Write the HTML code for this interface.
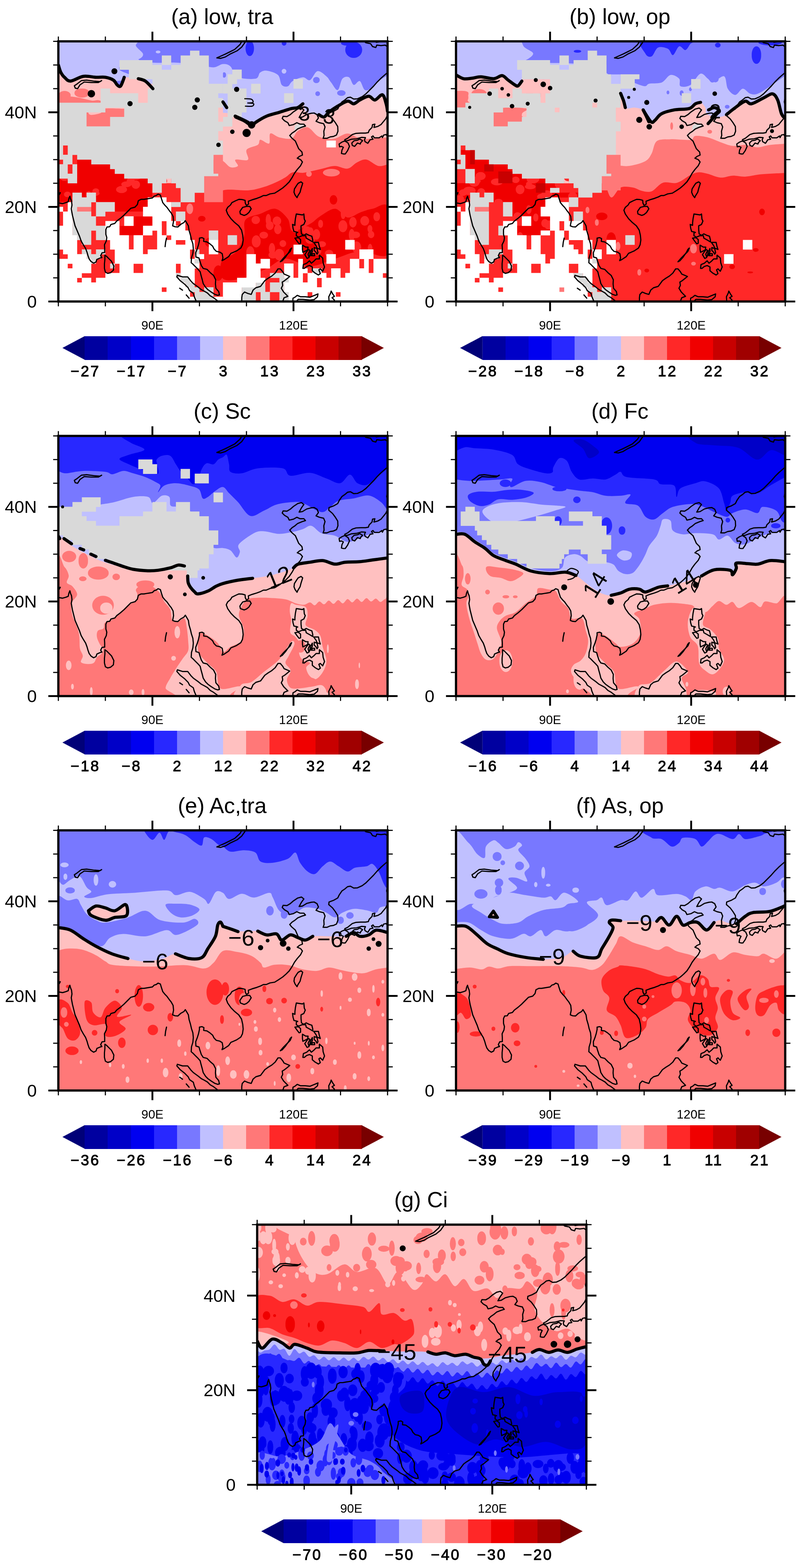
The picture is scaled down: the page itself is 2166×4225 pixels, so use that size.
<!DOCTYPE html>
<html lang="en">
<head>
<meta charset="utf-8">
<title>Cloud type maps (a)-(g)</title>
<style>
html,body{margin:0;padding:0;background:#fff;}
body{width:2166px;height:4225px;overflow:hidden;}
svg{display:block;}
text{font-family:"Liberation Sans",sans-serif;fill:#000;}
.tt{font-size:59px;text-anchor:middle;}
.yl{font-size:47px;text-anchor:end;}
.xl{font-size:33.5px;text-anchor:middle;}
.cl{font-size:40.5px;text-anchor:middle;letter-spacing:3.8px;stroke:#000;stroke-width:1.3px;}
.ct{font-size:52px;text-anchor:middle;}
</style>
</head>
<body>
<svg width="2166" height="4225" viewBox="0 0 2166 4225">
<rect width="2166" height="4225" fill="#fff"/>
<defs>
<g id="coast" fill="none" stroke="#000" stroke-width="3.2" stroke-linejoin="round" stroke-linecap="round">
<path d="M-12.7,-266.4L0,-265.7L11.4,-263.8L20.3,-266.4L26.6,-268.9L28.5,-277.8L31,-283.6L32.9,-276.6L35.5,-270.2L36.7,-260L34.8,-249.8L36.1,-242.2L38,-232L41.8,-216.7L45,-203.9L49.4,-193.7L53.2,-184.8L57,-175.9L61.4,-163.1L67.2,-152.9L73.5,-142.7L77.3,-132.5L79.8,-123.6L83,-114.7L88.1,-107.7L95,-103.2L101.4,-106.4L103.9,-113.4L112.8,-117.3L117.2,-118.5L114,-123.6L117.8,-131.3L124.8,-131.9L124.8,-142.7L124.2,-152.9L129.2,-163.1L130.5,-172.1L128,-181L128,-193.7L131.1,-200.7L138.1,-201.4L141.9,-207.7L152,-210.3L157.1,-216.7L167.2,-224.3L177.4,-233.2L187.5,-243.4L195.1,-251.1L206.5,-254.3L212.9,-261.3L215.4,-271.5L223,-275.3L230.6,-275.3L238.2,-276.6L245.8,-277.8L253.4,-279.1L258.5,-284.2L263.5,-285.5L268.6,-289.3L274.9,-286.8L277.5,-277.8L281.3,-266.4L287.6,-258.7L292.7,-253.6L299,-244.7L304.1,-238.3L309.1,-229.4L310.4,-216.7L307.9,-203.9L314.2,-201.4L321.8,-200.7L329.4,-207.7L338.3,-212.8L342.1,-217.9L345.9,-211.6L350.3,-203.9L352.2,-191.2L356,-178.4L358.6,-167L362.4,-155.5L363.6,-142.7L362.4,-130L358.6,-117.3L357.9,-104.5L362.4,-100.7L368.7,-94.3L376.3,-86.7L382,-80.3L384.5,-70.1L387.7,-58.6L390.2,-48.4L396.6,-38.2L402.9,-31.9L411.8,-25.5L421.9,-19.1L429.5,-16.6L433.9,-17.8L432,-26.8L424.4,-35.7L423.2,-47.2L423.8,-58.6L418.1,-70.1L409.2,-77.7L400.4,-86.7L390.2,-89.2L385.2,-96.9L381.4,-108.3L378.8,-117.3L370.6,-119.8L370,-131.3L374.4,-142.7L377.6,-152.9L380.1,-164.4L380.1,-170.8L387.1,-172.1L392.1,-169.5L391.5,-161.9L400.4,-160.6L408,-155.5L415.6,-149.1L419.4,-141.5L425.7,-135.1L434.6,-133.2L441.5,-128.7L443.4,-117.3L440.9,-110.2L447.3,-113.4L458.7,-121.1L465,-130L471.3,-132.5L480.2,-136.4L491.6,-144L496,-152.9L497.9,-165.7L496.7,-178.4L493.5,-192.4L485.9,-203.9L475.1,-212.8L465,-223L456.1,-235.8L452.3,-246L456.1,-253.6L463.7,-260L467.5,-266.4L477.7,-271.5L486.5,-275.3L495.4,-274.7L503,-272.7L503.6,-265.1L506.8,-258.7L512.5,-262.5L511.9,-270.2L522,-274L534.7,-277.8L544.8,-281.7L552.4,-285.5L560,-285.5L570.1,-289.9L582.8,-291.9L593,-298.2L604.4,-305.9L613.2,-313.5L622.1,-322.4L629.7,-333.9L636,-345.4L643.6,-355.6L652.5,-365.8L657.6,-376L652.5,-382.3L643.6,-386.2L650,-391.3L657.6,-394.5L656.3,-402.7L647.4,-411.7L643.6,-420.6L638.6,-432.1L628.4,-441L623.4,-447.3L629.7,-453.7L637.3,-458.8L644.9,-465.2L657.6,-470.3L665.8,-472.8L661.4,-477.9L651.2,-477.9L642.4,-481.8L633.5,-476.7L622.1,-474.1L618.3,-481.8L609.4,-486.9L603.1,-493.2L605.6,-499L615.8,-498.3L624.6,-503.4L633.5,-511.1L644.9,-518.7L655,-521.3L661.4,-516.2L655,-507.3L648.7,-495.8L657.6,-497.1L669,-504.1L681.6,-507.3L689.2,-507.9L696.9,-503.4L700.7,-494.5L694.3,-485.6L703.2,-481.8L714.6,-479.2L718.4,-470.3L715.2,-458.8L715.9,-447.3L713.3,-439.7L723.5,-439.7L732.3,-443.5L741.2,-444.8L749.4,-448.6L753.2,-458.8L752.6,-471.6L746.3,-481.8L738.7,-492L728.5,-500.9L729.2,-507.9L741.2,-512.3L752.6,-518.7L757,-527.6L764,-537.8L771.6,-542.9L779.2,-549.3L786.8,-550.6L795.7,-545.5L805.8,-546.1L818.5,-551.9L828.6,-559.5L838.8,-569.7L848.9,-579.9L859,-591.4L869.2,-601.6L879.3,-610.5L886.9,-616.9L894.5,-630.9M-6.3,-284.2L2.5,-288L5.1,-293.1L-2.5,-291.9M821,-703.5L828.6,-697.2L841.3,-694.6L846.4,-687L855.2,-684.4L857.8,-690.8L869.2,-689.5L880.6,-690.8L890.7,-683.1M851.4,-704.8L856.5,-698.4L864.1,-699.7L866.6,-704.8M756.4,-424.4L764,-429.5L771.6,-432.7L780.5,-427L784.3,-418L779.2,-406.6L772.9,-397.6L767.8,-397.6L762.7,-398.9L764,-407.8L767.8,-415.5L762.7,-418L757.7,-416.8ZM790.6,-427L796.9,-433.3L805.8,-434.6L812.1,-437.8L819.7,-433.3L814.7,-428.2L813.4,-424.4L805.8,-427L798.2,-418L791.9,-420.6ZM889.4,-504.7L885.6,-499.6L881.8,-492L875.5,-484.3L869.2,-476.7L860.3,-471.6L850.2,-469L852.7,-477.9L846.4,-476.7L845.1,-469L837.5,-461.4L835,-455L827.4,-453.7L814.7,-453.7L802,-453.1L791.9,-449.9L779.2,-439.7L771.6,-435.9L772.2,-432.7L779.2,-433.3L789.3,-437.2L803.3,-438.4L817.2,-442.3L827.4,-441.6L824.8,-435.9L826.1,-430.8L833.7,-426.3L840,-435.9L847.6,-437.2L843.8,-443.5L847.6,-446.1L851.4,-441L864.1,-441L871.7,-446.1L873,-441.6L876.8,-448.6L883.1,-449.9L885.6,-446.1L890.7,-448.6M890.7,-527.6L886.3,-530.2L884.4,-537.8L885.6,-544.2L892,-548M646.2,-318.6L653.8,-322.4L658.2,-318.6L656.3,-312.3L653.8,-304.6L651.2,-294.4L644.9,-284.2L643,-279.8L637.9,-286.8L634.8,-294.4L636,-303.3L642.4,-313.5ZM490.3,-244.7L496.7,-253.6L506.8,-256.2L515.7,-256.2L519.5,-249.8L513.1,-239.6L506.8,-234.5L500.5,-232L490.3,-235.8L489.1,-242.2ZM125.4,-124.9L130.5,-121.1L138.1,-113.4L143.2,-108.3L149.5,-95.6L148.2,-84.1L140.6,-77.7L133,-75.8L126.7,-79L124.2,-89.2L124.2,-102L125.4,-113.4ZM429.5,6.4L428.2,-2.5L418.1,-10.2L409.2,-15.3L401.6,-22.9L392.8,-28L385.2,-31.9L377.6,-38.2L363.6,-48.4L357.3,-54.8L348.4,-66.3L334.5,-66.3L320.6,-70.7L319.3,-66.3L328.2,-56.1L339.6,-47.2L349.7,-37L353.5,-29.3L363.6,-22.3L366.2,-12.7L370,-3.8L376.3,5.1M326.9,-35.7L334.5,-30.6M344.6,-17.8L352.2,-8.9M287.6,-147.8L288.9,-159.3L291.4,-170.8M494.1,6.4L494.1,-10.2L495.4,-19.1L501.7,-25.5L510.6,-21.7L519.5,-19.1L524.5,-30.6L532.1,-37L544.8,-40.8L556.2,-56.1L565.1,-62.5L575.2,-68.8L584.1,-76.5L591.7,-87.9L598,-87.9L604.4,-80.3L608.2,-73.9L623.4,-67.5L615.8,-61.2L609.4,-56.1L603.1,-52.3L604.4,-43.3L600.6,-35.7L606.9,-25.5L618.3,-14L608.2,-10.2L601.8,6.4M631,6.4L632.2,-8.9L637.3,-11.5L643.6,-16.6L652.5,-12.7L665.2,-12.7L677.8,-11.5L690.5,-16.6L699.4,-20.4L698.1,-12.7L689.2,-5.1L677.8,-3.8L658.8,-5.7L646.2,-5.7L634.8,6.4M729.8,6.4L728.5,-12.7L733.6,-22.9L734.9,-28L739.9,-19.1L743.7,-14L737.4,-10.2L743.7,-3.8L738.7,6.4M641.1,-235.8L657.6,-233.2L661.4,-235.8L662.6,-221.8L665.2,-216.7L661.4,-207.7L653.8,-203.9L653.8,-193.7L655,-182.3L661.4,-178.4L667.7,-182.3L675.3,-178.4L682.9,-175.9L685.4,-165.7L685.4,-160.6L676.6,-165.7L667.7,-170.8L666.4,-177.2L656.3,-177.2L647.4,-173.3L641.1,-177.2L641.1,-184.8L644.9,-186.1L641.1,-187.4L634.8,-188.6L632.2,-197.5L631,-207.7L637.3,-205.2L637.3,-211.6L638.6,-223ZM637.3,-170.8L646.2,-172.1L652.5,-167L652.5,-156.8L648.7,-155.5L643.6,-161.9ZM598,-107.1L606.9,-117.3L617,-127.4L624.6,-135.1L628.4,-144L624.6,-140.2L620.8,-132.5L612,-119.8L603.1,-109.6ZM657.6,-151.7L666.4,-146.6L672.8,-146.6L671.5,-138.9L658.8,-132.5L657.6,-140.2ZM663.9,-126.2L670.2,-116L675.3,-118.5L672.8,-127.4L677.8,-137.6L674,-140.2L669,-133.8ZM676.6,-121.1L684.2,-133.8L684.2,-142.7L679.1,-132.5ZM681.6,-123.6L690.5,-123.6L690.5,-128.7L684.2,-128.7ZM688,-159.3L700.7,-159.3L703.2,-147.8L705.7,-140.2L696.9,-144L694.3,-150.4ZM689.2,-145.3L696.9,-142.7L699.4,-131.3L696.9,-127.4L694.3,-132.5L689.2,-137.6ZM658.8,-89.2L660.1,-99.4L669,-103.2L676.6,-109.6L681.6,-103.2L688,-108.3L694.3,-114.7L703.2,-114.7L703.2,-124.9L712.1,-117.3L713.3,-104.5L717.1,-93L712.1,-81.6L705.7,-87.9L701.9,-85.4L705.7,-75.2L700.7,-71.4L691.8,-76.5L684.2,-82.8L684.2,-93L676.6,-96.9L669,-94.3L662.6,-89.2ZM43.1,-581.2L50.7,-586.3L62.1,-595.2L76,-596.5L95,-593.9L112.8,-592.6L116.6,-595.2L107.7,-590.1L88.7,-590.1L69.7,-591.4L58.3,-583.7L51.9,-573.5L45.6,-574.8ZM427,-656.4L437.1,-655.1L449.8,-658.9L462.5,-666.6L481.5,-675.5L494.1,-685.7L503,-698.4L505.5,-709.9L496.7,-704.8L489.1,-692.1L475.1,-679.3L462.5,-672.9L449.8,-666.6L438.4,-661.5Z"/>
</g>
<clipPath id="clip-a"><rect x="157.2" y="111.4" width="886.9" height="701"/></clipPath>
<clipPath id="clip-b"><rect x="1228.5" y="111.4" width="886.9" height="701"/></clipPath>
<clipPath id="clip-c"><rect x="157.2" y="1174.6" width="886.9" height="701"/></clipPath>
<clipPath id="clip-d"><rect x="1228.5" y="1174.6" width="886.9" height="701"/></clipPath>
<clipPath id="clip-e"><rect x="157.2" y="2237.4" width="886.9" height="701"/></clipPath>
<clipPath id="clip-f"><rect x="1228.5" y="2237.4" width="886.9" height="701"/></clipPath>
<clipPath id="clip-g"><rect x="692.8" y="3299.8" width="886.9" height="701"/></clipPath>
</defs>
<g id="panel-a">
<g clip-path="url(#clip-a)">
<rect x="155.2" y="109.4" width="890.9" height="705" fill="#7878ff"/>
<path d="M661.5,130.5a11.4,20.4 0 1,0 22.8,0a11.4,20.4 0 1,0 -22.8,0ZM759,116.5a6.3,6.4 0 1,0 12.7,0a6.3,6.4 0 1,0 -12.7,0ZM930.1,134.4a22.8,21.7 0 1,0 45.6,0a22.8,21.7 0 1,0 -45.6,0ZM918.7,116.5a15.2,6.4 0 1,0 30.4,0a15.2,6.4 0 1,0 -30.4,0Z" fill="#2828ff"/>
<path d="M358.7,98.7C359.9,102.9 361.8,116.3 366.3,124.2C370.7,132 384.2,139.9 385.3,145.8C386.3,151.8 368.4,156 372.6,159.9C376.8,163.7 393.7,167.3 410.6,168.8C427.5,170.3 452.8,167.7 473.9,168.8C495.1,169.8 520.4,173 537.3,175.1C554.2,177.3 564.8,181.9 575.3,181.5C585.9,181.1 593,173 600.6,172.6C608.3,172.2 614.6,173.2 620.9,179C627.3,184.7 627.5,201.5 638.7,207C649.9,212.5 677.7,214 688.1,212.1C698.4,210.2 695.7,199.2 700.7,195.5C705.8,191.9 710.5,189.4 718.5,190.4C726.5,191.5 742.1,195.5 748.9,201.9C755.6,208.3 754.6,223.6 759,228.7C763.5,233.8 770.6,234.2 775.5,232.5C780.4,230.8 781.4,222.5 788.2,218.5C794.9,214.4 808.2,208.7 816,208.3C823.9,207.9 828.5,218.7 835,215.9C841.6,213.2 847.9,193.4 855.3,191.7C862.7,190 873.3,200.6 879.4,205.7C885.5,210.8 887,216.1 892.1,222.3C897.1,228.5 904.7,244.4 909.8,242.7C914.9,241 917.4,217.8 922.5,212.1C927.5,206.4 935.1,205.5 940.2,208.3C945.3,211 948,227 952.9,228.7C957.7,230.4 964.3,216.1 969.3,218.5C974.4,220.8 977.6,239.8 983.3,242.7C989,245.6 997.4,239.7 1003.6,235.7C1009.7,231.7 1012,224.7 1020,218.5C1028.1,212.2 1046.4,201.5 1051.7,198.1L1051.7,817.4 L358.7,817.4 Z" fill="#c0c0ff"/>
<path d="M150.9,98.7C185.5,79.6 322.8,94.4 358.7,98.7C394.6,102.9 361.8,116.3 366.3,124.2C370.7,132 384.2,139.9 385.3,145.8C386.3,151.8 381,156 372.6,159.9C364.1,163.7 343,164.1 334.6,168.8C326.1,173.5 317.7,180.5 321.9,187.9C326.1,195.3 388.4,209.1 359.9,213.4C331.4,217.6 185.7,232.5 150.9,213.4C116,194.3 116.2,117.8 150.9,98.7Z" fill="#c0c0ff"/>
<path d="M843.5,215.6a8.9,7.6 0 1,0 17.7,0a8.9,7.6 0 1,0 -17.7,0ZM849.5,252.4a6.3,6.4 0 1,0 12.7,0a6.3,6.4 0 1,0 -12.7,0ZM908.2,250.7a11.4,7.6 0 1,0 22.8,0a11.4,7.6 0 1,0 -22.8,0ZM598.9,202a5.1,6.4 0 1,0 10.1,0a5.1,6.4 0 1,0 -10.1,0Z" fill="#7878ff"/>
<path d="M758.8,192a6.3,6.4 0 1,0 12.7,0a6.3,6.4 0 1,0 -12.7,0ZM419.5,140a6.3,3.8 0 1,0 12.7,0a6.3,3.8 0 1,0 -12.7,0Z" fill="#c0c0ff"/>
<path d="M150.9,177.7C153,180.5 159.7,189.2 163.5,194.3C167.3,199.4 169.2,204.3 173.7,208.3C178.1,212.3 181.7,218.9 190.1,218.5C198.6,218.1 212.9,207.4 224.4,205.7C235.8,204 248.6,207.9 258.6,208.3C268.5,208.7 276.1,207 283.9,208.3C291.7,209.6 300.2,212.5 305.4,215.9C310.7,219.3 312.4,225.9 315.6,228.7C318.7,231.4 321.7,234.6 324.4,232.5C327.2,230.4 330.4,220 332,215.9C333.7,211.9 329.9,209.3 334.6,208.3C339.2,207.2 353.6,208.9 359.9,209.6C366.3,210.2 367.3,210.6 372.6,212.1C377.9,213.6 385,214 391.6,218.5C398.1,222.9 398.1,231.2 411.9,238.9C425.6,246.5 453,255.9 473.9,264.4C494.9,272.9 518.3,283.5 537.3,289.9C556.3,296.2 575.3,300.1 588,302.6C600.6,305.1 605.7,303.4 613.3,305.1C620.9,306.8 624.5,308.8 633.6,312.8C642.7,316.8 660.6,324.7 667.8,329.4C675,334 673.1,340.8 676.7,340.8C680.3,340.8 682.4,334 689.3,329.4C696.3,324.7 707.9,317.3 718.5,312.8C729,308.3 741.5,306 752.7,302.6C763.9,299.2 777.4,294.5 785.6,292.4C793.9,290.3 797,292 802.1,289.9C807.2,287.7 812.7,278.2 816,279.7C819.4,281.1 819.2,294.3 822.4,298.8C825.5,303.2 828.9,304.7 835,306.4C841.2,308.1 852.8,307.5 859.1,309C865.5,310.5 868.6,316.4 873.1,315.3C877.5,314.3 879.6,307.5 885.7,302.6C891.8,297.7 901.4,291 909.8,286C918.2,281 929.2,273.7 936.4,272.6C943.6,271.6 947.4,280.2 952.9,279.7C958.4,279.1 962.6,272.9 969.3,269.5C976.1,266.1 986.7,259.3 993.4,259.3C1000.2,259.3 1003.8,270.1 1009.9,269.5C1016,268.8 1025.1,253.7 1030.2,255.4C1035.2,257.1 1038,272.2 1040.3,279.7C1042.6,287.1 1042.2,296.2 1044.1,300.1C1046,303.9 1050.4,302.2 1051.7,302.6L1051.7,817.4 L150.9,817.4 Z" fill="#ffc0c0"/>
<path d="M150.9,264.4C158.3,263.7 179.4,259.5 195.2,260.5C211,261.6 231.1,268 245.9,270.7C260.7,273.5 256.4,263.3 283.9,277.1C311.4,290.9 368.4,330.2 410.6,353.6C452.8,376.9 509.8,405.6 537.3,417.3C564.8,429 564.8,420.9 575.3,423.7C585.9,426.4 593.1,429.3 600.6,433.7C608.2,438.2 614.1,448.3 620.8,450.6C627.5,452.8 638.7,450.5 640.9,447.1C643.2,443.8 629.7,433.2 634.2,430.4C638.7,427.6 662.8,434.9 667.8,430.4C672.8,426 659.9,410.3 664.4,403.5C668.9,396.8 688.5,394.6 694.7,390.2C700.8,385.7 696.4,377.2 701.4,376.6C706.4,376.1 720.3,389.5 724.8,386.7C729.3,383.9 723.8,362.6 728.2,359.8C732.7,357 742.2,367.6 751.7,369.9C761.2,372.1 776.8,376.1 785.3,373.3C793.7,370.6 794.8,358.2 802.1,353.2C809.4,348.2 820,340.9 829,343.1C837.9,345.4 847.4,361.5 855.8,366.6C864.2,371.6 871.4,372.2 879.3,373.3C887.1,374.5 893.3,375.6 902.8,373.3C912.4,371.1 925.2,359.8 936.4,359.8C947.6,359.8 958.8,371.1 970,373.3C981.2,375.6 990.1,373.9 1003.6,373.3C1017,372.8 1042.7,370.5 1050.6,369.9L1050.6,817.4 L150.9,817.4 Z" fill="#ff7878"/>
<path d="M157.5,257.5a16.5,11.5 0 1,0 32.9,0a16.5,11.5 0 1,0 -32.9,0ZM200.7,250.7a20.3,11.5 0 1,0 40.5,0a20.3,11.5 0 1,0 -40.5,0Z" fill="#ff7878"/>
<path d="M150.9,379.1C173,383.3 240.6,396.1 283.9,404.6C327.2,413.1 370.5,415.2 410.6,430.1C450.7,444.9 501.4,478.9 524.6,493.8C547.9,508.6 541.5,511.2 550,519.3C558.4,527.3 566.9,543.3 575.3,542.2C583.8,541.1 585.2,517.8 600.6,512.9C616.1,508 650.9,514 667.8,512.9C684.7,511.8 690.8,509.5 702,506.5C713.2,503.5 724,499.7 735,495C745.9,490.4 759,483.6 767.9,478.5C776.8,473.4 780.1,466.6 788.2,464.5C796.2,462.3 807,466.4 816,465.7C825.1,465.1 833.8,462.5 842.6,460.6C851.5,458.7 859.3,456.5 869.3,454.3C879.2,452 891,447.3 902.2,447.3C913.4,447.3 926.5,455.9 936.4,454.3C946.3,452.7 953.3,441.7 961.7,437.7C970.2,433.7 977.4,428.5 987.1,430.1C996.8,431.6 1009.3,445.6 1020,447.3C1030.8,449 1046.4,441.4 1051.7,440.2L1051.7,817.4 L150.9,817.4 Z" fill="#ff2828"/>
<path d="M661.1,592.8C668.4,582.7 687.9,581.1 701.4,576.1C714.8,571.1 729.4,560.4 741.7,562.6C754,564.8 767.4,579.4 775.2,589.5C783.1,599.6 778.6,620.8 788.7,623C798.7,625.2 823.4,609.6 835.7,602.9C848,596.2 851.3,589.4 862.5,582.7C873.7,576 890.5,562 902.8,562.6C915.1,563.2 925.2,584.5 936.4,586.2C947.6,587.9 958.8,576.6 970,572.7C981.2,568.7 990.7,564.8 1003.6,562.6C1016.4,560.4 1039.9,539.1 1047.1,559.3C1054.4,579.4 1060,664 1047.1,683.5C1034.3,703.1 994,674.6 970,676.8C945.9,679 925.2,690.2 902.8,696.9C880.4,703.6 858.1,717.1 835.7,717.1C813.3,717.1 788.1,695.8 768.5,696.9C748.9,698.1 737.7,714.9 718.1,723.8C698.5,732.8 670.5,746.2 650.9,750.7C631.4,755.2 609.6,758.6 600.6,750.7C591.7,742.9 591.8,715.5 597.4,703.7C603,691.9 624.2,691.3 634.2,680.1C644.3,668.9 653.2,651.1 657.7,636.5C662.1,622 653.8,602.9 661.1,592.8Z" fill="#f00000"/>
<path d="M716.3,607.8a10.4,12 0 1,0 20.8,0a10.4,12 0 1,0 -20.8,0ZM734.7,595.4a11.4,12.2 0 1,0 22.8,0a11.4,12.2 0 1,0 -22.8,0ZM849.6,662.8a6.3,11 0 1,0 12.7,0a6.3,11 0 1,0 -12.7,0ZM875.1,682.9a11.4,9.7 0 1,0 22.8,0a11.4,9.7 0 1,0 -22.8,0ZM739.8,686.2a12.7,14.3 0 1,0 25.3,0a12.7,14.3 0 1,0 -25.3,0ZM990,616.8a6.6,10.6 0 1,0 13.2,0a6.6,10.6 0 1,0 -13.2,0ZM840.7,677.3a12.4,11 0 1,0 24.8,0a12.4,11 0 1,0 -24.8,0ZM715.7,592.3a7.1,15.9 0 1,0 14.2,0a7.1,15.9 0 1,0 -14.2,0ZM827.7,624.5a8.5,12 0 1,0 17,0a8.5,12 0 1,0 -17,0ZM723.3,686.9a11.8,9.7 0 1,0 23.6,0a11.8,9.7 0 1,0 -23.6,0ZM948.2,666.1a12.4,15.7 0 1,0 24.8,0a12.4,15.7 0 1,0 -24.8,0ZM940.8,598.9a10,14.1 0 1,0 20,0a10,14.1 0 1,0 -20,0ZM699,633.6a11.5,9.4 0 1,0 23.1,0a11.5,9.4 0 1,0 -23.1,0ZM1006.1,583.9a8.9,11 0 1,0 17.7,0a8.9,11 0 1,0 -17.7,0ZM822.9,644.7a12.7,11.1 0 1,0 25.3,0a12.7,11.1 0 1,0 -25.3,0ZM663.4,680a10.9,16.4 0 1,0 21.8,0a10.9,16.4 0 1,0 -21.8,0ZM842.6,631.8a9.9,14.3 0 1,0 19.8,0a9.9,14.3 0 1,0 -19.8,0ZM738.5,617.7a9.9,13.3 0 1,0 19.8,0a9.9,13.3 0 1,0 -19.8,0ZM724.2,670.7a8.5,15.9 0 1,0 17,0a8.5,15.9 0 1,0 -17,0ZM787.5,619.1a8.2,8.5 0 1,0 16.5,0a8.2,8.5 0 1,0 -16.5,0ZM677.7,592.8a11.3,11 0 1,0 22.6,0a11.3,11 0 1,0 -22.6,0ZM911.7,609.5a12,16.2 0 1,0 24.1,0a12,16.2 0 1,0 -24.1,0ZM806.3,571.5a12.4,12.9 0 1,0 24.8,0a12.4,12.9 0 1,0 -24.8,0ZM991,631.9a8.7,9.8 0 1,0 17.5,0a8.7,9.8 0 1,0 -17.5,0ZM990.3,671.7a6.7,14.8 0 1,0 13.4,0a6.7,14.8 0 1,0 -13.4,0ZM946.5,632.8a11.7,8.2 0 1,0 23.3,0a11.7,8.2 0 1,0 -23.3,0ZM753.1,656.3a9,9.2 0 1,0 18,0a9,9.2 0 1,0 -18,0ZM678.3,650.4a12,16.4 0 1,0 24.1,0a12,16.4 0 1,0 -24.1,0ZM939.6,633.3a8,16.2 0 1,0 16,0a8,16.2 0 1,0 -16,0ZM857.3,603.1a6.5,9.6 0 1,0 12.9,0a6.5,9.6 0 1,0 -12.9,0ZM970.7,595.1a11.9,13 0 1,0 23.8,0a11.9,13 0 1,0 -23.8,0ZM814.3,621a11.7,10.5 0 1,0 23.3,0a11.7,10.5 0 1,0 -23.3,0ZM856,657.9a11.1,7.8 0 1,0 22.3,0a11.1,7.8 0 1,0 -22.3,0ZM918,575.9a6.5,13 0 1,0 12.9,0a6.5,13 0 1,0 -12.9,0Z" fill="#ff2828"/>
<path d="M888.3,538.4a10.1,12.7 0 1,0 20.3,0a10.1,12.7 0 1,0 -20.3,0ZM619.7,729.6a6.3,11.5 0 1,0 12.7,0a6.3,11.5 0 1,0 -12.7,0ZM646.3,710.4a5.1,6.4 0 1,0 10.1,0a5.1,6.4 0 1,0 -10.1,0ZM533.5,589.4a10.1,7.6 0 1,0 20.3,0a10.1,7.6 0 1,0 -20.3,0ZM552.5,653.1a16.5,12.7 0 1,0 32.9,0a16.5,12.7 0 1,0 -32.9,0ZM575.3,735.9a12.7,19.1 0 1,0 25.3,0a12.7,19.1 0 1,0 -25.3,0Z" fill="#f00000"/>
<path d="M502.5,562.6a8.9,12.7 0 1,0 17.7,0a8.9,12.7 0 1,0 -17.7,0ZM824.7,468.7a7.6,7.6 0 1,0 15.2,0a7.6,7.6 0 1,0 -15.2,0ZM869.9,465.2a22.8,10.2 0 1,0 45.6,0a22.8,10.2 0 1,0 -45.6,0Z" fill="#ff7878"/>
<path d="M281.4,291C287.5,287.3 326.1,284.6 335.1,291C344,297.4 337.3,323.2 335.1,329.6C332.8,336.1 324.4,332.4 321.7,329.6C318.9,326.8 322.3,315.7 318.4,312.9C314.5,310.1 304.4,316.6 298.2,312.9C292.1,309.3 275.2,294.7 281.4,291Z" fill="#ff7878"/>
<path d="M231.1,323C231.6,319.1 241.1,311.2 247.8,309.5C254.5,307.8 266.9,310.1 271.4,312.9C275.8,315.7 270.7,323.5 274.7,326.3C278.6,329.1 291.4,326.8 294.8,329.6C298.2,332.4 299.3,340.9 294.8,343.1C290.3,345.4 276.3,344.8 267.9,343.1C259.6,341.5 250.6,336.4 244.5,333.1C238.4,329.7 230.5,326.9 231.1,323Z" fill="#ff7878"/>
<path d="M241.1,299.4C247.2,295.5 265.1,288.3 281.4,286C297.6,283.8 329,284.9 338.5,286C348,287.2 348,291.7 338.5,292.8C329,293.9 292.6,290.8 281.4,292.8C270.2,294.7 277.5,301.7 271.4,304.5C265.2,307.3 249.5,310.3 244.5,309.5C239.4,308.6 234.9,303.3 241.1,299.4Z" fill="#ffc0c0"/>
<path d="M169.9,391.5h12.7v13.3h-12.7ZM169.9,404.3h12.7v13.3h-12.7ZM195.2,417h12.7v13.3h-12.7ZM157.2,429.8h12.7v13.3h-12.7ZM195.2,429.8h12.7v13.3h-12.7ZM182.5,442.5h12.7v13.3h-12.7ZM182.5,455.2h12.7v13.3h-12.7Z" fill="#ff2828"/>
<path d="M207.9,429.8h38v13.3h-38ZM207.9,442.5h88.7v13.3h-88.7ZM207.9,455.2h101.4v13.3h-101.4Z" fill="#f00000"/>
<path d="M207.9,468h126.7v13.3h-126.7ZM157.2,480.7h25.3v13.3h-25.3ZM207.9,480.7h190v13.3h-190ZM157.2,493.5h253.4v13.3h-253.4ZM157.2,506.2h253.4v13.3h-253.4ZM157.2,519h38v13.3h-38ZM220.5,519h12.7v13.3h-12.7ZM258.6,519h152v13.3h-152ZM157.2,531.7h38v13.3h-38ZM258.6,531.7h139.4v13.3h-139.4ZM309.2,544.5h88.7v13.3h-88.7ZM309.2,557.2h76v13.3h-76ZM359.9,582.7h50.7v13.3h-50.7ZM359.9,595.4h50.7v13.3h-50.7ZM321.9,608.2h63.4v13.3h-63.4ZM321.9,620.9h63.4v13.3h-63.4Z" fill="#f00000"/>
<path d="M448.6,480.7h12.7v13.3h-12.7Z" fill="#ffc0c0"/>
<path d="M435.9,493.5h38v13.3h-38ZM435.9,506.2h50.7v13.3h-50.7ZM410.6,519h25.3v13.3h-25.3ZM435.9,519h50.7v13.3h-50.7ZM448.6,531.7h38v13.3h-38ZM157.2,544.5h25.3v13.3h-25.3ZM245.9,544.5h12.7v13.3h-12.7ZM169.9,557.2h12.7v13.3h-12.7ZM245.9,557.2h12.7v13.3h-12.7ZM157.2,569.9h12.7v13.3h-12.7ZM245.9,569.9h12.7v13.3h-12.7ZM283.9,569.9h101.4v13.3h-101.4ZM461.3,569.9h12.7v13.3h-12.7ZM157.2,582.7h12.7v13.3h-12.7ZM258.6,582.7h76v13.3h-76ZM461.3,582.7h12.7v13.3h-12.7ZM157.2,595.4h12.7v13.3h-12.7ZM258.6,595.4h25.3v13.3h-25.3ZM321.9,595.4h12.7v13.3h-12.7ZM435.9,595.4h12.7v13.3h-12.7ZM473.9,595.4h12.7v13.3h-12.7ZM435.9,608.2h12.7v13.3h-12.7ZM245.9,620.9h12.7v13.3h-12.7ZM410.6,620.9h12.7v13.3h-12.7ZM435.9,620.9h12.7v13.3h-12.7ZM245.9,633.7h12.7v13.3h-12.7ZM347.2,633.7h12.7v13.3h-12.7ZM385.3,633.7h38v13.3h-38ZM448.6,633.7h12.7v13.3h-12.7ZM207.9,646.4h12.7v13.3h-12.7ZM245.9,646.4h50.7v13.3h-50.7ZM347.2,646.4h12.7v13.3h-12.7ZM385.3,646.4h38v13.3h-38ZM473.9,646.4h25.3v13.3h-25.3ZM207.9,659.2h88.7v13.3h-88.7ZM347.2,659.2h12.7v13.3h-12.7ZM385.3,659.2h38v13.3h-38ZM157.2,671.9h12.7v13.3h-12.7ZM207.9,671.9h12.7v13.3h-12.7ZM245.9,671.9h12.7v13.3h-12.7ZM283.9,671.9h25.3v13.3h-25.3ZM385.3,671.9h12.7v13.3h-12.7ZM512,671.9h12.7v13.3h-12.7ZM157.2,684.7h25.3v13.3h-25.3ZM271.2,684.7h38v13.3h-38ZM512,684.7h12.7v13.3h-12.7ZM258.6,697.4h50.7v13.3h-50.7ZM182.5,710.1h12.7v13.3h-12.7ZM245.9,710.1h50.7v13.3h-50.7ZM309.2,710.1h12.7v13.3h-12.7ZM359.9,710.1h25.3v13.3h-25.3ZM473.9,710.1h12.7v13.3h-12.7ZM245.9,722.9h76v13.3h-76ZM359.9,722.9h25.3v13.3h-25.3ZM473.9,722.9h12.7v13.3h-12.7ZM220.5,735.6h63.3v13.3h-63.3ZM207.9,748.4h12.7v13.3h-12.7ZM245.9,748.4h12.7v13.3h-12.7ZM435.9,773.9h12.7v13.3h-12.7ZM537.3,773.9h12.7v13.3h-12.7ZM512,786.6h12.7v13.3h-12.7Z" fill="#ff2828"/>
<path d="M207.9,557.2h38v13.3h-38Z" fill="#ff7878"/>
<path d="M326.7,496.5a13.8,7.8 0 1,0 27.6,0a13.8,7.8 0 1,0 -27.6,0ZM351.3,476.7a14.6,7.3 0 1,0 29.1,0a14.6,7.3 0 1,0 -29.1,0ZM354.5,497.6a11.4,11.3 0 1,0 22.8,0a11.4,11.3 0 1,0 -22.8,0ZM312.7,510.7a14.8,9.6 0 1,0 29.6,0a14.8,9.6 0 1,0 -29.6,0ZM245.6,521a11.4,6.6 0 1,0 22.8,0a11.4,6.6 0 1,0 -22.8,0ZM341.3,488.4a10.9,10.7 0 1,0 21.8,0a10.9,10.7 0 1,0 -21.8,0ZM438.9,502.3a12.8,7 0 1,0 25.6,0a12.8,7 0 1,0 -25.6,0ZM171.1,469.8a9.8,7.5 0 1,0 19.5,0a9.8,7.5 0 1,0 -19.5,0ZM433.4,487.4a8.5,8 0 1,0 17,0a8.5,8 0 1,0 -17,0ZM231.3,523.9a7.6,9 0 1,0 15.2,0a7.6,9 0 1,0 -15.2,0ZM249.1,514.5a9,6.9 0 1,0 18,0a9,6.9 0 1,0 -18,0ZM160.5,478a13.3,9.2 0 1,0 26.6,0a13.3,9.2 0 1,0 -26.6,0ZM193.4,533.4a8.5,8 0 1,0 17,0a8.5,8 0 1,0 -17,0ZM172.3,523.7a9.1,7.4 0 1,0 18.2,0a9.1,7.4 0 1,0 -18.2,0Z" fill="#ff2828"/>
<path d="M512,136.6h25.3v13.3h-25.3ZM435.9,149.4h25.3v13.3h-25.3ZM486.6,149.4h76v13.3h-76ZM321.9,162.1h88.7v13.3h-88.7ZM435.9,162.1h25.3v13.3h-25.3ZM486.6,162.1h76v13.3h-76ZM321.9,174.8h114v13.3h-114ZM461.3,174.8h101.4v13.3h-101.4ZM347.2,187.6h215.4v13.3h-215.4ZM347.2,200.3h215.4v13.3h-215.4ZM410.6,213.1h152v13.3h-152ZM410.6,225.8h190v13.3h-190ZM271.2,238.6h25.3v13.3h-25.3ZM397.9,238.6h202.7v13.3h-202.7ZM271.2,251.3h101.4v13.3h-101.4ZM397.9,251.3h190.1v13.3h-190.1ZM271.2,264.1h101.4v13.3h-101.4ZM397.9,264.1h202.7v13.3h-202.7ZM157.2,276.8h443.4v13.3h-443.4ZM157.2,289.6h126.7v13.3h-126.7ZM334.6,289.6h253.4v13.3h-253.4ZM157.2,302.3h76v13.3h-76ZM334.6,302.3h253.4v13.3h-253.4ZM157.2,315h76v13.3h-76ZM296.6,315h291.4v13.3h-291.4ZM157.2,327.8h76v13.3h-76ZM296.6,327.8h304.1v13.3h-304.1ZM157.2,340.5h443.4v13.3h-443.4ZM157.2,353.3h430.8v13.3h-430.8ZM157.2,366h430.8v13.3h-430.8ZM157.2,378.8h443.4v13.3h-443.4ZM157.2,391.5h12.7v13.3h-12.7ZM182.5,391.5h418.1v13.3h-418.1ZM157.2,404.3h12.7v13.3h-12.7ZM182.5,404.3h418.1v13.3h-418.1ZM157.2,417h38v13.3h-38ZM207.9,417h380.1v13.3h-380.1ZM169.9,429.8h25.3v13.3h-25.3ZM245.9,429.8h329.4v13.3h-329.4ZM157.2,442.5h25.3v13.3h-25.3ZM195.2,442.5h12.7v13.3h-12.7ZM296.6,442.5h278.7v13.3h-278.7ZM157.2,455.2h25.3v13.3h-25.3ZM195.2,455.2h12.7v13.3h-12.7ZM309.2,455.2h266.1v13.3h-266.1Z" fill="#d9d9d9"/>
<path d="M626,187.6h25.3v13.3h-25.3ZM613.3,200.3h38v13.3h-38ZM613.3,213.1h25.3v13.3h-25.3ZM790.7,213.1h25.3v13.3h-25.3ZM600.6,225.8h25.3v13.3h-25.3ZM676.7,225.8h25.3v13.3h-25.3ZM790.7,225.8h25.3v13.3h-25.3ZM600.6,238.6h63.4v13.3h-63.4ZM676.7,238.6h25.3v13.3h-25.3ZM613.3,251.3h50.7v13.3h-50.7ZM765.4,251.3h25.3v13.3h-25.3ZM613.3,264.1h50.7v13.3h-50.7ZM765.4,264.1h25.3v13.3h-25.3ZM613.3,276.8h50.7v13.3h-50.7ZM613.3,289.6h50.7v13.3h-50.7ZM613.3,302.3h38v13.3h-38ZM600.6,315h25.3v13.3h-25.3ZM600.6,327.8h25.3v13.3h-25.3Z" fill="#d9d9d9"/>
<path d="M879.4,378.8h25.3v13.3h-25.3ZM879.4,383.9h25.3v13.3h-25.3Z" fill="#ffffff"/>
<path d="M157.2,468h50.7v13.3h-50.7ZM334.6,468h253.4v13.3h-253.4ZM182.5,480.7h25.3v13.3h-25.3ZM397.9,480.7h50.7v13.3h-50.7ZM461.3,480.7h114v13.3h-114ZM410.6,493.5h25.3v13.3h-25.3ZM473.9,493.5h88.7v13.3h-88.7ZM410.6,506.2h25.3v13.3h-25.3ZM486.6,506.2h63.4v13.3h-63.4ZM195.2,519h25.3v13.3h-25.3ZM233.2,519h25.3v13.3h-25.3ZM486.6,519h38v13.3h-38ZM195.2,531.7h63.4v13.3h-63.4ZM486.6,531.7h38v13.3h-38ZM195.2,544.5h50.7v13.3h-50.7ZM258.6,544.5h50.7v13.3h-50.7ZM461.3,544.5h25.3v13.3h-25.3ZM195.2,557.2h12.7v13.3h-12.7ZM258.6,557.2h50.7v13.3h-50.7ZM195.2,569.9h50.7v13.3h-50.7ZM258.6,569.9h25.3v13.3h-25.3ZM473.9,569.9h25.3v13.3h-25.3ZM195.2,582.7h63.4v13.3h-63.4ZM473.9,582.7h25.3v13.3h-25.3ZM195.2,595.4h63.4v13.3h-63.4ZM195.2,608.2h88.7v13.3h-88.7ZM195.2,620.9h50.7v13.3h-50.7ZM258.6,620.9h25.3v13.3h-25.3ZM562.6,620.9h25.3v13.3h-25.3ZM207.9,633.7h38v13.3h-38ZM258.6,633.7h25.3v13.3h-25.3ZM562.6,633.7h25.3v13.3h-25.3ZM220.5,646.4h25.3v13.3h-25.3ZM220.5,671.9h25.3v13.3h-25.3ZM258.6,671.9h25.3v13.3h-25.3ZM524.6,671.9h12.7v13.3h-12.7ZM233.2,684.7h38v13.3h-38ZM245.9,697.4h12.7v13.3h-12.7ZM524.6,697.4h12.7v13.3h-12.7ZM296.6,710.1h12.7v13.3h-12.7ZM473.9,735.6h12.7v13.3h-12.7ZM486.6,748.4h25.3v13.3h-25.3ZM499.3,761.1h25.3v13.3h-25.3ZM512,773.9h25.3v13.3h-25.3ZM550,773.9h25.3v13.3h-25.3ZM524.6,786.6h50.7v13.3h-50.7ZM524.6,799.4h50.7v13.3h-50.7Z" fill="#d9d9d9"/>
<path d="M397.9,531.7h50.7v13.3h-50.7ZM182.5,544.5h12.7v13.3h-12.7ZM397.9,544.5h63.4v13.3h-63.4ZM157.2,557.2h12.7v13.3h-12.7ZM182.5,557.2h12.7v13.3h-12.7ZM385.3,557.2h76v13.3h-76ZM169.9,569.9h25.3v13.3h-25.3ZM385.3,569.9h76v13.3h-76ZM169.9,582.7h25.3v13.3h-25.3ZM334.6,582.7h25.3v13.3h-25.3ZM410.6,582.7h50.7v13.3h-50.7ZM169.9,595.4h25.3v13.3h-25.3ZM283.9,595.4h38v13.3h-38ZM334.6,595.4h25.3v13.3h-25.3ZM410.6,595.4h25.3v13.3h-25.3ZM448.6,595.4h25.3v13.3h-25.3ZM486.6,595.4h12.7v13.3h-12.7ZM157.2,608.2h38v13.3h-38ZM283.9,608.2h38v13.3h-38ZM385.3,608.2h50.7v13.3h-50.7ZM448.6,608.2h50.7v13.3h-50.7ZM157.2,620.9h38v13.3h-38ZM283.9,620.9h38v13.3h-38ZM385.3,620.9h25.3v13.3h-25.3ZM423.3,620.9h12.7v13.3h-12.7ZM448.6,620.9h63.3v13.3h-63.3ZM157.2,633.7h50.7v13.3h-50.7ZM283.9,633.7h63.4v13.3h-63.4ZM359.9,633.7h25.3v13.3h-25.3ZM423.3,633.7h25.3v13.3h-25.3ZM461.3,633.7h50.7v13.3h-50.7ZM157.2,646.4h50.7v13.3h-50.7ZM296.6,646.4h50.7v13.3h-50.7ZM359.9,646.4h25.3v13.3h-25.3ZM423.3,646.4h50.7v13.3h-50.7ZM499.3,646.4h25.3v13.3h-25.3ZM562.6,646.4h25.3v13.3h-25.3ZM157.2,659.2h50.7v13.3h-50.7ZM296.6,659.2h50.7v13.3h-50.7ZM359.9,659.2h25.3v13.3h-25.3ZM423.3,659.2h101.4v13.3h-101.4ZM562.6,659.2h25.3v13.3h-25.3ZM169.9,671.9h38v13.3h-38ZM309.2,671.9h76v13.3h-76ZM397.9,671.9h114v13.3h-114ZM562.6,671.9h25.3v13.3h-25.3ZM182.5,684.7h50.7v13.3h-50.7ZM309.2,684.7h202.7v13.3h-202.7ZM524.6,684.7h25.3v13.3h-25.3ZM157.2,697.4h88.7v13.3h-88.7ZM309.2,697.4h215.4v13.3h-215.4ZM157.2,710.1h25.3v13.3h-25.3ZM195.2,710.1h50.7v13.3h-50.7ZM321.9,710.1h38v13.3h-38ZM385.3,710.1h88.7v13.3h-88.7ZM486.6,710.1h50.7v13.3h-50.7ZM157.2,722.9h88.7v13.3h-88.7ZM321.9,722.9h38v13.3h-38ZM385.3,722.9h88.7v13.3h-88.7ZM486.6,722.9h38v13.3h-38ZM157.2,735.6h63.3v13.3h-63.3ZM283.9,735.6h190.1v13.3h-190.1ZM486.6,735.6h38v13.3h-38ZM157.2,748.4h50.7v13.3h-50.7ZM220.5,748.4h25.3v13.3h-25.3ZM258.6,748.4h228.1v13.3h-228.1ZM512,748.4h12.7v13.3h-12.7ZM157.2,761.1h342.1v13.3h-342.1ZM157.2,773.9h278.7v13.3h-278.7ZM448.6,773.9h63.3v13.3h-63.3ZM157.2,786.6h354.8v13.3h-354.8ZM157.2,799.4h367.4v13.3h-367.4ZM575.3,799.4h25.3v13.3h-25.3Z" fill="#ffffff"/>
<path d="M613.3,633.7h25.3v13.3h-25.3ZM613.3,646.4h25.3v13.3h-25.3ZM841.4,722.9h25.3v13.3h-25.3ZM727.3,735.6h38v13.3h-38ZM752.7,748.4h25.3v13.3h-25.3ZM689.3,761.1h25.3v13.3h-25.3ZM727.3,761.1h38v13.3h-38ZM651.3,773.9h63.4v13.3h-63.4ZM727.3,773.9h38v13.3h-38ZM651.3,786.6h38v13.3h-38ZM702,786.6h25.3v13.3h-25.3ZM752.7,786.6h25.3v13.3h-25.3ZM651.3,799.4h38v13.3h-38ZM702,799.4h25.3v13.3h-25.3ZM752.7,799.4h25.3v13.3h-25.3Z" fill="#d9d9d9"/>
<path d="M930.1,646.4h25.3v13.3h-25.3ZM790.7,659.2h25.3v13.3h-25.3ZM930.1,659.2h25.3v13.3h-25.3ZM790.7,671.9h25.3v13.3h-25.3ZM968.1,671.9h38v13.3h-38ZM664,684.7h25.3v13.3h-25.3ZM879.4,684.7h25.3v13.3h-25.3ZM968.1,684.7h38v13.3h-38ZM664,697.4h25.3v13.3h-25.3ZM702,697.4h25.3v13.3h-25.3ZM803.4,697.4h12.7v13.3h-12.7ZM879.4,697.4h25.3v13.3h-25.3ZM942.7,697.4h25.3v13.3h-25.3ZM980.8,697.4h12.7v13.3h-12.7ZM1006.1,697.4h38v13.3h-38ZM664,710.1h38v13.3h-38ZM702,710.1h25.3v13.3h-25.3ZM765.4,710.1h25.3v13.3h-25.3ZM803.4,710.1h12.7v13.3h-12.7ZM942.7,710.1h25.3v13.3h-25.3ZM980.8,710.1h12.7v13.3h-12.7ZM1006.1,710.1h38v13.3h-38ZM664,722.9h38v13.3h-38ZM765.4,722.9h25.3v13.3h-25.3ZM803.4,722.9h25.3v13.3h-25.3ZM892.1,722.9h25.3v13.3h-25.3ZM942.7,722.9h50.7v13.3h-50.7ZM1006.1,722.9h38v13.3h-38ZM664,735.6h38v13.3h-38ZM765.4,735.6h25.3v13.3h-25.3ZM803.4,735.6h12.7v13.3h-12.7ZM828.7,735.6h50.7v13.3h-50.7ZM892.1,735.6h25.3v13.3h-25.3ZM930.1,735.6h101.4v13.3h-101.4ZM638.7,748.4h76v13.3h-76ZM778,748.4h38v13.3h-38ZM828.7,748.4h25.3v13.3h-25.3ZM866.7,748.4h177.4v13.3h-177.4ZM600.6,761.1h88.7v13.3h-88.7ZM765.4,761.1h88.7v13.3h-88.7ZM866.7,761.1h177.4v13.3h-177.4ZM600.6,773.9h50.7v13.3h-50.7ZM765.4,773.9h278.7v13.3h-278.7ZM600.6,786.6h50.7v13.3h-50.7ZM778,786.6h50.7v13.3h-50.7ZM841.4,786.6h63.4v13.3h-63.4ZM917.4,786.6h126.7v13.3h-126.7ZM600.6,799.4h50.7v13.3h-50.7ZM778,799.4h266.1v13.3h-266.1Z" fill="#ffffff"/>
<path d="M347.2,213.4h25.3v12.7h-25.3ZM334.6,226.1h76v12.7h-76ZM372.6,238.9h25.3v38.2h-25.3ZM588,289.9h12.7v38.2h-12.7ZM588,353.6h12.7v25.5h-12.7Z" fill="#ffc0c0"/>
<path d="M435.9,175.1h25.3v12.7h-25.3ZM588,251.6h12.7v12.7h-12.7ZM588,187.9h12.7v25.5h-12.7Z" fill="#c0c0ff"/>
<path d="M575.3,417.3h25.3v44.6h-25.3ZM550,474.7h50.7v70.1h-50.7Z" fill="#ff7878"/>
<path d="M793.2,349.8L809.7,345.9L819.8,337L803.4,333.2L794.5,338.3Z" fill="#d9d9d9"/>
<path d="M157.2,175.1C158.3,178.3 160.8,188.7 163.5,194.3C166.3,199.8 169.2,204.3 173.7,208.3C178.1,212.3 181.7,218.9 190.1,218.5C198.6,218.1 212.9,207.4 224.4,205.7C235.8,204 248.6,207.9 258.6,208.3C268.5,208.7 276.1,207 283.9,208.3C291.7,209.6 300.2,212.5 305.4,215.9C310.7,219.3 312.4,225.9 315.6,228.7C318.7,231.4 321.7,234.6 324.4,232.5C327.2,230.4 330.4,220 332,215.9C333.7,211.9 334.2,209.6 334.6,208.3" fill="none" stroke="#000" stroke-width="8.5" stroke-linecap="round" stroke-linejoin="round"/>
<path d="M372.6,212.1C375.8,213.2 385,214 391.6,218.5C398.1,222.9 408.5,235.5 411.9,238.9" fill="none" stroke="#000" stroke-width="8.5" stroke-linecap="round" stroke-linejoin="round"/>
<path d="M633.6,312.8C639.3,315.6 660.6,324.7 667.8,329.4C675,334 673.1,340.8 676.7,340.8C680.3,340.8 682.4,334 689.3,329.4C696.3,324.7 707.9,317.3 718.5,312.8C729,308.3 741.5,306 752.7,302.6C763.9,299.2 777.4,294.5 785.6,292.4C793.9,290.3 797,292 802.1,289.9C807.2,287.7 813.7,281.4 816,279.7" fill="none" stroke="#000" stroke-width="8.5" stroke-linecap="round" stroke-linejoin="round"/>
<path d="M859.1,309C861.4,310 868.6,316.4 873.1,315.3C877.5,314.3 879.6,307.5 885.7,302.6C891.8,297.7 901.4,291 909.8,286C918.2,281 929.2,273.7 936.4,272.6C943.6,271.6 947.4,280.2 952.9,279.7C958.4,279.1 962.6,272.9 969.3,269.5C976.1,266.1 986.7,259.3 993.4,259.3C1000.2,259.3 1003.8,270.1 1009.9,269.5C1016,268.8 1025.1,253.7 1030.2,255.4C1035.2,257.1 1038,272.2 1040.3,279.7C1042.6,287.1 1043.5,296.7 1044.1,300.1" fill="none" stroke="#000" stroke-width="8.5" stroke-linecap="round" stroke-linejoin="round"/>
<path d="M600.6,274.6L610.8,289.9" fill="none" stroke="#000" stroke-width="8.5" stroke-linecap="round" stroke-linejoin="round"/>
<path d="M634.9,315.3C638.7,317 651.1,321.9 657.7,325.5C664.2,329.2 671.4,335.1 674.1,337" fill="none" stroke="#000" stroke-width="8.5" stroke-linecap="round" stroke-linejoin="round"/>
<path d="M659.4,265.9C662.5,266.2 674.2,265.9 677.8,267.6C681.4,269.2 682.9,274.3 681.2,276C679.6,277.6 670,277.3 667.8,277.6" fill="none" stroke="#000" stroke-width="3" stroke-linecap="round"/>
<path d="M667.8,277.6C670.3,277.9 680.9,277.9 682.9,279.3C684.8,280.7 683.2,284.9 679.6,286C676,287.2 664.2,286 661.1,286" fill="none" stroke="#000" stroke-width="3" stroke-linecap="round"/>
<path d="M300.2,192a8,8 0 1,0 16,0a8,8 0 1,0 -16,0ZM236.1,252.4a10,10 0 1,0 20,0a10,10 0 1,0 -20,0ZM343.3,279.3a7,7 0 1,0 14,0a7,7 0 1,0 -14,0ZM524.5,269.2a7,7 0 1,0 14,0a7,7 0 1,0 -14,0ZM517.8,289.3a7,7 0 1,0 14,0a7,7 0 1,0 -14,0ZM582.6,390.2a6,6 0 1,0 12,0a6,6 0 1,0 -12,0ZM630.5,240.7a7,7 0 1,0 14,0a7,7 0 1,0 -14,0ZM653.4,358.2a11,11 0 1,0 22,0a11,11 0 1,0 -22,0ZM619.9,354.9a6,6 0 1,0 12,0a6,6 0 1,0 -12,0ZM667.8,336.4a10,10 0 1,0 20,0a10,10 0 1,0 -20,0Z" fill="#000"/>
<use href="#coast" x="157.2" y="812.4"/>
<text class="ct" style="font-size:56px" transform="translate(819.8,305.1) rotate(0)" x="0" y="20.2">3</text>
<text class="ct" style="font-size:56px" transform="translate(887,312.8) rotate(10)" x="0" y="20.2">3</text>
</g>
<line x1="157.2" y1="111.4" x2="157.2" y2="98.4" stroke="#000" stroke-width="3"/>
<line x1="157.2" y1="812.4" x2="157.2" y2="825.4" stroke="#000" stroke-width="3"/>
<line x1="283.9" y1="111.4" x2="283.9" y2="98.4" stroke="#000" stroke-width="3"/>
<line x1="283.9" y1="812.4" x2="283.9" y2="825.4" stroke="#000" stroke-width="3"/>
<line x1="410.6" y1="111.4" x2="410.6" y2="85.4" stroke="#000" stroke-width="5"/>
<line x1="410.6" y1="812.4" x2="410.6" y2="838.4" stroke="#000" stroke-width="5"/>
<line x1="537.3" y1="111.4" x2="537.3" y2="98.4" stroke="#000" stroke-width="3"/>
<line x1="537.3" y1="812.4" x2="537.3" y2="825.4" stroke="#000" stroke-width="3"/>
<line x1="664" y1="111.4" x2="664" y2="98.4" stroke="#000" stroke-width="3"/>
<line x1="664" y1="812.4" x2="664" y2="825.4" stroke="#000" stroke-width="3"/>
<line x1="790.7" y1="111.4" x2="790.7" y2="85.4" stroke="#000" stroke-width="5"/>
<line x1="790.7" y1="812.4" x2="790.7" y2="838.4" stroke="#000" stroke-width="5"/>
<line x1="917.4" y1="111.4" x2="917.4" y2="98.4" stroke="#000" stroke-width="3"/>
<line x1="917.4" y1="812.4" x2="917.4" y2="825.4" stroke="#000" stroke-width="3"/>
<line x1="1044.1" y1="111.4" x2="1044.1" y2="98.4" stroke="#000" stroke-width="3"/>
<line x1="1044.1" y1="812.4" x2="1044.1" y2="825.4" stroke="#000" stroke-width="3"/>
<line x1="157.2" y1="812.4" x2="130.2" y2="812.4" stroke="#000" stroke-width="5"/>
<line x1="1044.1" y1="812.4" x2="1071.1" y2="812.4" stroke="#000" stroke-width="5"/>
<line x1="157.2" y1="748.7" x2="143.2" y2="748.7" stroke="#000" stroke-width="3"/>
<line x1="1044.1" y1="748.7" x2="1058.1" y2="748.7" stroke="#000" stroke-width="3"/>
<line x1="157.2" y1="685" x2="143.2" y2="685" stroke="#000" stroke-width="3"/>
<line x1="1044.1" y1="685" x2="1058.1" y2="685" stroke="#000" stroke-width="3"/>
<line x1="157.2" y1="621.2" x2="143.2" y2="621.2" stroke="#000" stroke-width="3"/>
<line x1="1044.1" y1="621.2" x2="1058.1" y2="621.2" stroke="#000" stroke-width="3"/>
<line x1="157.2" y1="557.5" x2="130.2" y2="557.5" stroke="#000" stroke-width="5"/>
<line x1="1044.1" y1="557.5" x2="1071.1" y2="557.5" stroke="#000" stroke-width="5"/>
<line x1="157.2" y1="493.8" x2="143.2" y2="493.8" stroke="#000" stroke-width="3"/>
<line x1="1044.1" y1="493.8" x2="1058.1" y2="493.8" stroke="#000" stroke-width="3"/>
<line x1="157.2" y1="430.1" x2="143.2" y2="430.1" stroke="#000" stroke-width="3"/>
<line x1="1044.1" y1="430.1" x2="1058.1" y2="430.1" stroke="#000" stroke-width="3"/>
<line x1="157.2" y1="366.3" x2="143.2" y2="366.3" stroke="#000" stroke-width="3"/>
<line x1="1044.1" y1="366.3" x2="1058.1" y2="366.3" stroke="#000" stroke-width="3"/>
<line x1="157.2" y1="302.6" x2="130.2" y2="302.6" stroke="#000" stroke-width="5"/>
<line x1="1044.1" y1="302.6" x2="1071.1" y2="302.6" stroke="#000" stroke-width="5"/>
<line x1="157.2" y1="238.9" x2="143.2" y2="238.9" stroke="#000" stroke-width="3"/>
<line x1="1044.1" y1="238.9" x2="1058.1" y2="238.9" stroke="#000" stroke-width="3"/>
<line x1="157.2" y1="175.1" x2="143.2" y2="175.1" stroke="#000" stroke-width="3"/>
<line x1="1044.1" y1="175.1" x2="1058.1" y2="175.1" stroke="#000" stroke-width="3"/>
<line x1="157.2" y1="111.4" x2="143.2" y2="111.4" stroke="#000" stroke-width="3"/>
<line x1="1044.1" y1="111.4" x2="1058.1" y2="111.4" stroke="#000" stroke-width="3"/>
<rect x="157.2" y="111.4" width="886.9" height="701" fill="none" stroke="#000" stroke-width="6"/>
<text class="yl" x="99.2" y="319.1">40N</text>
<text class="yl" x="99.2" y="574">20N</text>
<text class="yl" x="99.2" y="828.9">0</text>
<text class="xl" x="410.6" y="887.9">90E</text>
<text class="xl" x="790.7" y="887.9">120E</text>
<text class="tt" x="598.6" y="64.9">(a) low, tra</text>
<path d="M228.5,905.6 L168.2,937.6 L228.5,969.6 Z" fill="#000078"/>
<rect x="228.2" y="905.6" width="62.8" height="64" fill="#0000a0" shape-rendering="crispEdges"/>
<rect x="290.4" y="905.6" width="62.8" height="64" fill="#0000c8" shape-rendering="crispEdges"/>
<rect x="352.5" y="905.6" width="62.8" height="64" fill="#0000f0" shape-rendering="crispEdges"/>
<rect x="414.7" y="905.6" width="62.8" height="64" fill="#2828ff" shape-rendering="crispEdges"/>
<rect x="476.8" y="905.6" width="62.8" height="64" fill="#7878ff" shape-rendering="crispEdges"/>
<rect x="539" y="905.6" width="62.8" height="64" fill="#c0c0ff" shape-rendering="crispEdges"/>
<rect x="601.1" y="905.6" width="62.8" height="64" fill="#ffc0c0" shape-rendering="crispEdges"/>
<rect x="663.3" y="905.6" width="62.8" height="64" fill="#ff7878" shape-rendering="crispEdges"/>
<rect x="725.5" y="905.6" width="62.8" height="64" fill="#ff2828" shape-rendering="crispEdges"/>
<rect x="787.6" y="905.6" width="62.8" height="64" fill="#f00000" shape-rendering="crispEdges"/>
<rect x="849.8" y="905.6" width="62.8" height="64" fill="#c80000" shape-rendering="crispEdges"/>
<rect x="912" y="905.6" width="62.8" height="64" fill="#a00000" shape-rendering="crispEdges"/>
<path d="M973.8,905.6 L1034.1,937.6 L973.8,969.6 Z" fill="#780000"/>
<text class="cl" x="230.1" y="1014.3">−27</text>
<text class="cl" x="354.4" y="1014.3">−17</text>
<text class="cl" x="478.7" y="1014.3">−7</text>
<text class="cl" x="603" y="1014.3">3</text>
<text class="cl" x="727.4" y="1014.3">13</text>
<text class="cl" x="851.7" y="1014.3">23</text>
<text class="cl" x="976" y="1014.3">33</text>
</g>
<g id="panel-b">
<g clip-path="url(#clip-b)">
<rect x="1226.5" y="109.4" width="890.9" height="705" fill="#7878ff"/>
<path d="M1732.4,104.7C1710,111.4 1735.2,137.1 1739.1,144.9C1743,152.8 1750.2,154.5 1755.8,151.7C1761.4,148.9 1765.4,131.6 1772.7,128.2C1780,124.9 1792.8,128.2 1799.5,131.6C1806.3,134.9 1807.9,149.5 1813,148.4C1818,147.3 1824.1,127.1 1829.7,124.8C1835.3,122.6 1841.5,136 1846.5,134.9C1851.6,133.8 1855.5,123.2 1860,118.2C1864.4,113.1 1894.7,106.9 1873.4,104.7C1852.1,102.4 1754.8,98 1732.4,104.7Z" fill="#2828ff"/>
<path d="M2025.2,148.4a12.7,21.7 0 1,0 25.3,0a12.7,21.7 0 1,0 -25.3,0ZM1926.2,121.5a7.6,6.4 0 1,0 15.2,0a7.6,6.4 0 1,0 -15.2,0ZM1545.6,138.3a10.1,3.8 0 1,0 20.3,0a10.1,3.8 0 1,0 -20.3,0ZM2043.2,114.7a31.7,7.6 0 1,0 63.4,0a31.7,7.6 0 1,0 -63.4,0Z" fill="#2828ff"/>
<path d="M1379.3,98.7C1385,103.6 1404,120.3 1413.5,128C1423,135.6 1435.9,138.8 1436.3,144.6C1436.7,150.3 1412.6,158.4 1416,162.4C1419.4,166.4 1435,167.3 1456.6,168.8C1478.1,170.3 1519.9,169.2 1545.2,171.3C1570.6,173.5 1589.6,174.5 1608.6,181.5C1627.6,188.5 1644.5,207 1659.3,213.4C1674.1,219.8 1684.6,216.6 1697.3,219.8C1710,222.9 1727,231.3 1735.7,232.2C1744.3,233.2 1741.3,227.3 1749.1,225.6C1756.9,223.9 1773.2,226.1 1782.7,222.2C1792.2,218.2 1798.4,203.7 1806.3,202C1814.1,200.4 1825.2,207.1 1829.7,212.1C1834.2,217.1 1828.1,229.4 1833.1,232.2C1838.2,235.1 1851,234.5 1860,228.9C1868.9,223.3 1879,201.5 1886.8,198.7C1894.7,195.9 1901.4,208.2 1907,212.1C1912.6,216 1913.1,223.3 1920.4,222.2C1927.7,221.1 1943.8,202.7 1950.6,205.5C1957.3,208.3 1955.7,230.6 1960.7,239C1965.7,247.4 1974.1,255.8 1980.8,255.8C1987.6,255.8 1994.3,239.6 2001,239C2007.7,238.4 2014.4,250.2 2021.1,252.4C2027.9,254.6 2032.3,255.7 2041.3,252.4C2050.2,249 2061.4,241.2 2074.9,232.2C2088.3,223.3 2114,204.3 2121.9,198.7L2121.9,817.4 L1379.3,817.4 Z" fill="#c0c0ff"/>
<path d="M1222.2,98.7C1248.3,79.6 1347.4,93.8 1379.3,98.7C1411.2,103.6 1404,120.3 1413.5,128C1423,135.6 1435.9,138.8 1436.3,144.6C1436.7,150.3 1423.2,159 1416,162.4C1408.8,165.8 1397,160.7 1393.2,165C1389.4,169.2 1391.1,179.8 1393.2,187.9C1395.3,196 1434.4,209.1 1405.9,213.4C1377.4,217.6 1252.8,232.5 1222.2,213.4C1191.5,194.3 1196,117.8 1222.2,98.7Z" fill="#c0c0ff"/>
<path d="M1918.3,212.1a8.9,8.9 0 1,0 17.7,0a8.9,8.9 0 1,0 -17.7,0ZM1795.7,249.1a3.8,5.1 0 1,0 7.6,0a3.8,5.1 0 1,0 -7.6,0ZM1831.3,250.7a5.1,6.4 0 1,0 10.1,0a5.1,6.4 0 1,0 -10.1,0ZM1856.2,240.7a3.8,5.1 0 1,0 7.6,0a3.8,5.1 0 1,0 -7.6,0ZM1952.7,287.7a6.3,5.1 0 1,0 12.7,0a6.3,5.1 0 1,0 -12.7,0Z" fill="#7878ff"/>
<path d="M1222.2,200.6C1226.6,202.6 1240.5,210.4 1248.8,212.1C1257,213.8 1263.8,211.7 1271.6,210.8C1279.4,210 1285.9,206.8 1295.7,207C1305.4,207.2 1320.4,212.6 1329.9,212.1C1339.4,211.6 1346.1,203.2 1352.7,203.8C1359.2,204.5 1363.4,211.8 1369.1,215.9C1374.8,220.1 1382.4,226.1 1386.9,228.7C1391.3,231.2 1392.6,232.9 1395.7,231.2C1398.9,229.5 1400,220.4 1405.9,218.5C1411.8,216.6 1418.5,218.5 1431.2,219.8C1443.9,221 1462.9,222.9 1481.9,226.1C1500.9,229.3 1524.1,236.8 1545.2,238.9C1566.4,241 1589.6,239.9 1608.6,238.9C1627.6,237.8 1648.7,230.4 1659.3,232.5C1669.8,234.6 1667.7,242.1 1672,251.6C1676.2,261.2 1678.3,283.5 1684.6,289.9C1691,296.2 1701.9,288.8 1710,289.9C1718,290.9 1727.3,292.4 1732.8,296.2C1738.3,300.1 1739.1,307.3 1742.9,312.8C1746.7,318.3 1751.8,327.7 1755.6,329.4C1759.4,331.1 1761.3,326.8 1765.7,323C1770.1,319.2 1773.7,310.9 1782.2,306.4C1790.6,302 1803.9,298.6 1816.4,296.2C1828.8,293.9 1847.4,295.2 1856.9,292.4C1866.4,289.6 1868.3,282.4 1873.4,279.7C1878.5,276.9 1882.9,274.1 1887.3,275.8C1891.8,277.5 1897.3,284.8 1900,289.9C1902.8,295 1900.6,302.6 1903.8,306.4C1907,310.2 1913.3,311.3 1919,312.8C1924.7,314.3 1931.7,316 1938,315.3C1944.4,314.7 1949.8,313.2 1957,309C1964.2,304.7 1972.7,295.9 1981.1,289.9C1989.5,283.8 2000.5,274.3 2007.7,272.6C2014.9,270.9 2015.7,281.3 2024.2,279.7C2032.6,278.1 2048.9,267.6 2058.4,263.1C2067.9,258.6 2075.1,251.8 2081.2,252.9C2087.3,254 2091.1,260.5 2095.1,269.5C2099.1,278.4 2101.9,298.1 2105.3,306.4C2108.6,314.7 2112.4,316.6 2115.4,319.2C2118.4,321.7 2121.7,321.3 2123,321.7L2123,817.4 L1222.2,817.4 Z" fill="#ffc0c0"/>
<path d="M1222.2,245.2C1228.5,245.7 1252.8,242.5 1260.2,247.8C1267.6,253.1 1250.7,270.1 1266.5,277.1C1282.3,284.1 1319.3,277.1 1355.2,289.9C1391.1,302.6 1439.7,332.3 1481.9,353.6C1524.1,374.8 1581.1,402.4 1608.6,417.3C1636.1,432.2 1636.1,437.9 1646.6,442.8C1657.2,447.7 1663.3,446 1672,446.6C1680.6,447.3 1687.4,448.7 1698.6,446.6C1709.7,444.5 1729.6,439.4 1739.1,433.9C1748.6,428.4 1750.5,422.4 1755.6,413.5C1760.6,404.6 1761.1,386.7 1769.5,380.3C1778,374 1794.6,375.9 1806.3,375.2C1817.9,374.6 1829.7,376.3 1839.2,376.5C1848.7,376.7 1857.6,378.2 1863.3,376.5C1869,374.8 1866.2,367.4 1873.4,366.3C1880.6,365.3 1895.2,367.4 1906.3,370.1C1917.5,372.9 1929.4,379.1 1940.6,382.9C1951.7,386.7 1962.3,391.8 1973.5,393.1C1984.7,394.4 1996.5,389.9 2007.7,390.5C2018.9,391.2 2029.5,396.9 2040.6,396.9C2051.8,396.9 2061.1,392.2 2074.9,390.5C2088.6,388.8 2115,387.4 2123,386.7L2123,817.4 L1222.2,817.4 Z" fill="#ff7878"/>
<path d="M1228.8,262.5a16.5,14 0 1,0 32.9,0a16.5,14 0 1,0 -32.9,0ZM1270.3,252.4a20.3,11.5 0 1,0 40.5,0a20.3,11.5 0 1,0 -40.5,0ZM1410.1,242.3a16.5,10.2 0 1,0 32.9,0a16.5,10.2 0 1,0 -32.9,0ZM1448.3,255.8a10.1,6.4 0 1,0 20.3,0a10.1,6.4 0 1,0 -20.3,0ZM1805.7,339.7a3.8,10.2 0 1,0 7.6,0a3.8,10.2 0 1,0 -7.6,0ZM1905.7,354.9a6.3,5.1 0 1,0 12.7,0a6.3,5.1 0 1,0 -12.7,0Z" fill="#ff7878"/>
<path d="M1222.2,379.1C1244.3,383.3 1311.9,396.1 1355.2,404.6C1398.5,413.1 1441.8,419.4 1481.9,430.1C1522,440.7 1571.6,457.7 1595.9,468.3C1620.2,478.9 1619.2,483.2 1627.6,493.8C1636.1,504.4 1639.2,530.1 1646.6,532C1654,533.9 1662.2,509.7 1672,505.2C1681.7,500.8 1695.4,503.8 1704.9,505.2C1714.4,506.7 1720.5,512.5 1729,514.2C1737.4,515.9 1746.1,519.1 1755.6,515.4C1765.1,511.8 1774.6,496.3 1786,492.5C1797.4,488.7 1811.7,495.9 1824,492.5C1836.2,489.1 1850,476.8 1859.5,472.1C1869,467.4 1873.2,465.1 1881,464.5C1888.8,463.8 1896.4,465.9 1906.3,468.3C1916.3,470.6 1929.4,477.6 1940.6,478.5C1951.7,479.3 1962.3,473.8 1973.5,473.4C1984.7,473 1994.6,476.6 2007.7,475.9C2020.8,475.3 2032.8,471.3 2052.1,469.6C2071.3,467.9 2111.2,466.4 2123,465.7L2123,817.4 L1222.2,817.4 Z" fill="#ff2828"/>
<path d="M2045.3,571a7.6,8.9 0 1,0 15.2,0a7.6,8.9 0 1,0 -15.2,0ZM2028.6,673.5a7.6,5.1 0 1,0 15.2,0a7.6,5.1 0 1,0 -15.2,0ZM1964.8,718.7a7.6,6.4 0 1,0 15.2,0a7.6,6.4 0 1,0 -15.2,0ZM1736.1,728.8a6.3,5.1 0 1,0 12.7,0a6.3,5.1 0 1,0 -12.7,0ZM2013.5,733.9a7.6,2.5 0 1,0 15.2,0a7.6,2.5 0 1,0 -15.2,0ZM1606.1,583a15.2,10.2 0 1,0 30.4,0a15.2,10.2 0 1,0 -30.4,0ZM1633.9,646.7a12.7,19.1 0 1,0 25.3,0a12.7,19.1 0 1,0 -25.3,0Z" fill="#f00000"/>
<path d="M1859.5,670a8.9,11.5 0 1,0 17.7,0a8.9,11.5 0 1,0 -17.7,0ZM1862,710.3a6.3,5.1 0 1,0 12.7,0a6.3,5.1 0 1,0 -12.7,0ZM1717.2,733.9a5.1,7.6 0 1,0 10.1,0a5.1,7.6 0 1,0 -10.1,0ZM1577.6,566a5.1,7.6 0 1,0 10.1,0a5.1,7.6 0 1,0 -10.1,0ZM1602.8,599.6a5.1,7.6 0 1,0 10.1,0a5.1,7.6 0 1,0 -10.1,0ZM1658.6,663.4a6.3,11.5 0 1,0 12.7,0a6.3,11.5 0 1,0 -12.7,0Z" fill="#ff7878"/>
<path d="M1356.1,291C1363.9,287.6 1411.4,290.3 1419.8,292.8C1428.2,295.3 1408.6,300 1406.4,306.2C1404.1,312.3 1408.6,325.7 1406.4,329.6C1404.1,333.5 1395.7,331.8 1393,329.6C1390.2,327.4 1393,319 1389.7,316.2C1386.3,313.5 1378.4,317.1 1372.8,312.9C1367.2,308.7 1348.3,294.4 1356.1,291Z" fill="#ff7878"/>
<path d="M1332.5,319.6C1333.6,314.5 1340.4,311.5 1342.7,312.9C1344.9,314.3 1341.5,325.2 1346,328C1350.4,330.7 1365.6,327.1 1369.5,329.6C1373.4,332.1 1375.1,340.9 1369.5,343.1C1363.9,345.4 1342.1,347.1 1335.9,343.1C1329.8,339.2 1331.4,324.6 1332.5,319.6Z" fill="#ff7878"/>
<path d="M1659.3,353.3h12.7v13.3h-12.7ZM1659.3,366h12.7v13.3h-12.7ZM1659.3,378.8h12.7v13.3h-12.7ZM1659.3,391.5h12.7v13.3h-12.7ZM1659.3,404.3h12.7v13.3h-12.7Z" fill="#ffc0c0"/>
<path d="M1241.2,391.5h12.7v13.3h-12.7ZM1228.5,429.8h12.7v13.3h-12.7ZM1228.5,455.2h25.3v13.3h-25.3Z" fill="#ff2828"/>
<path d="M1241.2,404.3h38v13.3h-38ZM1253.8,417h25.3v13.3h-25.3ZM1253.8,429.8h63.4v13.3h-63.4ZM1253.8,442.5h114v13.3h-114ZM1279.2,455.2h101.4v13.3h-101.4Z" fill="#f00000"/>
<path d="M1228.5,468h25.3v13.3h-25.3ZM1228.5,480.7h25.3v13.3h-25.3ZM1507.2,493.5h38v13.3h-38ZM1507.2,506.2h50.7v13.3h-50.7ZM1507.2,531.7h25.3v13.3h-25.3ZM1228.5,544.5h25.3v13.3h-25.3ZM1317.2,544.5h38v13.3h-38ZM1241.2,557.2h12.7v13.3h-12.7ZM1317.2,557.2h38v13.3h-38ZM1228.5,569.9h12.7v13.3h-12.7ZM1317.2,569.9h38v13.3h-38ZM1532.6,569.9h12.7v13.3h-12.7ZM1228.5,582.7h12.7v13.3h-12.7ZM1317.2,582.7h88.7v13.3h-88.7ZM1532.6,582.7h12.7v13.3h-12.7ZM1228.5,595.4h12.7v13.3h-12.7ZM1317.2,595.4h38v13.3h-38ZM1393.2,595.4h12.7v13.3h-12.7ZM1507.2,595.4h12.7v13.3h-12.7ZM1317.2,608.2h25.3v13.3h-25.3ZM1507.2,608.2h12.7v13.3h-12.7ZM1317.2,620.9h25.3v13.3h-25.3ZM1481.9,620.9h12.7v13.3h-12.7ZM1519.9,620.9h12.7v13.3h-12.7ZM1317.2,633.7h50.7v13.3h-50.7ZM1418.5,633.7h12.7v13.3h-12.7ZM1456.6,633.7h38v13.3h-38ZM1519.9,633.7h12.7v13.3h-12.7ZM1279.2,646.4h12.7v13.3h-12.7ZM1317.2,646.4h50.7v13.3h-50.7ZM1418.5,646.4h12.7v13.3h-12.7ZM1456.6,646.4h38v13.3h-38ZM1532.6,646.4h38v13.3h-38ZM1279.2,659.2h88.7v13.3h-88.7ZM1418.5,659.2h12.7v13.3h-12.7ZM1456.6,659.2h38v13.3h-38ZM1545.2,659.2h25.3v13.3h-25.3ZM1228.5,671.9h12.7v13.3h-12.7ZM1279.2,671.9h38v13.3h-38ZM1355.2,671.9h25.3v13.3h-25.3ZM1456.6,671.9h38v13.3h-38ZM1557.9,671.9h12.7v13.3h-12.7ZM1583.3,671.9h12.7v13.3h-12.7ZM1228.5,684.7h25.3v13.3h-25.3ZM1291.8,684.7h12.7v13.3h-12.7ZM1342.5,684.7h38v13.3h-38ZM1469.2,684.7h25.3v13.3h-25.3ZM1583.3,684.7h12.7v13.3h-12.7ZM1291.8,697.4h12.7v13.3h-12.7ZM1329.9,697.4h50.7v13.3h-50.7ZM1469.2,697.4h12.7v13.3h-12.7ZM1253.8,710.1h12.7v13.3h-12.7ZM1317.2,710.1h50.7v13.3h-50.7ZM1380.5,710.1h12.7v13.3h-12.7ZM1431.2,710.1h25.3v13.3h-25.3ZM1532.6,710.1h25.3v13.3h-25.3ZM1317.2,722.9h76v13.3h-76ZM1431.2,722.9h25.3v13.3h-25.3ZM1532.6,722.9h25.3v13.3h-25.3ZM1291.8,735.6h63.4v13.3h-63.4ZM1279.2,748.4h12.7v13.3h-12.7ZM1317.2,748.4h12.7v13.3h-12.7ZM1342.5,773.9h12.7v13.3h-12.7ZM1583.3,786.6h12.7v13.3h-12.7Z" fill="#ff2828"/>
<path d="M1279.2,468h126.7v13.3h-126.7ZM1279.2,480.7h190v13.3h-190ZM1228.5,493.5h278.7v13.3h-278.7ZM1228.5,506.2h253.4v13.3h-253.4ZM1228.5,519h38v13.3h-38ZM1291.8,519h12.7v13.3h-12.7ZM1329.9,519h228.1v13.3h-228.1ZM1228.5,531.7h38v13.3h-38ZM1329.9,531.7h139.4v13.3h-139.4ZM1380.5,544.5h88.7v13.3h-88.7ZM1380.5,557.2h76v13.3h-76ZM1380.5,569.9h76v13.3h-76ZM1431.2,582.7h50.7v13.3h-50.7ZM1431.2,595.4h50.7v13.3h-50.7ZM1393.2,608.2h88.7v13.3h-88.7ZM1393.2,620.9h63.3v13.3h-63.3Z" fill="#f00000"/>
<path d="M1519.9,480.7h12.7v13.3h-12.7Z" fill="#ffc0c0"/>
<path d="M1279.2,557.2h38v13.3h-38ZM1507.2,773.9h12.7v13.3h-12.7Z" fill="#ff7878"/>
<path d="M1227.1,536.2a11.5,10.7 0 1,0 23.1,0a11.5,10.7 0 1,0 -23.1,0ZM1267.9,536.2a10,11.2 0 1,0 20,0a10,11.2 0 1,0 -20,0ZM1266.3,488.2a14.3,7.3 0 1,0 28.6,0a14.3,7.3 0 1,0 -28.6,0ZM1389.3,510.5a11.8,12.7 0 1,0 23.6,0a11.8,12.7 0 1,0 -23.6,0ZM1246.6,543.2a17.1,8.9 0 1,0 34.2,0a17.1,8.9 0 1,0 -34.2,0ZM1285.1,519.5a11.3,12.5 0 1,0 22.6,0a11.3,12.5 0 1,0 -22.6,0ZM1286.5,528.2a13.6,9.8 0 1,0 27.1,0a13.6,9.8 0 1,0 -27.1,0ZM1519.8,480.6a11.1,7.6 0 1,0 22.3,0a11.1,7.6 0 1,0 -22.3,0ZM1486.6,469.2a7.9,11.1 0 1,0 15.7,0a7.9,11.1 0 1,0 -15.7,0ZM1494.6,494.9a9.8,11.5 0 1,0 19.5,0a9.8,11.5 0 1,0 -19.5,0ZM1447.3,530a14.1,7.8 0 1,0 28.1,0a14.1,7.8 0 1,0 -28.1,0ZM1236.6,519a11,8.9 0 1,0 22,0a11,8.9 0 1,0 -22,0ZM1418.3,480.8a17.4,12.6 0 1,0 34.7,0a17.4,12.6 0 1,0 -34.7,0ZM1532.5,484.3a10.8,7.5 0 1,0 21.5,0a10.8,7.5 0 1,0 -21.5,0ZM1414,503.1a14.4,7 0 1,0 28.9,0a14.4,7 0 1,0 -28.9,0ZM1281,474.3a13.7,10.8 0 1,0 27.4,0a13.7,10.8 0 1,0 -27.4,0ZM1247.6,514.2a16.9,10.5 0 1,0 33.7,0a16.9,10.5 0 1,0 -33.7,0ZM1530.6,529.7a12.2,11.5 0 1,0 24.3,0a12.2,11.5 0 1,0 -24.3,0ZM1359.5,484.5a13.3,7.1 0 1,0 26.6,0a13.3,7.1 0 1,0 -26.6,0ZM1256.6,469.6a8.9,7.6 0 1,0 17.7,0a8.9,7.6 0 1,0 -17.7,0ZM1322.6,490.2a16.2,9.4 0 1,0 32.4,0a16.2,9.4 0 1,0 -32.4,0ZM1379,484.5a10.4,8.8 0 1,0 20.8,0a10.4,8.8 0 1,0 -20.8,0ZM1417,496.1a8,7.1 0 1,0 16,0a8,7.1 0 1,0 -16,0ZM1263.1,489.3a14.6,12.6 0 1,0 29.1,0a14.6,12.6 0 1,0 -29.1,0ZM1457.7,525.3a15.3,12.6 0 1,0 30.7,0a15.3,12.6 0 1,0 -30.7,0ZM1331.6,543.9a11.4,8.2 0 1,0 22.8,0a11.4,8.2 0 1,0 -22.8,0Z" fill="#ff2828"/>
<path d="M1392.8,637.7a8.2,12.1 0 1,0 16.5,0a8.2,12.1 0 1,0 -16.5,0ZM1436.5,586a7,9.6 0 1,0 13.9,0a7,9.6 0 1,0 -13.9,0ZM1466.3,606.2a12.3,12 0 1,0 24.6,0a12.3,12 0 1,0 -24.6,0ZM1419.7,659.3a11.1,7.1 0 1,0 22.3,0a11.1,7.1 0 1,0 -22.3,0ZM1382.6,584.9a11.7,11.7 0 1,0 23.3,0a11.7,11.7 0 1,0 -23.3,0ZM1483,638.9a6.8,7.1 0 1,0 13.7,0a6.8,7.1 0 1,0 -13.7,0ZM1484.9,648a7.3,6.5 0 1,0 14.7,0a7.3,6.5 0 1,0 -14.7,0ZM1389.5,655.5a8.6,7.4 0 1,0 17.2,0a8.6,7.4 0 1,0 -17.2,0ZM1417.3,564.8a7.3,11.6 0 1,0 14.7,0a7.3,11.6 0 1,0 -14.7,0ZM1458.1,601.5a10,11.3 0 1,0 20,0a10,11.3 0 1,0 -20,0Z" fill="#ff2828"/>
<path d="M1583.3,136.6h25.3v13.3h-25.3ZM1507.2,149.4h25.3v13.3h-25.3ZM1583.3,149.4h50.7v13.3h-50.7ZM1393.2,162.1h88.7v13.3h-88.7ZM1507.2,162.1h25.3v13.3h-25.3ZM1545.2,162.1h88.7v13.3h-88.7ZM1393.2,174.8h114v13.3h-114ZM1532.6,174.8h101.4v13.3h-101.4ZM1405.9,187.6h228.1v13.3h-228.1ZM1405.9,200.3h240.7v13.3h-240.7ZM1481.9,213.1h164.7v13.3h-164.7ZM1481.9,225.8h190v13.3h-190ZM1317.2,238.6h25.3v13.3h-25.3ZM1380.5,238.6h25.3v13.3h-25.3ZM1469.2,238.6h202.7v13.3h-202.7ZM1266.5,251.3h76v13.3h-76ZM1380.5,251.3h76v13.3h-76ZM1469.2,251.3h202.7v13.3h-202.7ZM1266.5,264.1h190v13.3h-190ZM1469.2,264.1h202.7v13.3h-202.7ZM1253.8,276.8h418.1v13.3h-418.1ZM1228.5,289.6h126.7v13.3h-126.7ZM1418.5,289.6h240.7v13.3h-240.7ZM1228.5,302.3h101.4v13.3h-101.4ZM1418.5,302.3h240.7v13.3h-240.7ZM1228.5,315h101.4v13.3h-101.4ZM1405.9,315h253.4v13.3h-253.4ZM1228.5,327.8h101.4v13.3h-101.4ZM1367.9,327.8h304.1v13.3h-304.1ZM1228.5,340.5h443.5v13.3h-443.5ZM1228.5,353.3h430.8v13.3h-430.8ZM1228.5,366h430.8v13.3h-430.8ZM1228.5,378.8h430.8v13.3h-430.8ZM1228.5,391.5h12.7v13.3h-12.7ZM1253.8,391.5h405.4v13.3h-405.4ZM1228.5,404.3h12.7v13.3h-12.7ZM1279.2,404.3h380.1v13.3h-380.1ZM1228.5,417h25.3v13.3h-25.3ZM1279.2,417h367.4v13.3h-367.4ZM1241.2,429.8h12.7v13.3h-12.7ZM1317.2,429.8h316.8v13.3h-316.8ZM1228.5,442.5h25.3v13.3h-25.3ZM1367.9,442.5h266.1v13.3h-266.1ZM1253.8,455.2h25.3v13.3h-25.3ZM1380.5,455.2h253.4v13.3h-253.4Z" fill="#d9d9d9"/>
<path d="M1672,200.3h50.7v13.3h-50.7ZM1672,213.1h38v13.3h-38ZM1862,213.1h25.3v13.3h-25.3ZM1672,225.8h38v13.3h-38ZM1862,225.8h25.3v13.3h-25.3ZM1836.7,251.3h25.3v13.3h-25.3ZM1836.7,264.1h25.3v13.3h-25.3Z" fill="#d9d9d9"/>
<path d="M1253.8,468h25.3v13.3h-25.3ZM1405.9,468h240.7v13.3h-240.7ZM1253.8,480.7h25.3v13.3h-25.3ZM1469.2,480.7h50.7v13.3h-50.7ZM1532.6,480.7h101.4v13.3h-101.4ZM1545.2,493.5h76v13.3h-76ZM1481.9,506.2h25.3v13.3h-25.3ZM1557.9,506.2h63.3v13.3h-63.3ZM1266.5,519h25.3v13.3h-25.3ZM1304.5,519h25.3v13.3h-25.3ZM1557.9,519h38v13.3h-38ZM1266.5,531.7h63.3v13.3h-63.3ZM1532.6,531.7h25.3v13.3h-25.3ZM1266.5,544.5h50.7v13.3h-50.7ZM1355.2,544.5h25.3v13.3h-25.3ZM1532.6,544.5h25.3v13.3h-25.3ZM1266.5,557.2h12.7v13.3h-12.7ZM1355.2,557.2h25.3v13.3h-25.3ZM1266.5,569.9h50.7v13.3h-50.7ZM1355.2,569.9h25.3v13.3h-25.3ZM1545.2,569.9h25.3v13.3h-25.3ZM1266.5,582.7h50.7v13.3h-50.7ZM1545.2,582.7h25.3v13.3h-25.3ZM1266.5,595.4h50.7v13.3h-50.7ZM1266.5,608.2h50.7v13.3h-50.7ZM1342.5,608.2h12.7v13.3h-12.7ZM1266.5,620.9h50.7v13.3h-50.7ZM1342.5,620.9h12.7v13.3h-12.7ZM1279.2,633.7h38v13.3h-38ZM1291.8,646.4h25.3v13.3h-25.3ZM1317.2,671.9h38v13.3h-38ZM1304.5,684.7h38v13.3h-38ZM1317.2,697.4h12.7v13.3h-12.7ZM1595.9,697.4h12.7v13.3h-12.7ZM1367.9,710.1h12.7v13.3h-12.7ZM1545.2,735.6h25.3v13.3h-25.3ZM1557.9,748.4h25.3v13.3h-25.3ZM1570.6,761.1h25.3v13.3h-25.3ZM1583.3,773.9h25.3v13.3h-25.3ZM1621.3,773.9h25.3v13.3h-25.3ZM1595.9,786.6h50.7v13.3h-50.7ZM1595.9,799.4h50.7v13.3h-50.7Z" fill="#d9d9d9"/>
<path d="M1469.2,531.7h38v13.3h-38ZM1253.8,544.5h12.7v13.3h-12.7ZM1469.2,544.5h63.3v13.3h-63.3ZM1228.5,557.2h12.7v13.3h-12.7ZM1253.8,557.2h12.7v13.3h-12.7ZM1456.6,557.2h76v13.3h-76ZM1241.2,569.9h25.3v13.3h-25.3ZM1456.6,569.9h76v13.3h-76ZM1241.2,582.7h25.3v13.3h-25.3ZM1405.9,582.7h25.3v13.3h-25.3ZM1481.9,582.7h50.7v13.3h-50.7ZM1241.2,595.4h25.3v13.3h-25.3ZM1355.2,595.4h38v13.3h-38ZM1405.9,595.4h25.3v13.3h-25.3ZM1481.9,595.4h25.3v13.3h-25.3ZM1519.9,595.4h50.7v13.3h-50.7ZM1228.5,608.2h38v13.3h-38ZM1355.2,608.2h38v13.3h-38ZM1481.9,608.2h25.3v13.3h-25.3ZM1519.9,608.2h50.7v13.3h-50.7ZM1228.5,620.9h38v13.3h-38ZM1355.2,620.9h38v13.3h-38ZM1456.6,620.9h25.3v13.3h-25.3ZM1494.6,620.9h25.3v13.3h-25.3ZM1532.6,620.9h50.7v13.3h-50.7ZM1228.5,633.7h50.7v13.3h-50.7ZM1367.9,633.7h50.7v13.3h-50.7ZM1431.2,633.7h25.3v13.3h-25.3ZM1494.6,633.7h25.3v13.3h-25.3ZM1532.6,633.7h50.7v13.3h-50.7ZM1228.5,646.4h50.7v13.3h-50.7ZM1367.9,646.4h50.7v13.3h-50.7ZM1431.2,646.4h25.3v13.3h-25.3ZM1494.6,646.4h38v13.3h-38ZM1570.6,646.4h25.3v13.3h-25.3ZM1633.9,646.4h25.3v13.3h-25.3ZM1228.5,659.2h50.7v13.3h-50.7ZM1367.9,659.2h50.7v13.3h-50.7ZM1431.2,659.2h25.3v13.3h-25.3ZM1494.6,659.2h50.7v13.3h-50.7ZM1570.6,659.2h25.3v13.3h-25.3ZM1633.9,659.2h25.3v13.3h-25.3ZM1241.2,671.9h38v13.3h-38ZM1380.5,671.9h76v13.3h-76ZM1494.6,671.9h63.4v13.3h-63.4ZM1570.6,671.9h12.7v13.3h-12.7ZM1595.9,671.9h25.3v13.3h-25.3ZM1633.9,671.9h25.3v13.3h-25.3ZM1253.8,684.7h38v13.3h-38ZM1380.5,684.7h88.7v13.3h-88.7ZM1494.6,684.7h88.7v13.3h-88.7ZM1595.9,684.7h25.3v13.3h-25.3ZM1228.5,697.4h63.3v13.3h-63.3ZM1304.5,697.4h12.7v13.3h-12.7ZM1380.5,697.4h88.7v13.3h-88.7ZM1481.9,697.4h114v13.3h-114ZM1228.5,710.1h25.3v13.3h-25.3ZM1266.5,710.1h50.7v13.3h-50.7ZM1393.2,710.1h38v13.3h-38ZM1456.6,710.1h76v13.3h-76ZM1557.9,710.1h50.7v13.3h-50.7ZM1228.5,722.9h88.7v13.3h-88.7ZM1393.2,722.9h38v13.3h-38ZM1456.6,722.9h76v13.3h-76ZM1557.9,722.9h38v13.3h-38ZM1228.5,735.6h63.3v13.3h-63.3ZM1355.2,735.6h190v13.3h-190ZM1570.6,735.6h25.3v13.3h-25.3ZM1228.5,748.4h50.7v13.3h-50.7ZM1291.8,748.4h25.3v13.3h-25.3ZM1329.9,748.4h228.1v13.3h-228.1ZM1583.3,748.4h12.7v13.3h-12.7ZM1228.5,761.1h342.1v13.3h-342.1ZM1228.5,773.9h114v13.3h-114ZM1355.2,773.9h152v13.3h-152ZM1519.9,773.9h63.3v13.3h-63.3ZM1228.5,786.6h354.8v13.3h-354.8ZM1228.5,799.4h367.4v13.3h-367.4Z" fill="#ffffff"/>
<path d="M1684.6,633.7h25.3v13.3h-25.3ZM1684.6,646.4h25.3v13.3h-25.3Z" fill="#d9d9d9"/>
<path d="M2001.4,646.4h25.3v13.3h-25.3ZM2001.4,659.2h25.3v13.3h-25.3ZM1950.7,684.7h25.3v13.3h-25.3ZM1950.7,697.4h25.3v13.3h-25.3Z" fill="#ffffff"/>
<path d="M1342.5,230h38v34.4h-38ZM1405.9,213.4h76v38.2h-76ZM1456.6,251.6h12.7v25.5h-12.7ZM1659.3,289.9h12.7v38.2h-12.7ZM1494.6,289.9h12.7v12.7h-12.7ZM1595.9,277.1h12.7v12.7h-12.7Z" fill="#ffc0c0"/>
<path d="M1507.2,175.1h25.3v12.7h-25.3ZM1646.6,200.6h25.3v25.5h-25.3Z" fill="#c0c0ff"/>
<path d="M1633.9,417.3h38v44.6h-38ZM1621.3,474.7h50.7v38.2h-50.7Z" fill="#ff7878"/>
<path d="M1266.5,404.6h12.7v38.2h-12.7ZM1304.5,442.8h25.3v19.1h-25.3ZM1342.5,461.9h38v31.9h-38ZM1443.9,493.8h25.3v25.5h-25.3Z" fill="#c80000"/>
<path d="M1864.5,349.8L1881,345.9L1891.1,337L1874.7,333.2L1865.8,338.3Z" fill="#d9d9d9"/>
<path d="M1228.5,201.9C1231.9,203.6 1241.6,210.6 1248.8,212.1C1256,213.6 1263.8,211.7 1271.6,210.8C1279.4,210 1285.9,206.8 1295.7,207C1305.4,207.2 1320.4,212.6 1329.9,212.1C1339.4,211.6 1346.1,203.2 1352.7,203.8C1359.2,204.5 1363.4,211.8 1369.1,215.9C1374.8,220.1 1382.4,226.1 1386.9,228.7C1391.3,231.2 1392.6,232.9 1395.7,231.2C1398.9,229.5 1404.2,220.6 1405.9,218.5" fill="none" stroke="#000" stroke-width="8.5" stroke-linecap="round" stroke-linejoin="round"/>
<path d="M1732.8,296.2C1734.5,299 1739.1,307.3 1742.9,312.8C1746.7,318.3 1751.8,327.7 1755.6,329.4C1759.4,331.1 1761.3,326.8 1765.7,323C1770.1,319.2 1773.7,310.9 1782.2,306.4C1790.6,302 1803.9,298.6 1816.4,296.2C1828.8,293.9 1847.4,295.2 1856.9,292.4C1866.4,289.6 1868.3,282.4 1873.4,279.7C1878.5,276.9 1885,276.5 1887.3,275.8" fill="none" stroke="#000" stroke-width="8.5" stroke-linecap="round" stroke-linejoin="round"/>
<path d="M1957,309C1961,305.8 1972.7,295.9 1981.1,289.9C1989.5,283.8 2000.5,274.3 2007.7,272.6C2014.9,270.9 2015.7,281.3 2024.2,279.7C2032.6,278.1 2048.9,267.6 2058.4,263.1C2067.9,258.6 2075.1,251.8 2081.2,252.9C2087.3,254 2091.1,260.5 2095.1,269.5C2099.1,278.4 2101.9,298.1 2105.3,306.4C2108.6,314.7 2113.7,317 2115.4,319.2" fill="none" stroke="#000" stroke-width="8.5" stroke-linecap="round" stroke-linejoin="round"/>
<path d="M1672,251.6C1673.2,254.8 1677.4,264.4 1679.6,270.7C1681.7,277.1 1683.8,286.7 1684.6,289.9" fill="none" stroke="#000" stroke-width="8.5" stroke-linecap="round" stroke-linejoin="round"/>
<path d="M1732.8,296.2C1734,298.8 1737.8,306.2 1740.4,311.5C1742.9,316.8 1746.7,325.3 1748,328.1" fill="none" stroke="#000" stroke-width="8.5" stroke-linecap="round" stroke-linejoin="round"/>
<path d="M1908.9,296.2C1911.6,295.2 1920.5,289.4 1925.3,289.9C1930.2,290.3 1937.4,295.6 1938,298.8C1938.7,302 1934.2,303.2 1929.2,309C1924.1,314.7 1911.2,329.2 1907.6,333.2" fill="none" stroke="#000" stroke-width="8.5" stroke-linecap="round" stroke-linejoin="round"/>
<path d="M1347.9,239a4.8,4.8 0 1,0 9.6,0a4.8,4.8 0 1,0 -9.6,0ZM1313,252.4a6.1,6.1 0 1,0 12.2,0a6.1,6.1 0 1,0 -12.2,0ZM1416.2,279.3a5.4,5.4 0 1,0 10.8,0a5.4,5.4 0 1,0 -10.8,0ZM1261.3,289.3a4.1,4.1 0 1,0 8.2,0a4.1,4.1 0 1,0 -8.2,0ZM1599.1,270.9a5.4,5.4 0 1,0 10.8,0a5.4,5.4 0 1,0 -10.8,0ZM1438,215.6a5.4,5.4 0 1,0 10.8,0a5.4,5.4 0 1,0 -10.8,0ZM1456,227.3a7.5,7.5 0 1,0 15,0a7.5,7.5 0 1,0 -15,0ZM1475.9,237.3a6.1,6.1 0 1,0 12.2,0a6.1,6.1 0 1,0 -12.2,0ZM1364.7,255.8a4.8,4.8 0 1,0 9.6,0a4.8,4.8 0 1,0 -9.6,0ZM1373.4,286a6.1,6.1 0 1,0 12.2,0a6.1,6.1 0 1,0 -12.2,0ZM1919.4,252.4a6.1,6.1 0 1,0 12.2,0a6.1,6.1 0 1,0 -12.2,0ZM1830.3,341.5a6.1,6.1 0 1,0 12.2,0a6.1,6.1 0 1,0 -12.2,0ZM2074.4,353.2a5.4,5.4 0 1,0 10.8,0a5.4,5.4 0 1,0 -10.8,0ZM1714,323a8.2,8.2 0 1,0 16.4,0a8.2,8.2 0 1,0 -16.4,0ZM1741.6,341.5a7.5,7.5 0 1,0 15,0a7.5,7.5 0 1,0 -15,0ZM1735.6,276a6.8,6.8 0 1,0 13.6,0a6.8,6.8 0 1,0 -13.6,0ZM1704.7,240.7a4.1,4.1 0 1,0 8.2,0a4.1,4.1 0 1,0 -8.2,0ZM1689.6,262.5a4.1,4.1 0 1,0 8.2,0a4.1,4.1 0 1,0 -8.2,0Z" fill="#000"/>
<use href="#coast" x="1228.5" y="812.4"/>
<text class="ct" style="font-size:56px" transform="translate(1926.6,298.8) rotate(0)" x="0" y="20.2">2</text>
</g>
<line x1="1228.5" y1="111.4" x2="1228.5" y2="98.4" stroke="#000" stroke-width="3"/>
<line x1="1228.5" y1="812.4" x2="1228.5" y2="825.4" stroke="#000" stroke-width="3"/>
<line x1="1355.2" y1="111.4" x2="1355.2" y2="98.4" stroke="#000" stroke-width="3"/>
<line x1="1355.2" y1="812.4" x2="1355.2" y2="825.4" stroke="#000" stroke-width="3"/>
<line x1="1481.9" y1="111.4" x2="1481.9" y2="85.4" stroke="#000" stroke-width="5"/>
<line x1="1481.9" y1="812.4" x2="1481.9" y2="838.4" stroke="#000" stroke-width="5"/>
<line x1="1608.6" y1="111.4" x2="1608.6" y2="98.4" stroke="#000" stroke-width="3"/>
<line x1="1608.6" y1="812.4" x2="1608.6" y2="825.4" stroke="#000" stroke-width="3"/>
<line x1="1735.3" y1="111.4" x2="1735.3" y2="98.4" stroke="#000" stroke-width="3"/>
<line x1="1735.3" y1="812.4" x2="1735.3" y2="825.4" stroke="#000" stroke-width="3"/>
<line x1="1862" y1="111.4" x2="1862" y2="85.4" stroke="#000" stroke-width="5"/>
<line x1="1862" y1="812.4" x2="1862" y2="838.4" stroke="#000" stroke-width="5"/>
<line x1="1988.7" y1="111.4" x2="1988.7" y2="98.4" stroke="#000" stroke-width="3"/>
<line x1="1988.7" y1="812.4" x2="1988.7" y2="825.4" stroke="#000" stroke-width="3"/>
<line x1="2115.4" y1="111.4" x2="2115.4" y2="98.4" stroke="#000" stroke-width="3"/>
<line x1="2115.4" y1="812.4" x2="2115.4" y2="825.4" stroke="#000" stroke-width="3"/>
<line x1="1228.5" y1="812.4" x2="1201.5" y2="812.4" stroke="#000" stroke-width="5"/>
<line x1="2115.4" y1="812.4" x2="2142.4" y2="812.4" stroke="#000" stroke-width="5"/>
<line x1="1228.5" y1="748.7" x2="1214.5" y2="748.7" stroke="#000" stroke-width="3"/>
<line x1="2115.4" y1="748.7" x2="2129.4" y2="748.7" stroke="#000" stroke-width="3"/>
<line x1="1228.5" y1="685" x2="1214.5" y2="685" stroke="#000" stroke-width="3"/>
<line x1="2115.4" y1="685" x2="2129.4" y2="685" stroke="#000" stroke-width="3"/>
<line x1="1228.5" y1="621.2" x2="1214.5" y2="621.2" stroke="#000" stroke-width="3"/>
<line x1="2115.4" y1="621.2" x2="2129.4" y2="621.2" stroke="#000" stroke-width="3"/>
<line x1="1228.5" y1="557.5" x2="1201.5" y2="557.5" stroke="#000" stroke-width="5"/>
<line x1="2115.4" y1="557.5" x2="2142.4" y2="557.5" stroke="#000" stroke-width="5"/>
<line x1="1228.5" y1="493.8" x2="1214.5" y2="493.8" stroke="#000" stroke-width="3"/>
<line x1="2115.4" y1="493.8" x2="2129.4" y2="493.8" stroke="#000" stroke-width="3"/>
<line x1="1228.5" y1="430.1" x2="1214.5" y2="430.1" stroke="#000" stroke-width="3"/>
<line x1="2115.4" y1="430.1" x2="2129.4" y2="430.1" stroke="#000" stroke-width="3"/>
<line x1="1228.5" y1="366.3" x2="1214.5" y2="366.3" stroke="#000" stroke-width="3"/>
<line x1="2115.4" y1="366.3" x2="2129.4" y2="366.3" stroke="#000" stroke-width="3"/>
<line x1="1228.5" y1="302.6" x2="1201.5" y2="302.6" stroke="#000" stroke-width="5"/>
<line x1="2115.4" y1="302.6" x2="2142.4" y2="302.6" stroke="#000" stroke-width="5"/>
<line x1="1228.5" y1="238.9" x2="1214.5" y2="238.9" stroke="#000" stroke-width="3"/>
<line x1="2115.4" y1="238.9" x2="2129.4" y2="238.9" stroke="#000" stroke-width="3"/>
<line x1="1228.5" y1="175.1" x2="1214.5" y2="175.1" stroke="#000" stroke-width="3"/>
<line x1="2115.4" y1="175.1" x2="2129.4" y2="175.1" stroke="#000" stroke-width="3"/>
<line x1="1228.5" y1="111.4" x2="1214.5" y2="111.4" stroke="#000" stroke-width="3"/>
<line x1="2115.4" y1="111.4" x2="2129.4" y2="111.4" stroke="#000" stroke-width="3"/>
<rect x="1228.5" y="111.4" width="886.9" height="701" fill="none" stroke="#000" stroke-width="6"/>
<text class="yl" x="1170.5" y="319.1">40N</text>
<text class="yl" x="1170.5" y="574">20N</text>
<text class="yl" x="1170.5" y="828.9">0</text>
<text class="xl" x="1481.9" y="887.9">90E</text>
<text class="xl" x="1862" y="887.9">120E</text>
<text class="tt" x="1670" y="64.9">(b) low, op</text>
<path d="M1299.8,905.6 L1239.5,937.6 L1299.8,969.6 Z" fill="#000078"/>
<rect x="1299.5" y="905.6" width="62.8" height="64" fill="#0000a0" shape-rendering="crispEdges"/>
<rect x="1361.7" y="905.6" width="62.8" height="64" fill="#0000c8" shape-rendering="crispEdges"/>
<rect x="1423.8" y="905.6" width="62.8" height="64" fill="#0000f0" shape-rendering="crispEdges"/>
<rect x="1486" y="905.6" width="62.8" height="64" fill="#2828ff" shape-rendering="crispEdges"/>
<rect x="1548.1" y="905.6" width="62.8" height="64" fill="#7878ff" shape-rendering="crispEdges"/>
<rect x="1610.3" y="905.6" width="62.8" height="64" fill="#c0c0ff" shape-rendering="crispEdges"/>
<rect x="1672.5" y="905.6" width="62.8" height="64" fill="#ffc0c0" shape-rendering="crispEdges"/>
<rect x="1734.6" y="905.6" width="62.8" height="64" fill="#ff7878" shape-rendering="crispEdges"/>
<rect x="1796.8" y="905.6" width="62.8" height="64" fill="#ff2828" shape-rendering="crispEdges"/>
<rect x="1858.9" y="905.6" width="62.8" height="64" fill="#f00000" shape-rendering="crispEdges"/>
<rect x="1921.1" y="905.6" width="62.8" height="64" fill="#c80000" shape-rendering="crispEdges"/>
<rect x="1983.2" y="905.6" width="62.8" height="64" fill="#a00000" shape-rendering="crispEdges"/>
<path d="M2045.1,905.6 L2105.4,937.6 L2045.1,969.6 Z" fill="#780000"/>
<text class="cl" x="1301.4" y="1014.3">−28</text>
<text class="cl" x="1425.7" y="1014.3">−18</text>
<text class="cl" x="1550" y="1014.3">−8</text>
<text class="cl" x="1674.4" y="1014.3">2</text>
<text class="cl" x="1798.7" y="1014.3">12</text>
<text class="cl" x="1923" y="1014.3">22</text>
<text class="cl" x="2047.3" y="1014.3">32</text>
</g>
<g id="panel-c">
<g clip-path="url(#clip-c)">
<rect x="155.2" y="1172.6" width="890.9" height="705" fill="#0000f0"/>
<path d="M157.2,1149.1C183.6,1149.1 287.7,1144.9 315.6,1149.1C343.4,1153.4 318.1,1167.2 324.4,1174.6C330.8,1182.1 342.8,1187.6 353.6,1193.7C364.4,1199.9 390.1,1206.3 389.1,1211.6C388,1216.9 358.4,1221.4 347.2,1225.6C336.1,1229.9 321.9,1232.8 321.9,1237.1C321.9,1241.3 338.8,1247 347.2,1251.1C355.7,1255.2 364.1,1258.7 372.6,1261.9C381,1265.1 389.1,1267.8 397.9,1270.2C406.8,1272.7 421.6,1279.8 425.8,1276.6C430,1273.4 423.9,1257.5 423.3,1251.1C422.6,1244.7 419.9,1242.2 422,1238.3C424.1,1234.5 429.8,1229.9 435.9,1228.2C442.1,1226.5 452.4,1224.3 458.7,1228.2C465.1,1232 469.3,1244.1 473.9,1251.1C478.6,1258.1 481.3,1263.8 486.6,1270.2C491.9,1276.6 500.1,1283.6 505.6,1289.3C511.1,1295.1 515.1,1303.6 519.6,1304.6C524,1305.7 528.2,1302.5 532.2,1295.7C536.2,1288.9 539.6,1271.7 543.6,1263.8C547.6,1256 551,1250.7 556.3,1248.5C561.6,1246.4 570,1252.8 575.3,1251.1C580.6,1249.4 583.8,1241.5 588,1238.3C592.2,1235.2 596.8,1234.1 600.6,1232C604.5,1229.9 608,1222.4 610.8,1225.6C613.5,1228.8 615.4,1243.4 617.1,1251.1C618.8,1258.7 615.2,1267.5 620.9,1271.5C626.6,1275.5 639.1,1276.9 651.3,1275.3C663.6,1273.7 676,1264.2 694.4,1261.9C712.8,1259.7 747,1258.6 761.6,1261.9C776.1,1265.2 769.6,1279.7 781.8,1281.7C794.1,1283.7 818.8,1272.8 835,1274C851.3,1275.3 865.9,1284.7 879.4,1289.3C892.9,1294 905.6,1303.8 916.1,1302.1C926.7,1300.4 934.9,1279.1 942.7,1279.1C950.6,1279.1 955.2,1297.6 963,1302.1C970.8,1306.5 980.1,1309.3 989.6,1305.9C999.1,1302.5 1010.9,1289 1020,1281.7C1029.1,1274.4 1040.1,1265.2 1044.1,1261.9L1044.1,1880.6 L157.2,1880.6 Z" fill="#2828ff"/>
<path d="M157.2,1268.9C160.6,1270 166.3,1275.3 177.5,1275.3C188.7,1275.3 206.6,1269.6 224.4,1268.9C242.1,1268.3 270.8,1270 283.9,1271.5C297,1273 294.9,1278.3 302.9,1277.9C310.9,1277.4 322.8,1269.4 332,1268.9C341.3,1268.5 348.7,1272.5 358.7,1275.3C368.6,1278.1 381.5,1281.6 391.6,1285.5C401.7,1289.4 412.7,1295.1 419.5,1298.9C426.2,1302.7 431.1,1303.9 432.1,1308.4C433.2,1313 424.1,1326.3 425.8,1326.3C427.5,1326.3 434.5,1312.5 442.3,1308.4C450.1,1304.4 461.5,1302.1 472.7,1302.1C483.9,1302.1 498.9,1305.7 509.4,1308.4C520,1311.2 529.9,1312.9 536,1318.6C542.2,1324.4 542.2,1339.5 546.2,1342.9C550.2,1346.3 554.4,1342.4 560.1,1339C565.8,1335.6 573.6,1326.9 580.4,1322.5C587.1,1318 594.5,1311.2 600.6,1312.3C606.8,1313.3 610.4,1322 617.1,1328.8C623.9,1335.6 631.7,1342.9 641.2,1353.1C650.7,1363.3 662.5,1386.2 674.1,1390C685.8,1393.8 699.1,1381.1 710.9,1376C722.7,1370.9 732.2,1363.3 745.1,1359.4C758,1355.6 776.3,1353.7 788.2,1353.1C800,1352.4 803.2,1351.1 816,1355.6C828.9,1360.1 853.2,1378.1 865.5,1379.8C877.7,1381.5 881.7,1370.9 889.5,1365.8C897.3,1360.7 901.8,1353.1 912.3,1349.2C922.9,1345.4 939.4,1345.2 952.9,1342.9C966.4,1340.5 981.2,1333.5 993.4,1335.2C1005.7,1336.9 1017.9,1346.3 1026.4,1353.1C1034.8,1359.9 1041.1,1372.2 1044.1,1376L1044.1,1880.6 L157.2,1880.6 Z" fill="#7878ff"/>
<path d="M157.2,1378.5C165.6,1378.5 197.7,1379.2 207.9,1378.5C218,1377.9 213.8,1376.8 218,1374.7C222.2,1372.6 224.4,1368.3 233.2,1365.8C242.1,1363.3 258.8,1361.6 271.2,1359.4C283.7,1357.3 293.4,1356.5 308,1353.1C322.5,1349.7 343.4,1341.4 358.7,1339C373.9,1336.7 390.3,1336.3 399.2,1339C408.1,1341.8 405.7,1356.1 411.9,1355.6C418,1355.1 428.5,1338.6 435.9,1335.8C443.3,1333.1 452.3,1334.7 456.2,1339C460.1,1343.4 456,1357.5 459.4,1362C462.8,1366.4 469.8,1364.1 476.5,1365.8C483.1,1367.5 490.2,1368.6 499.3,1372.2C508.4,1375.8 522.5,1381.1 531,1387.5C539.4,1393.8 545.7,1401.3 550,1410.4C554.2,1419.5 554.2,1433.3 556.3,1442.3C558.4,1451.2 559.1,1458.2 562.6,1463.9C566.2,1469.7 571.5,1474.6 577.8,1476.7C584.2,1478.8 593.5,1475.6 600.6,1476.7C607.8,1477.7 614.8,1478.8 620.9,1483.1C627,1487.3 633.2,1501.5 637.4,1502.2C641.6,1502.8 645.2,1492.8 646.3,1486.9C647.3,1480.9 637.4,1474.9 643.7,1466.5C650.1,1458.1 673.1,1442.4 684.3,1436.5C695.5,1430.7 699.7,1431.1 710.9,1431.4C722.1,1431.8 738.5,1438.1 751.4,1438.4C764.3,1438.8 777.4,1435.5 788.2,1433.3C798.9,1431.2 807.6,1428.5 816,1425.7C824.5,1422.9 830.6,1415 838.8,1416.8C847.1,1418.6 854.9,1432.1 865.5,1436.5C876,1441 890.4,1439.6 902.2,1443.5C914,1447.5 925.2,1459.1 936.4,1460.1C947.6,1461.2 958.2,1453.8 969.3,1449.9C980.5,1446 991.1,1440.4 1003.6,1436.5C1016,1432.7 1037.3,1428.6 1044.1,1427L1044.1,1880.6 L157.2,1880.6 Z" fill="#c0c0ff"/>
<path d="M157.2,1444.8C159.3,1446.1 164.6,1448.6 169.9,1452.5C175.1,1456.3 181.5,1462.7 188.9,1467.8C196.3,1472.9 205.8,1478.4 214.2,1483.1C222.7,1487.7 230.1,1491.1 239.6,1495.8C249.1,1500.5 258.6,1506.2 271.2,1511.1C283.9,1516 301,1520.9 315.6,1525.1C330.1,1529.4 344.9,1534.2 358.7,1536.6C372.4,1538.9 386.7,1538.8 397.9,1539.1C409.1,1539.5 415.7,1539.8 425.8,1538.5C435.9,1537.2 449.7,1533.9 458.7,1531.5C467.8,1529 473.5,1524.7 480.3,1523.8C487,1523 495.3,1523 499.3,1526.4C503.3,1529.8 503.1,1539.3 504.4,1544.2C505.6,1549.1 505.4,1549.3 506.9,1555.7C508.4,1562.1 510.3,1575.9 513.2,1582.5C516.2,1589 521.3,1592.2 524.6,1595.2C528,1598.2 527.6,1600.7 533.5,1600.3C539.4,1599.9 552.1,1596.1 560.1,1592.7C568.1,1589.3 574.9,1583.3 581.6,1579.9C588.4,1576.5 590.7,1575 600.6,1572.3C610.6,1569.5 628.3,1565.7 641.2,1563.3C654.1,1561 665.7,1559.9 677.9,1558.2C690.2,1556.6 702.2,1555.5 714.7,1553.2C727.1,1550.8 740.4,1547.8 752.7,1544.2C764.9,1540.6 779.7,1535.5 788.2,1531.5C796.6,1527.4 795.6,1522.8 803.4,1520C811.2,1517.3 824.1,1516.5 835,1514.9C846,1513.3 858.1,1509.6 869.3,1510.5C880.4,1511.3 892.1,1519.3 902.2,1520C912.3,1520.8 919.1,1516 930.1,1514.9C941.1,1513.9 955.4,1514.7 968.1,1513.6C980.7,1512.6 993.4,1510.2 1006.1,1508.5C1018.8,1506.8 1037.8,1504.3 1044.1,1503.4L1044.1,1880.6 L157.2,1880.6 Z" fill="#ffc0c0"/>
<path d="M150.9,1518.7C154.7,1459.5 168,1522.4 173.7,1527.7C179.4,1533 184,1543.6 185.1,1550.6C186.1,1557.6 178.3,1564.8 180,1569.7C181.7,1574.6 190.6,1574.6 195.2,1579.9C199.9,1585.2 207.9,1594.8 207.9,1601.6C207.9,1608.4 198,1615.4 195.2,1620.7C192.5,1626 191.4,1627.1 191.4,1633.4C191.4,1639.8 193.3,1651.5 195.2,1658.9C197.1,1666.4 200.1,1670.6 202.8,1678.1C205.6,1685.5 209.8,1696.1 211.7,1703.5C213.6,1711 213.6,1715.2 214.2,1722.7C214.8,1730.1 214,1740.7 215.5,1748.1C217,1755.6 222.7,1761.3 223.1,1767.3C223.5,1773.2 216.3,1780.2 218,1783.8C219.7,1787.4 227.5,1788.5 233.2,1788.9C238.9,1789.4 247.6,1789.4 252.2,1786.4C256.9,1783.4 257.5,1775.3 261.1,1771.1C264.7,1766.8 271,1764.7 273.8,1760.9C276.5,1757.1 278.4,1752.4 277.6,1748.1C276.7,1743.9 271.4,1740.7 268.7,1735.4C266,1730.1 261.9,1722.2 261.1,1716.3C260.2,1710.3 260.7,1703.5 263.6,1699.7C266.6,1695.9 275.7,1697 278.8,1693.3C282,1689.7 278.6,1682.1 282.6,1678.1C286.6,1674 296.4,1673.6 302.9,1669.1C309.5,1664.7 314.5,1657.9 321.9,1651.3C329.3,1644.7 339.6,1635.1 347.2,1629.6C354.9,1624.1 363.7,1622.8 367.5,1618.2C371.3,1613.5 370.3,1606.5 370.1,1601.6C369.8,1596.7 364.8,1592.7 366.3,1588.8C367.7,1585 372.6,1580.3 378.9,1578.6C385.3,1576.9 397.3,1577.2 404.3,1578.6C411.2,1580.1 415.9,1583.7 420.7,1587.6C425.6,1591.4 429.8,1596.1 433.4,1601.6C437,1607.1 438.1,1613.9 442.3,1620.7C446.5,1627.5 455.2,1634.1 458.7,1642.4C462.3,1650.7 460.2,1665.1 463.8,1670.4C467.4,1675.7 474.8,1674.9 480.3,1674.2C485.8,1673.6 493,1663.8 496.8,1666.6C500.6,1669.3 501.4,1680.8 503.1,1690.8C504.8,1700.8 506.3,1716.1 506.9,1726.5C507.5,1736.9 509.2,1745.4 506.9,1753.2C504.6,1761.1 497.6,1766.8 493,1773.6C488.3,1780.4 483.2,1787.7 479,1794C474.8,1800.4 471,1806.4 467.6,1811.9C464.2,1817.4 462.3,1820.2 458.7,1827.2C455.2,1834.2 446.7,1844.6 446.1,1853.9C445.4,1863.3 504.1,1878.4 454.9,1883.2C405.7,1888.1 201.5,1944 150.9,1883.2C100.2,1822.5 147.1,1578 150.9,1518.7Z" fill="#ff7878"/>
<path d="M643.7,1658.9C642.9,1649 647.3,1640.9 651.3,1633.4C655.3,1626 659.4,1618.2 667.8,1614.3C676.2,1610.5 690,1610.9 702,1610.5C714,1610.1 728.4,1610.9 740,1611.8C751.6,1612.6 762.2,1613.3 771.7,1615.6C781.2,1617.9 789.2,1623.5 797,1625.8C804.8,1628.1 812.2,1630 818.6,1629.6C824.9,1629.2 830.2,1623 835,1623.2C839.9,1623.5 843.5,1631.3 847.7,1630.9C851.9,1630.5 856.2,1621.1 860.4,1620.7C864.6,1620.3 868.8,1628.8 873.1,1628.3C877.3,1627.9 881.5,1618.4 885.7,1618.2C889.9,1617.9 894.2,1627.3 898.4,1627.1C902.6,1626.9 906.8,1617.1 911.1,1616.9C915.3,1616.7 919.5,1626.2 923.7,1625.8C928,1625.4 932.2,1614.8 936.4,1614.3C940.6,1613.9 944.9,1623.5 949.1,1623.2C953.3,1623 957.5,1613.3 961.7,1613.1C966,1612.8 970.2,1622.2 974.4,1622C978.6,1621.8 982.9,1612 987.1,1611.8C991.3,1611.6 995.5,1620.5 999.8,1620.7C1004,1620.9 1008.2,1612.8 1012.4,1613.1C1016.6,1613.3 1020.9,1621.8 1025.1,1622C1029.3,1622.2 1033.3,1615 1037.8,1614.3C1042.2,1613.7 1049.4,1573.3 1051.7,1618.2C1054,1663 1119.1,1839.1 1051.7,1883.2C984.3,1927.4 714.7,1888.8 647.5,1883.2C580.4,1877.7 657.7,1854.8 648.8,1850.1C639.9,1845.4 605.3,1861.8 594.3,1855.2C583.3,1848.6 588.6,1821.9 582.9,1810.6C577.2,1799.3 567.9,1796.2 560.1,1787.7C552.3,1779.2 540.5,1769.8 536,1759.6C531.6,1749.4 532.9,1735.4 533.5,1726.5C534.1,1717.6 535.4,1708.3 539.8,1706.1C544.3,1703.9 552.3,1708.6 560.1,1713.1C567.9,1717.6 580,1725.5 586.7,1732.9C593.5,1740.2 594.9,1755.4 600.6,1757.1C606.4,1758.8 612.5,1748.1 620.9,1743.1C629.4,1738 645.4,1734.8 651.3,1726.5C657.2,1718.2 657.7,1704.6 656.4,1693.3C655.1,1682.1 644.6,1668.9 643.7,1658.9Z" fill="#ff7878"/>
<path d="M648.8,1846.3C653.9,1838.6 667.6,1843.3 677.9,1837.4C688.3,1831.4 699.7,1819.5 710.9,1810.6C722.1,1801.7 736.9,1791.3 745.1,1783.8C753.3,1776.4 753.7,1775.1 760.3,1766C766.8,1756.9 778.9,1734.1 784.4,1729C789.9,1723.9 794.3,1729 793.2,1735.4C792.2,1741.8 782,1758.8 778,1767.3C774,1775.8 768.3,1779.8 769.2,1786.4C770,1793 782.5,1799.3 783.1,1806.8C783.7,1814.2 773.2,1823.3 773,1831C772.8,1838.6 776.8,1848.6 781.8,1852.7C786.9,1856.7 793.4,1855.6 803.4,1855.2C813.3,1854.8 830.8,1851.6 841.4,1850.1C851.9,1848.6 860.4,1844.2 866.7,1846.3C873.1,1848.4 878.3,1856.7 879.4,1862.9C880.4,1869 911.7,1879.8 873.1,1883.2C834.4,1886.6 684.9,1889.4 647.5,1883.2C610.2,1877.1 643.7,1853.9 648.8,1846.3Z" fill="#ffc0c0"/>
<path d="M784.4,1625.8C787.1,1623 790.5,1627.9 797,1629.6C803.6,1631.3 818.4,1631.1 823.6,1636C828.9,1640.9 828.7,1650.9 828.7,1658.9C828.7,1667 820.5,1678.1 823.6,1684.4C826.8,1690.8 841.2,1692.4 847.7,1697.2C854.3,1701.9 859.3,1705.5 862.9,1713.1C866.5,1720.7 866.5,1731.9 869.3,1743.1C872,1754.2 879.2,1769 879.4,1780C879.6,1791.1 875.2,1801 870.5,1809.3C865.9,1817.6 857.6,1827.8 851.5,1829.7C845.4,1831.6 838.2,1825.9 833.8,1820.8C829.3,1815.7 824.7,1804.9 824.9,1799.1C825.1,1793.4 836.5,1789.8 835,1786.4C833.6,1783 820.9,1783 816,1778.7C811.2,1774.5 807.2,1768.1 805.9,1760.9C804.6,1753.7 810.1,1742.8 808.4,1735.4C806.7,1728 800.2,1721.6 795.8,1716.3C791.3,1711 783.7,1711 781.8,1703.5C779.9,1696.1 784.6,1681.2 784.4,1671.7C784.2,1662.1 780.6,1653.8 780.6,1646.2C780.6,1638.5 781.6,1628.6 784.4,1625.8Z" fill="#ffc0c0"/>
<path d="M248.4,1630.9a29.1,25.5 0 1,0 58.3,0a29.1,25.5 0 1,0 -58.3,0ZM237,1544.2a27.9,16.6 0 1,0 55.7,0a27.9,16.6 0 1,0 -55.7,0ZM302.9,1554.4a10.1,8.9 0 1,0 20.3,0a10.1,8.9 0 1,0 -20.3,0ZM212.9,1559.5a10.1,6.4 0 1,0 20.3,0a10.1,6.4 0 1,0 -20.3,0ZM367.5,1574.8a24.1,10.2 0 1,0 48.1,0a24.1,10.2 0 1,0 -48.1,0ZM167.3,1499.6a19,15.3 0 1,0 38,0a19,15.3 0 1,0 -38,0ZM211.7,1511.1a12.7,19.1 0 1,0 25.3,0a12.7,19.1 0 1,0 -25.3,0ZM797,1741.8a12.7,15.3 0 1,0 25.3,0a12.7,15.3 0 1,0 -25.3,0ZM788.2,1786.4a15.2,12.7 0 1,0 30.4,0a15.2,12.7 0 1,0 -30.4,0ZM803.4,1837.4a25.3,12.7 0 1,0 50.7,0a25.3,12.7 0 1,0 -50.7,0Z" fill="#ff7878"/>
<path d="M270,1638.5a16.5,14 0 1,0 32.9,0a16.5,14 0 1,0 -32.9,0ZM470.1,1703.5a7.6,16.6 0 1,0 15.2,0a7.6,16.6 0 1,0 -15.2,0ZM461.3,1773.6a6.3,6.4 0 1,0 12.7,0a6.3,6.4 0 1,0 -12.7,0ZM177.5,1792.8a7.6,12.7 0 1,0 15.2,0a7.6,12.7 0 1,0 -15.2,0ZM191.4,1850.1a3.8,7.6 0 1,0 7.6,0a3.8,7.6 0 1,0 -7.6,0ZM242.1,1862.9a3.8,11.5 0 1,0 7.6,0a3.8,11.5 0 1,0 -7.6,0ZM347.2,1865.4a6.3,7.6 0 1,0 12.7,0a6.3,7.6 0 1,0 -12.7,0ZM381.5,1865.4a3.8,8.9 0 1,0 7.6,0a3.8,8.9 0 1,0 -7.6,0ZM880.7,1748.1a2.5,11.5 0 1,0 5.1,0a2.5,11.5 0 1,0 -5.1,0ZM956.7,1843.7a5.1,11.5 0 1,0 10.1,0a5.1,11.5 0 1,0 -10.1,0ZM966.2,1792.8a1.9,7.6 0 1,0 3.8,0a1.9,7.6 0 1,0 -3.8,0Z" fill="#ffc0c0"/>
<path d="M220.5,1340h50.7v13.3h-50.7ZM195.2,1352.8h76v13.3h-76ZM410.6,1352.8h38v13.3h-38ZM473.9,1352.8h38v13.3h-38ZM157.2,1365.5h101.4v13.3h-101.4ZM410.6,1365.5h38v13.3h-38ZM473.9,1365.5h38v13.3h-38ZM157.2,1378.2h63.3v13.3h-63.3ZM385.3,1378.2h152v13.3h-152ZM157.2,1391h76v13.3h-76ZM321.9,1391h240.7v13.3h-240.7ZM157.2,1403.7h101.4v13.3h-101.4ZM321.9,1403.7h240.7v13.3h-240.7ZM157.2,1416.5h405.4v13.3h-405.4ZM157.2,1429.2h430.8v13.3h-430.8ZM169.9,1442h418.1v13.3h-418.1ZM195.2,1454.7h392.8v13.3h-392.8ZM220.5,1467.5h354.8v13.3h-354.8ZM239.6,1480.2h335.8v13.3h-335.8ZM258.6,1493h304.1v13.3h-304.1ZM290.2,1505.7h272.4v13.3h-272.4ZM328.2,1518.4h234.4v13.3h-234.4ZM359.9,1531.2h177.4v5.7h-177.4ZM503.1,1536.3h29.1v21h-29.1ZM372.6,1238h38v26.1h-38ZM385.3,1250.8h38v26.1h-38ZM486.6,1263.5h25.3v26.1h-25.3ZM524.6,1276.3h38v26.1h-38ZM575.3,1327.3h25.3v26.1h-25.3Z" fill="#d9d9d9"/>
<path d="M157.2,1444.8L161,1451.2" fill="none" stroke="#000" stroke-width="8.5" stroke-linecap="round" stroke-linejoin="round"/>
<path d="M172.4,1451.2L192.7,1465.2" fill="none" stroke="#000" stroke-width="8.5" stroke-linecap="round" stroke-linejoin="round"/>
<path d="M215.5,1478L225.6,1481.8" fill="none" stroke="#000" stroke-width="8.5" stroke-linecap="round" stroke-linejoin="round"/>
<path d="M244.6,1493.2L258.6,1499.6" fill="none" stroke="#000" stroke-width="8.5" stroke-linecap="round" stroke-linejoin="round"/>
<path d="M283.9,1509.8C287.1,1510.9 295.5,1513.6 302.9,1516.2C310.3,1518.7 319,1522.1 328.2,1525.1C337.5,1528.1 347,1531.9 358.7,1534C370.3,1536.2 386.7,1537.4 397.9,1537.9C409.1,1538.3 415.7,1537.9 425.8,1536.6C435.9,1535.3 449.7,1532.5 458.7,1530.2C467.8,1527.9 473.9,1523.4 480.3,1522.6C486.6,1521.7 494,1524.7 496.8,1525.1" fill="none" stroke="#000" stroke-width="8.5" stroke-linecap="round" stroke-linejoin="round"/>
<path d="M505.6,1551.9C505.8,1554.9 505.6,1564.6 506.9,1569.7C508.2,1574.8 510.3,1578.2 513.2,1582.5C516.2,1586.7 521.3,1592.2 524.6,1595.2C528,1598.2 527.6,1600.7 533.5,1600.3C539.4,1599.9 552.1,1596.1 560.1,1592.7C568.1,1589.3 574.9,1583.3 581.6,1579.9C588.4,1576.5 590.7,1575 600.6,1572.3C610.6,1569.5 627.9,1565.7 641.2,1563.3C654.5,1561 673.9,1559.1 680.5,1558.2" fill="none" stroke="#000" stroke-width="8.5" stroke-linecap="round" stroke-linejoin="round"/>
<path d="M790.7,1530.2C792.8,1528.5 796,1522.6 803.4,1520C810.8,1517.5 824.1,1516.5 835,1514.9C846,1513.3 858.1,1509.6 869.3,1510.5C880.4,1511.3 892.1,1519.3 902.2,1520C912.3,1520.8 919.1,1516 930.1,1514.9C941.1,1513.9 955.4,1514.7 968.1,1513.6C980.7,1512.6 993.4,1510.2 1006.1,1508.5C1018.8,1506.8 1037.8,1504.3 1044.1,1503.4" fill="none" stroke="#000" stroke-width="8.5" stroke-linecap="round" stroke-linejoin="round"/>
<path d="M451.7,1554.4a7,7 0 1,0 14,0a7,7 0 1,0 -14,0ZM493,1601.6a5,5 0 1,0 10,0a5,5 0 1,0 -10,0ZM542.4,1557a5,5 0 1,0 10,0a5,5 0 1,0 -10,0ZM164.6,1365.8a4,4 0 1,0 8,0a4,4 0 1,0 -8,0Z" fill="#000"/>
<use href="#coast" x="157.2" y="1875.6"/>
<text class="ct" style="font-size:62px" transform="translate(750.2,1554.4) rotate(-22)" x="0" y="22.3">12</text>
</g>
<line x1="157.2" y1="1174.6" x2="157.2" y2="1161.6" stroke="#000" stroke-width="3"/>
<line x1="157.2" y1="1875.6" x2="157.2" y2="1888.6" stroke="#000" stroke-width="3"/>
<line x1="283.9" y1="1174.6" x2="283.9" y2="1161.6" stroke="#000" stroke-width="3"/>
<line x1="283.9" y1="1875.6" x2="283.9" y2="1888.6" stroke="#000" stroke-width="3"/>
<line x1="410.6" y1="1174.6" x2="410.6" y2="1148.6" stroke="#000" stroke-width="5"/>
<line x1="410.6" y1="1875.6" x2="410.6" y2="1901.6" stroke="#000" stroke-width="5"/>
<line x1="537.3" y1="1174.6" x2="537.3" y2="1161.6" stroke="#000" stroke-width="3"/>
<line x1="537.3" y1="1875.6" x2="537.3" y2="1888.6" stroke="#000" stroke-width="3"/>
<line x1="664" y1="1174.6" x2="664" y2="1161.6" stroke="#000" stroke-width="3"/>
<line x1="664" y1="1875.6" x2="664" y2="1888.6" stroke="#000" stroke-width="3"/>
<line x1="790.7" y1="1174.6" x2="790.7" y2="1148.6" stroke="#000" stroke-width="5"/>
<line x1="790.7" y1="1875.6" x2="790.7" y2="1901.6" stroke="#000" stroke-width="5"/>
<line x1="917.4" y1="1174.6" x2="917.4" y2="1161.6" stroke="#000" stroke-width="3"/>
<line x1="917.4" y1="1875.6" x2="917.4" y2="1888.6" stroke="#000" stroke-width="3"/>
<line x1="1044.1" y1="1174.6" x2="1044.1" y2="1161.6" stroke="#000" stroke-width="3"/>
<line x1="1044.1" y1="1875.6" x2="1044.1" y2="1888.6" stroke="#000" stroke-width="3"/>
<line x1="157.2" y1="1875.6" x2="130.2" y2="1875.6" stroke="#000" stroke-width="5"/>
<line x1="1044.1" y1="1875.6" x2="1071.1" y2="1875.6" stroke="#000" stroke-width="5"/>
<line x1="157.2" y1="1811.9" x2="143.2" y2="1811.9" stroke="#000" stroke-width="3"/>
<line x1="1044.1" y1="1811.9" x2="1058.1" y2="1811.9" stroke="#000" stroke-width="3"/>
<line x1="157.2" y1="1748.1" x2="143.2" y2="1748.1" stroke="#000" stroke-width="3"/>
<line x1="1044.1" y1="1748.1" x2="1058.1" y2="1748.1" stroke="#000" stroke-width="3"/>
<line x1="157.2" y1="1684.4" x2="143.2" y2="1684.4" stroke="#000" stroke-width="3"/>
<line x1="1044.1" y1="1684.4" x2="1058.1" y2="1684.4" stroke="#000" stroke-width="3"/>
<line x1="157.2" y1="1620.7" x2="130.2" y2="1620.7" stroke="#000" stroke-width="5"/>
<line x1="1044.1" y1="1620.7" x2="1071.1" y2="1620.7" stroke="#000" stroke-width="5"/>
<line x1="157.2" y1="1557" x2="143.2" y2="1557" stroke="#000" stroke-width="3"/>
<line x1="1044.1" y1="1557" x2="1058.1" y2="1557" stroke="#000" stroke-width="3"/>
<line x1="157.2" y1="1493.2" x2="143.2" y2="1493.2" stroke="#000" stroke-width="3"/>
<line x1="1044.1" y1="1493.2" x2="1058.1" y2="1493.2" stroke="#000" stroke-width="3"/>
<line x1="157.2" y1="1429.5" x2="143.2" y2="1429.5" stroke="#000" stroke-width="3"/>
<line x1="1044.1" y1="1429.5" x2="1058.1" y2="1429.5" stroke="#000" stroke-width="3"/>
<line x1="157.2" y1="1365.8" x2="130.2" y2="1365.8" stroke="#000" stroke-width="5"/>
<line x1="1044.1" y1="1365.8" x2="1071.1" y2="1365.8" stroke="#000" stroke-width="5"/>
<line x1="157.2" y1="1302.1" x2="143.2" y2="1302.1" stroke="#000" stroke-width="3"/>
<line x1="1044.1" y1="1302.1" x2="1058.1" y2="1302.1" stroke="#000" stroke-width="3"/>
<line x1="157.2" y1="1238.3" x2="143.2" y2="1238.3" stroke="#000" stroke-width="3"/>
<line x1="1044.1" y1="1238.3" x2="1058.1" y2="1238.3" stroke="#000" stroke-width="3"/>
<line x1="157.2" y1="1174.6" x2="143.2" y2="1174.6" stroke="#000" stroke-width="3"/>
<line x1="1044.1" y1="1174.6" x2="1058.1" y2="1174.6" stroke="#000" stroke-width="3"/>
<rect x="157.2" y="1174.6" width="886.9" height="701" fill="none" stroke="#000" stroke-width="6"/>
<text class="yl" x="99.2" y="1382.3">40N</text>
<text class="yl" x="99.2" y="1637.2">20N</text>
<text class="yl" x="99.2" y="1892.1">0</text>
<text class="xl" x="410.6" y="1951.1">90E</text>
<text class="xl" x="790.7" y="1951.1">120E</text>
<text class="tt" x="598.6" y="1128.1">(c) Sc</text>
<path d="M228.5,1968.8 L168.2,2000.8 L228.5,2032.8 Z" fill="#000078"/>
<rect x="228.2" y="1968.8" width="62.8" height="64" fill="#0000a0" shape-rendering="crispEdges"/>
<rect x="290.4" y="1968.8" width="62.8" height="64" fill="#0000c8" shape-rendering="crispEdges"/>
<rect x="352.5" y="1968.8" width="62.8" height="64" fill="#0000f0" shape-rendering="crispEdges"/>
<rect x="414.7" y="1968.8" width="62.8" height="64" fill="#2828ff" shape-rendering="crispEdges"/>
<rect x="476.8" y="1968.8" width="62.8" height="64" fill="#7878ff" shape-rendering="crispEdges"/>
<rect x="539" y="1968.8" width="62.8" height="64" fill="#c0c0ff" shape-rendering="crispEdges"/>
<rect x="601.1" y="1968.8" width="62.8" height="64" fill="#ffc0c0" shape-rendering="crispEdges"/>
<rect x="663.3" y="1968.8" width="62.8" height="64" fill="#ff7878" shape-rendering="crispEdges"/>
<rect x="725.5" y="1968.8" width="62.8" height="64" fill="#ff2828" shape-rendering="crispEdges"/>
<rect x="787.6" y="1968.8" width="62.8" height="64" fill="#f00000" shape-rendering="crispEdges"/>
<rect x="849.8" y="1968.8" width="62.8" height="64" fill="#c80000" shape-rendering="crispEdges"/>
<rect x="912" y="1968.8" width="62.8" height="64" fill="#a00000" shape-rendering="crispEdges"/>
<path d="M973.8,1968.8 L1034.1,2000.8 L973.8,2032.8 Z" fill="#780000"/>
<text class="cl" x="230.1" y="2077.5">−18</text>
<text class="cl" x="354.4" y="2077.5">−8</text>
<text class="cl" x="478.7" y="2077.5">2</text>
<text class="cl" x="603" y="2077.5">12</text>
<text class="cl" x="727.4" y="2077.5">22</text>
<text class="cl" x="851.7" y="2077.5">32</text>
<text class="cl" x="976" y="2077.5">42</text>
</g>
<g id="panel-d">
<g clip-path="url(#clip-d)">
<rect x="1226.5" y="1172.6" width="890.9" height="705" fill="#0000f0"/>
<path d="M1545.2,1187.4C1545.2,1183.3 1562.1,1182.7 1570.6,1184.8C1579,1186.9 1588.8,1194.4 1595.9,1200.1C1603.1,1205.9 1615.1,1213.5 1613.7,1219.2C1612.2,1225 1594.2,1236.2 1587.1,1234.5C1579.9,1232.8 1577.6,1216.9 1570.6,1209C1563.6,1201.2 1545.2,1191.4 1545.2,1187.4Z" fill="#0000c8"/>
<path d="M1874.7,1193.7C1883.1,1199.1 1906.3,1198 1925.3,1200.1C1944.4,1202.2 1969.7,1200.1 1988.7,1206.5C2007.7,1212.9 2024.6,1237.3 2039.4,1238.3C2054.2,1239.4 2063.7,1215 2077.4,1212.9C2091.1,1210.7 2114.3,1233 2121.7,1225.6C2129.1,1218.2 2162.9,1177.8 2121.7,1168.3C2080.6,1158.7 1915.8,1164 1874.7,1168.3C1833.5,1172.5 1866.2,1188.4 1874.7,1193.7Z" fill="#0000c8"/>
<path d="M1228.5,1215.4C1232.5,1213.7 1244.1,1206.5 1252.6,1205.2C1261,1203.9 1266.3,1206.7 1279.2,1207.8C1292.1,1208.8 1313.2,1208.6 1329.9,1211.6C1346.5,1214.6 1368.3,1219 1379.3,1225.6C1390.3,1232.2 1387.3,1244.5 1395.7,1251.1C1404.2,1257.7 1417.5,1261.1 1430,1265.1C1442.4,1269.2 1460.8,1274 1470.5,1275.3C1480.2,1276.6 1484.9,1275.5 1488.2,1272.8C1491.6,1270 1487.6,1265.1 1490.8,1258.7C1493.9,1252.4 1501.1,1237.3 1507.2,1234.5C1513.4,1231.8 1522,1236 1527.5,1242.2C1533,1248.3 1534.7,1263.2 1540.2,1271.5C1545.7,1279.8 1551,1288.9 1560.5,1291.9C1570,1294.9 1585.4,1289.3 1597.2,1289.3C1609,1289.3 1621.3,1293.6 1631.4,1291.9C1641.5,1290.2 1651.3,1282.5 1658,1279.1C1664.8,1275.7 1666.9,1270.4 1672,1271.5C1677,1272.5 1673.3,1282.1 1688.4,1285.5C1703.5,1288.9 1747.3,1288.7 1762.5,1291.9C1777.7,1295.1 1770.7,1301.9 1779.6,1304.6C1788.6,1307.4 1809.2,1302.7 1816.4,1308.4C1823.6,1314.2 1820,1337.8 1822.7,1339C1825.5,1340.3 1824.4,1322.3 1832.9,1316.1C1841.3,1309.9 1862.2,1305.3 1873.4,1302.1C1884.6,1298.9 1889.5,1294.6 1900,1297C1910.6,1299.3 1928.3,1306.3 1936.8,1316.1C1945.2,1325.9 1947.3,1345.6 1950.7,1355.6C1954.1,1365.6 1954.3,1376 1957,1376C1959.8,1376 1964.4,1362.3 1967.2,1355.6C1969.9,1348.9 1966.7,1340.7 1973.5,1335.8C1980.3,1331 1996.5,1327.5 2007.7,1326.3C2018.9,1325.1 2029.5,1331.8 2040.6,1328.8C2051.8,1325.9 2062.4,1315.7 2074.9,1308.4C2087.3,1301.2 2108.6,1289.3 2115.4,1285.5L2115.4,1880.6 L1228.5,1880.6 Z" fill="#2828ff"/>
<path d="M1228.5,1291.9C1235.7,1292.5 1251.9,1295.7 1271.6,1295.7C1291.2,1295.7 1328.4,1292.9 1346.3,1291.9C1364.3,1290.8 1374.6,1287.2 1379.3,1289.3C1383.9,1291.5 1374.2,1300.8 1374.2,1304.6C1374.2,1308.4 1372.3,1313.8 1379.3,1312.3C1386.2,1310.8 1403.1,1297.9 1416,1295.7C1428.9,1293.5 1443,1296.1 1456.6,1298.9C1470.1,1301.7 1486.5,1309.4 1497.1,1312.3C1507.7,1315.1 1508.7,1314.4 1519.9,1316.1C1531.1,1317.8 1551.4,1320.8 1564.3,1322.5C1577.1,1324.2 1586,1324.1 1597.2,1326.3C1608.4,1328.5 1618.9,1334.3 1631.4,1335.8C1643.9,1337.4 1660.8,1336.4 1672,1335.8C1683.1,1335.3 1696.4,1329.4 1698.6,1332.7C1700.7,1336 1681.2,1350.6 1684.6,1355.6C1688,1360.6 1709.7,1356.5 1718.8,1362.6C1727.9,1368.8 1731.8,1386.4 1739.1,1392.6C1746.4,1398.7 1754.7,1401.3 1762.5,1399.6C1770.4,1397.9 1777.6,1388 1786,1382.4C1794.3,1376.7 1800.3,1369.8 1812.6,1365.8C1824.8,1361.8 1847,1358.7 1859.5,1358.2C1871.9,1357.6 1876.6,1359 1887.3,1362.6C1898.1,1366.2 1912.5,1374.8 1924.1,1379.8C1935.7,1384.8 1948.8,1392.1 1957,1392.6C1965.3,1393 1965,1385.7 1973.5,1382.4C1981.9,1379.1 1996.5,1372.8 2007.7,1372.8C2018.9,1372.8 2032.8,1383.5 2040.6,1382.4C2048.5,1381.2 2046.1,1366.9 2054.6,1365.8C2063,1364.7 2082.9,1369.8 2091.3,1376C2099.8,1382.2 2101.3,1397.2 2105.3,1402.8C2109.3,1408.3 2113.7,1408.1 2115.4,1409.1L2115.4,1880.6 L1228.5,1880.6 Z" fill="#7878ff"/>
<path d="M1261.4,1333.9C1264.6,1329.7 1274.1,1326.5 1285.5,1325C1296.9,1323.5 1316.1,1325.9 1329.9,1325C1343.6,1324.2 1355.2,1320.8 1367.9,1319.9C1380.5,1319.1 1394.3,1318.6 1405.9,1319.9C1417.5,1321.2 1435.4,1324.2 1437.6,1327.6C1439.7,1331 1428.1,1337.1 1418.5,1340.3C1409,1343.5 1393.2,1345.8 1380.5,1346.7C1367.9,1347.5 1353.1,1343.3 1342.5,1345.4C1332,1347.5 1325.6,1356.5 1317.2,1359.4C1308.7,1362.4 1300.3,1364.7 1291.8,1363.3C1283.4,1361.8 1271.6,1355.4 1266.5,1350.5C1261.4,1345.6 1258.3,1338.2 1261.4,1333.9Z" fill="#2828ff"/>
<path d="M1346.3,1302.1a15.2,10.2 0 1,0 30.4,0a15.2,10.2 0 1,0 -30.4,0ZM1488.2,1317.4a19,6.4 0 1,0 38,0a19,6.4 0 1,0 -38,0ZM1544,1346.7a10.1,8.9 0 1,0 20.3,0a10.1,8.9 0 1,0 -20.3,0ZM1618.7,1416.8a15.2,22.9 0 1,0 30.4,0a15.2,22.9 0 1,0 -30.4,0ZM1666.9,1429.5a8.9,10.2 0 1,0 17.7,0a8.9,10.2 0 1,0 -17.7,0ZM1493.3,1404a10.1,12.7 0 1,0 20.3,0a10.1,12.7 0 1,0 -20.3,0ZM1954.5,1401.5a6.3,6.4 0 1,0 12.7,0a6.3,6.4 0 1,0 -12.7,0ZM2077.4,1416.8a12.7,6.4 0 1,0 25.3,0a12.7,6.4 0 1,0 -25.3,0Z" fill="#2828ff"/>
<path d="M1228.5,1433.3C1232.7,1433.8 1245.4,1432.5 1253.8,1435.9C1262.3,1439.3 1270.7,1448 1279.2,1453.7C1287.6,1459.5 1296.1,1464.1 1304.5,1470.3C1313,1476.5 1320.4,1485.2 1329.9,1490.7C1339.4,1496.2 1351.6,1499.6 1361.5,1503.4C1371.5,1507.3 1377.8,1509 1389.4,1513.6C1401,1518.3 1415.8,1527.2 1431.2,1531.5C1446.6,1535.7 1468.2,1539.3 1481.9,1539.1C1495.6,1538.9 1506.8,1536.4 1513.6,1530.2C1520.3,1524.1 1517.2,1508.3 1522.4,1502.2C1527.7,1496 1538.3,1493.9 1545.2,1493.2C1552.2,1492.6 1557.9,1495.2 1564.3,1498.3C1570.6,1501.5 1575.9,1509.6 1583.3,1512.4C1590.7,1515.1 1600.2,1514.5 1608.6,1514.9C1617,1515.3 1626.5,1513.9 1633.9,1514.9C1641.3,1516 1647.7,1517.5 1652.9,1521.3C1658.2,1525.1 1660.3,1533.6 1665.6,1537.9C1670.9,1542.1 1678.3,1545.7 1684.6,1546.8C1691,1547.8 1698.3,1546.8 1703.6,1544.2C1708.9,1541.7 1712.1,1536.8 1716.3,1531.5C1720.5,1526.2 1725.2,1518.7 1729,1512.4C1732.8,1506 1735.7,1500.3 1739.1,1493.2C1742.5,1486.2 1744.2,1478.6 1749.2,1470.3C1754.3,1462 1764.4,1452.5 1769.5,1443.5C1774.6,1434.6 1776.9,1424.1 1779.6,1416.8C1782.4,1409.5 1781.5,1401.9 1786,1399.6C1790.4,1397.2 1801.8,1397.8 1806.3,1402.8C1810.7,1407.8 1807,1423.4 1812.6,1429.5C1818.2,1435.7 1829.7,1438.6 1839.8,1439.7C1850,1440.9 1860,1436.5 1873.4,1436.5C1886.8,1436.5 1909.7,1436.9 1920.3,1439.7C1930.8,1442.6 1930,1453.1 1936.8,1453.7C1943.5,1454.4 1953.4,1442 1960.8,1443.5C1968.2,1445.1 1973.3,1459.5 1981.1,1463.3C1988.9,1467.1 1997.8,1468.7 2007.7,1466.5C2017.6,1464.3 2029.5,1454.9 2040.6,1449.9C2051.8,1444.9 2062.4,1439.9 2074.9,1436.5C2087.3,1433.1 2108.6,1430.7 2115.4,1429.5L2115.4,1880.6 L1228.5,1880.6 Z" fill="#c0c0ff"/>
<path d="M1299.5,1378.5C1299.5,1372.4 1307.9,1367.3 1317.2,1363.3C1326.5,1359.2 1340.4,1356 1355.2,1354.3C1370,1352.6 1389,1352.2 1405.9,1353.1C1422.8,1353.9 1441.8,1357.9 1456.6,1359.4C1471.3,1360.9 1483.4,1360.9 1494.6,1362C1505.8,1363 1523.7,1363.5 1523.7,1365.8C1523.7,1368.1 1505.8,1372.4 1494.6,1376C1483.4,1379.6 1469.2,1383.9 1456.6,1387.5C1443.9,1391.1 1431.2,1394.5 1418.5,1397.7C1405.9,1400.8 1393.2,1404.5 1380.5,1406.6C1367.9,1408.7 1353.1,1411.5 1342.5,1410.4C1332,1409.3 1324.4,1405.5 1317.2,1400.2C1310,1394.9 1299.5,1384.7 1299.5,1378.5Z" fill="#c0c0ff"/>
<path d="M1661.8,1495.8C1661.8,1491.3 1671.7,1484.1 1678.3,1483.1C1684.8,1482 1697.9,1485.6 1701.1,1489.4C1704.3,1493.2 1701.1,1502.6 1697.3,1506C1693.5,1509.4 1684.2,1511.5 1678.3,1509.8C1672.4,1508.1 1661.8,1500.3 1661.8,1495.8Z" fill="#c0c0ff"/>
<path d="M1228.5,1439.7C1232.5,1439.7 1244.1,1436.3 1252.6,1439.7C1261,1443.1 1270.3,1454 1279.2,1460.1C1288,1466.3 1297.3,1470.5 1305.8,1476.7C1314.2,1482.8 1320.4,1491.4 1329.9,1497.1C1339.4,1502.7 1352.9,1506.6 1362.8,1510.5C1372.7,1514.3 1378.2,1515.3 1389.4,1520C1400.6,1524.7 1414.7,1534.2 1430,1538.5C1445.2,1542.7 1465,1545 1480.6,1545.5C1496.3,1546 1511.9,1540.8 1523.7,1541.7C1535.5,1542.5 1542.7,1545.9 1551.6,1550.6C1560.5,1555.3 1568.5,1563.3 1576.9,1569.7C1585.4,1576.1 1593.8,1583.5 1602.3,1588.8C1610.7,1594.1 1620.2,1599 1627.6,1601.6C1635,1604.1 1639.2,1604.8 1646.6,1604.1C1654,1603.5 1663.7,1600.5 1672,1597.8C1680.2,1595 1687.6,1589.3 1696,1587.6C1704.5,1585.9 1715.5,1586.3 1722.6,1587.6C1729.8,1588.8 1730.7,1596.1 1739.1,1595.2C1747.5,1594.4 1763.4,1585.2 1773.3,1582.5C1783.2,1579.7 1788.1,1580.8 1798.7,1578.6C1809.2,1576.5 1825,1572.9 1836.7,1569.7C1848.3,1566.5 1859.5,1562.5 1868.3,1559.5C1877.2,1556.6 1880.6,1555.9 1889.9,1551.9C1899.2,1547.8 1911.2,1537.9 1924.1,1535.3C1937,1532.8 1958.9,1534.4 1967.2,1536.6C1975.4,1538.8 1970.8,1549.5 1973.5,1548.7C1976.2,1547.8 1981.9,1536.7 1983.6,1531.5C1985.3,1526.3 1978.6,1519.6 1983.6,1517.5C1988.7,1515.3 2004.3,1518.3 2014,1518.7C2023.8,1519.2 2031.8,1521.4 2041.9,1520C2052,1518.6 2062.6,1511.5 2074.9,1510.5C2087.1,1509.4 2108.6,1513.1 2115.4,1513.6L2115.4,1880.6 L1228.5,1880.6 Z" fill="#ffc0c0"/>
<path d="M1222.2,1518.7C1226,1458.8 1240.5,1518.5 1245,1523.8C1249.4,1529.1 1249,1541.9 1248.8,1550.6C1248.6,1559.3 1242,1569.7 1243.7,1576.1C1245.4,1582.5 1256,1583.5 1258.9,1588.8C1261.9,1594.1 1261.9,1601.6 1261.4,1608C1261,1614.3 1256,1617.5 1256.4,1627.1C1256.8,1636.6 1260.6,1652.6 1264,1665.3C1267.4,1678.1 1272.8,1691.9 1276.6,1703.5C1280.4,1715.2 1283.6,1725.8 1286.8,1735.4C1289.9,1745 1291.9,1753.9 1295.7,1760.9C1299.5,1767.9 1303.9,1775.1 1309.6,1777.5C1315.3,1779.8 1323.7,1780 1329.9,1774.9C1336,1769.8 1343,1754.9 1346.3,1746.9C1349.7,1738.8 1351.4,1735.4 1350.1,1726.5C1348.9,1717.6 1339.4,1702.3 1338.7,1693.3C1338.1,1684.4 1342.3,1678.7 1346.3,1673C1350.3,1667.2 1355.6,1662.9 1362.8,1658.9C1370,1655 1380.5,1654.9 1389.4,1649.4C1398.3,1643.9 1406.9,1633.1 1416,1625.8C1425.1,1618.5 1438.2,1612.2 1443.9,1605.4C1449.6,1598.6 1444.1,1587.8 1450.2,1585C1456.3,1582.3 1472.8,1587.6 1480.6,1588.8C1488.4,1590.1 1492,1587.6 1497.1,1592.7C1502.2,1597.8 1505.4,1611.6 1511,1619.4C1516.6,1627.3 1525.8,1632 1530.7,1639.8C1535.5,1647.7 1534,1662.1 1540.2,1666.6C1546.4,1671 1561.7,1661.1 1568.1,1666.6C1574.4,1672.1 1575.4,1689.7 1578.2,1699.7C1580.9,1709.7 1584.5,1716.5 1584.5,1726.5C1584.5,1736.5 1581.6,1750.7 1578.2,1759.6C1574.8,1768.5 1569.7,1774.7 1564.3,1780C1558.8,1785.3 1549.5,1786.2 1545.2,1791.5C1541,1796.8 1536.8,1803.2 1538.9,1811.9C1541,1820.6 1552.6,1831.8 1557.9,1843.7C1563.2,1855.6 1626.5,1876.7 1570.6,1883.2C1514.6,1889.8 1280.2,1944 1222.2,1883.2C1164.1,1822.5 1218.4,1578.6 1222.2,1518.7Z" fill="#ff7878"/>
<path d="M1708.7,1652.6C1711.4,1647.7 1730.1,1643.6 1739.1,1639.8C1748.1,1636 1751.3,1632.2 1762.5,1629.6C1773.7,1627.1 1790.1,1624.5 1806.3,1624.5C1822.4,1624.5 1848.3,1627.5 1859.5,1629.6C1870.7,1631.7 1866.6,1634 1873.4,1637.3C1880.2,1640.6 1892.4,1650 1900,1649.4C1907.6,1648.7 1912.9,1638.4 1919,1633.4C1925.1,1628.5 1930.4,1620.1 1936.8,1619.4C1943.1,1618.8 1950.9,1629.2 1957,1629.6C1963.1,1630 1967.8,1620.5 1973.5,1622C1979.2,1623.5 1982.8,1638.5 1991.2,1638.5C1999.7,1638.5 2014.7,1622.4 2024.2,1622C2033.7,1621.5 2042.1,1636.2 2048.2,1636C2054.4,1635.8 2053.7,1622.4 2060.9,1620.7C2068.1,1619 2081,1625.6 2091.3,1625.8C2101.7,1626 2117.7,1579.1 2123,1622C2128.3,1664.9 2190.4,1839.7 2123,1883.2C2055.6,1926.8 1786,1888.8 1718.8,1883.2C1651.7,1877.7 1729,1854.8 1720.1,1850.1C1711.2,1845.4 1676.6,1861.8 1665.6,1855.2C1654.6,1848.6 1659.9,1821.9 1654.2,1810.6C1648.5,1799.3 1639.2,1796.2 1631.4,1787.7C1623.6,1779.2 1611.8,1769.8 1607.3,1759.6C1602.9,1749.4 1604.2,1735.4 1604.8,1726.5C1605.4,1717.6 1606.7,1708.3 1611.1,1706.1C1615.6,1703.9 1623.6,1708.6 1631.4,1713.1C1639.2,1717.6 1651.3,1727.9 1658,1732.9C1664.8,1737.8 1664.1,1742.8 1672,1743.1C1679.8,1743.3 1696,1740.3 1704.9,1734.1C1713.8,1728 1722.2,1716.9 1725.2,1706.1C1728.1,1695.3 1725.4,1678.1 1722.6,1669.1C1719.9,1660.2 1705.9,1657.4 1708.7,1652.6Z" fill="#ff7878"/>
<path d="M1721.4,1847.6C1727.1,1840.3 1741.6,1846.7 1753,1839.9C1764.4,1833.1 1778.2,1816.3 1789.8,1806.8C1801.4,1797.2 1812.2,1781.9 1822.7,1782.6C1833.3,1783.2 1850.8,1803.2 1853.1,1810.6C1855.5,1818 1837.3,1818.5 1836.7,1827.2C1836,1835.9 1849.8,1853.5 1849.3,1862.9C1848.9,1872.2 1855.9,1879.8 1834.1,1883.2C1812.4,1886.6 1737.6,1889.2 1718.8,1883.2C1700,1877.3 1715.7,1854.8 1721.4,1847.6Z" fill="#ffc0c0"/>
<path d="M1867.1,1638.5C1873.8,1632.5 1888.2,1638 1893.7,1639.8C1899.2,1641.6 1900,1642.2 1900,1649.4C1900,1656.6 1891.4,1675.4 1893.7,1683.2C1896,1690.9 1907.2,1689.7 1913.9,1695.9C1920.7,1702.1 1930.4,1711.6 1934.2,1720.1C1938,1728.6 1934,1737.4 1936.8,1746.9C1939.5,1756.3 1950.1,1767.9 1950.7,1776.8C1951.3,1785.7 1945.6,1793.7 1940.6,1800.4C1935.5,1807.1 1927,1815.9 1920.3,1817C1913.5,1818 1906.1,1811.8 1900,1806.8C1893.9,1801.8 1886.9,1798.1 1883.5,1787C1880.2,1776 1883.8,1752.3 1879.7,1740.5C1875.7,1728.7 1863.9,1727 1859.5,1716.3C1855,1705.6 1851.9,1689.1 1853.1,1676.1C1854.4,1663.2 1860.3,1644.6 1867.1,1638.5Z" fill="#ffc0c0"/>
<path d="M1312.1,1526.4C1317.4,1524.5 1331.1,1527.7 1342.5,1528.9C1353.9,1530.2 1369.3,1531.5 1380.5,1534C1391.7,1536.6 1407.6,1540 1409.7,1544.2C1411.8,1548.5 1399.1,1555.9 1393.2,1559.5C1387.3,1563.1 1381.6,1566.3 1374.2,1565.9C1366.8,1565.5 1357.3,1559.1 1348.9,1557C1340.4,1554.9 1329.9,1555.9 1323.5,1553.2C1317.2,1550.4 1312.8,1544.9 1310.9,1540.4C1309,1535.9 1306.8,1528.3 1312.1,1526.4Z" fill="#ff7878"/>
<path d="M1307.1,1595.2a6.3,6.4 0 1,0 12.7,0a6.3,6.4 0 1,0 -12.7,0ZM1353.9,1608a8.9,3.8 0 1,0 17.7,0a8.9,3.8 0 1,0 -17.7,0ZM1381.8,1608a6.3,3.8 0 1,0 12.7,0a6.3,3.8 0 1,0 -12.7,0ZM1327.3,1639.8a15.2,16.6 0 1,0 30.4,0a15.2,16.6 0 1,0 -30.4,0ZM1252.6,1559.5a7.6,15.3 0 1,0 15.2,0a7.6,15.3 0 1,0 -15.2,0Z" fill="#ff7878"/>
<path d="M1345.1,1781.3a17.7,29.3 0 1,0 35.5,0a17.7,29.3 0 1,0 -35.5,0ZM1525,1862.9a3.8,5.1 0 1,0 7.6,0a3.8,5.1 0 1,0 -7.6,0ZM1846.8,1843.7a3.8,6.4 0 1,0 7.6,0a3.8,6.4 0 1,0 -7.6,0ZM1946.9,1862.9a10.1,12.7 0 1,0 20.3,0a10.1,12.7 0 1,0 -20.3,0ZM1858.2,1869.2a35.5,10.2 0 1,0 71,0a35.5,10.2 0 1,0 -71,0ZM1545.2,1831a16.5,25.5 0 1,0 32.9,0a16.5,25.5 0 1,0 -32.9,0Z" fill="#ffc0c0"/>
<path d="M1253.8,1365.5h25.3v13.3h-25.3ZM1241.2,1378.2h50.7v13.3h-50.7ZM1532.6,1378.2h63.4v13.3h-63.4ZM1241.2,1391h50.7v13.3h-50.7ZM1443.9,1391h50.7v13.3h-50.7ZM1532.6,1391h88.7v13.3h-88.7ZM1241.2,1403.7h266.1v13.3h-266.1ZM1570.6,1403.7h50.7v13.3h-50.7ZM1279.2,1416.5h354.8v13.3h-354.8ZM1285.5,1429.2h348.4v13.3h-348.4ZM1298.2,1442h348.4v13.3h-348.4ZM1310.9,1454.7h335.8v13.3h-335.8ZM1323.5,1467.5h323.1v13.3h-323.1ZM1342.5,1480.2h190v13.3h-190ZM1564.3,1480.2h57v13.3h-57ZM1367.9,1493h152v13.3h-152ZM1583.3,1493h50.7v13.3h-50.7ZM1393.2,1505.7h120.4v13.3h-120.4ZM1583.3,1505.7h50.7v13.3h-50.7ZM1418.5,1518.4h88.7v13.3h-88.7Z" fill="#d9d9d9"/>
<path d="M1228.5,1439.7C1232.5,1439.7 1244.1,1436.3 1252.6,1439.7C1261,1443.1 1270.3,1454 1279.2,1460.1C1288,1466.3 1297.3,1470.5 1305.8,1476.7C1314.2,1482.8 1320.4,1491.4 1329.9,1497.1C1339.4,1502.7 1352.9,1506.6 1362.8,1510.5C1372.7,1514.3 1378.2,1515.3 1389.4,1520C1400.6,1524.7 1414.7,1534.2 1430,1538.5C1445.2,1542.7 1465,1545 1480.6,1545.5C1496.3,1546 1511.9,1540.8 1523.7,1541.7C1535.5,1542.5 1546.9,1549.1 1551.6,1550.6" fill="none" stroke="#000" stroke-width="8.5" stroke-linecap="round" stroke-linejoin="round"/>
<path d="M1646.6,1604.1C1650.8,1603.1 1663.7,1600.5 1672,1597.8C1680.2,1595 1687.6,1589.3 1696,1587.6C1704.5,1585.9 1715.5,1586.3 1722.6,1587.6C1729.8,1588.8 1730.7,1596.1 1739.1,1595.2C1747.5,1594.4 1763.4,1585.2 1773.3,1582.5C1783.2,1579.7 1794.4,1579.3 1798.7,1578.6" fill="none" stroke="#000" stroke-width="8.5" stroke-linecap="round" stroke-linejoin="round"/>
<path d="M1889.9,1551.9C1895.6,1549.1 1911.2,1537.9 1924.1,1535.3C1937,1532.8 1958.9,1534.4 1967.2,1536.6C1975.4,1538.8 1970.8,1549.5 1973.5,1548.7C1976.2,1547.8 1981.9,1536.7 1983.6,1531.5C1985.3,1526.3 1978.6,1519.6 1983.6,1517.5C1988.7,1515.3 2004.3,1518.3 2014,1518.7C2023.8,1519.2 2031.8,1521.4 2041.9,1520C2052,1518.6 2062.6,1511.5 2074.9,1510.5C2087.1,1509.4 2108.6,1513.1 2115.4,1513.6" fill="none" stroke="#000" stroke-width="8.5" stroke-linecap="round" stroke-linejoin="round"/>
<path d="M1523.7,1541.7C1526.2,1540 1533.2,1531.7 1538.9,1531.5C1544.6,1531.3 1556.9,1536.2 1557.9,1540.4C1559,1544.7 1549.9,1553.4 1545.2,1557C1540.6,1560.6 1532.6,1561.2 1530,1562.1" fill="none" stroke="#000" stroke-width="3" stroke-linecap="round"/>
<path d="M1511.9,1582.5a8,8 0 1,0 16,0a8,8 0 1,0 -16,0ZM1636.3,1620.7a9,9 0 1,0 18,0a9,9 0 1,0 -18,0ZM1866.7,1576.1a8,8 0 1,0 16,0a8,8 0 1,0 -16,0Z" fill="#000"/>
<use href="#coast" x="1228.5" y="1875.6"/>
<text class="ct" style="font-size:62px" transform="translate(1602.3,1574.8) rotate(-58)" x="0" y="22.3">14</text>
<text class="ct" style="font-size:62px" transform="translate(1841.7,1565.9) rotate(-32)" x="0" y="22.3">14</text>
</g>
<line x1="1228.5" y1="1174.6" x2="1228.5" y2="1161.6" stroke="#000" stroke-width="3"/>
<line x1="1228.5" y1="1875.6" x2="1228.5" y2="1888.6" stroke="#000" stroke-width="3"/>
<line x1="1355.2" y1="1174.6" x2="1355.2" y2="1161.6" stroke="#000" stroke-width="3"/>
<line x1="1355.2" y1="1875.6" x2="1355.2" y2="1888.6" stroke="#000" stroke-width="3"/>
<line x1="1481.9" y1="1174.6" x2="1481.9" y2="1148.6" stroke="#000" stroke-width="5"/>
<line x1="1481.9" y1="1875.6" x2="1481.9" y2="1901.6" stroke="#000" stroke-width="5"/>
<line x1="1608.6" y1="1174.6" x2="1608.6" y2="1161.6" stroke="#000" stroke-width="3"/>
<line x1="1608.6" y1="1875.6" x2="1608.6" y2="1888.6" stroke="#000" stroke-width="3"/>
<line x1="1735.3" y1="1174.6" x2="1735.3" y2="1161.6" stroke="#000" stroke-width="3"/>
<line x1="1735.3" y1="1875.6" x2="1735.3" y2="1888.6" stroke="#000" stroke-width="3"/>
<line x1="1862" y1="1174.6" x2="1862" y2="1148.6" stroke="#000" stroke-width="5"/>
<line x1="1862" y1="1875.6" x2="1862" y2="1901.6" stroke="#000" stroke-width="5"/>
<line x1="1988.7" y1="1174.6" x2="1988.7" y2="1161.6" stroke="#000" stroke-width="3"/>
<line x1="1988.7" y1="1875.6" x2="1988.7" y2="1888.6" stroke="#000" stroke-width="3"/>
<line x1="2115.4" y1="1174.6" x2="2115.4" y2="1161.6" stroke="#000" stroke-width="3"/>
<line x1="2115.4" y1="1875.6" x2="2115.4" y2="1888.6" stroke="#000" stroke-width="3"/>
<line x1="1228.5" y1="1875.6" x2="1201.5" y2="1875.6" stroke="#000" stroke-width="5"/>
<line x1="2115.4" y1="1875.6" x2="2142.4" y2="1875.6" stroke="#000" stroke-width="5"/>
<line x1="1228.5" y1="1811.9" x2="1214.5" y2="1811.9" stroke="#000" stroke-width="3"/>
<line x1="2115.4" y1="1811.9" x2="2129.4" y2="1811.9" stroke="#000" stroke-width="3"/>
<line x1="1228.5" y1="1748.1" x2="1214.5" y2="1748.1" stroke="#000" stroke-width="3"/>
<line x1="2115.4" y1="1748.1" x2="2129.4" y2="1748.1" stroke="#000" stroke-width="3"/>
<line x1="1228.5" y1="1684.4" x2="1214.5" y2="1684.4" stroke="#000" stroke-width="3"/>
<line x1="2115.4" y1="1684.4" x2="2129.4" y2="1684.4" stroke="#000" stroke-width="3"/>
<line x1="1228.5" y1="1620.7" x2="1201.5" y2="1620.7" stroke="#000" stroke-width="5"/>
<line x1="2115.4" y1="1620.7" x2="2142.4" y2="1620.7" stroke="#000" stroke-width="5"/>
<line x1="1228.5" y1="1557" x2="1214.5" y2="1557" stroke="#000" stroke-width="3"/>
<line x1="2115.4" y1="1557" x2="2129.4" y2="1557" stroke="#000" stroke-width="3"/>
<line x1="1228.5" y1="1493.2" x2="1214.5" y2="1493.2" stroke="#000" stroke-width="3"/>
<line x1="2115.4" y1="1493.2" x2="2129.4" y2="1493.2" stroke="#000" stroke-width="3"/>
<line x1="1228.5" y1="1429.5" x2="1214.5" y2="1429.5" stroke="#000" stroke-width="3"/>
<line x1="2115.4" y1="1429.5" x2="2129.4" y2="1429.5" stroke="#000" stroke-width="3"/>
<line x1="1228.5" y1="1365.8" x2="1201.5" y2="1365.8" stroke="#000" stroke-width="5"/>
<line x1="2115.4" y1="1365.8" x2="2142.4" y2="1365.8" stroke="#000" stroke-width="5"/>
<line x1="1228.5" y1="1302.1" x2="1214.5" y2="1302.1" stroke="#000" stroke-width="3"/>
<line x1="2115.4" y1="1302.1" x2="2129.4" y2="1302.1" stroke="#000" stroke-width="3"/>
<line x1="1228.5" y1="1238.3" x2="1214.5" y2="1238.3" stroke="#000" stroke-width="3"/>
<line x1="2115.4" y1="1238.3" x2="2129.4" y2="1238.3" stroke="#000" stroke-width="3"/>
<line x1="1228.5" y1="1174.6" x2="1214.5" y2="1174.6" stroke="#000" stroke-width="3"/>
<line x1="2115.4" y1="1174.6" x2="2129.4" y2="1174.6" stroke="#000" stroke-width="3"/>
<rect x="1228.5" y="1174.6" width="886.9" height="701" fill="none" stroke="#000" stroke-width="6"/>
<text class="yl" x="1170.5" y="1382.3">40N</text>
<text class="yl" x="1170.5" y="1637.2">20N</text>
<text class="yl" x="1170.5" y="1892.1">0</text>
<text class="xl" x="1481.9" y="1951.1">90E</text>
<text class="xl" x="1862" y="1951.1">120E</text>
<text class="tt" x="1670" y="1128.1">(d) Fc</text>
<path d="M1299.8,1968.8 L1239.5,2000.8 L1299.8,2032.8 Z" fill="#000078"/>
<rect x="1299.5" y="1968.8" width="62.8" height="64" fill="#0000a0" shape-rendering="crispEdges"/>
<rect x="1361.7" y="1968.8" width="62.8" height="64" fill="#0000c8" shape-rendering="crispEdges"/>
<rect x="1423.8" y="1968.8" width="62.8" height="64" fill="#0000f0" shape-rendering="crispEdges"/>
<rect x="1486" y="1968.8" width="62.8" height="64" fill="#2828ff" shape-rendering="crispEdges"/>
<rect x="1548.1" y="1968.8" width="62.8" height="64" fill="#7878ff" shape-rendering="crispEdges"/>
<rect x="1610.3" y="1968.8" width="62.8" height="64" fill="#c0c0ff" shape-rendering="crispEdges"/>
<rect x="1672.5" y="1968.8" width="62.8" height="64" fill="#ffc0c0" shape-rendering="crispEdges"/>
<rect x="1734.6" y="1968.8" width="62.8" height="64" fill="#ff7878" shape-rendering="crispEdges"/>
<rect x="1796.8" y="1968.8" width="62.8" height="64" fill="#ff2828" shape-rendering="crispEdges"/>
<rect x="1858.9" y="1968.8" width="62.8" height="64" fill="#f00000" shape-rendering="crispEdges"/>
<rect x="1921.1" y="1968.8" width="62.8" height="64" fill="#c80000" shape-rendering="crispEdges"/>
<rect x="1983.2" y="1968.8" width="62.8" height="64" fill="#a00000" shape-rendering="crispEdges"/>
<path d="M2045.1,1968.8 L2105.4,2000.8 L2045.1,2032.8 Z" fill="#780000"/>
<text class="cl" x="1301.4" y="2077.5">−16</text>
<text class="cl" x="1425.7" y="2077.5">−6</text>
<text class="cl" x="1550" y="2077.5">4</text>
<text class="cl" x="1674.4" y="2077.5">14</text>
<text class="cl" x="1798.7" y="2077.5">24</text>
<text class="cl" x="1923" y="2077.5">34</text>
<text class="cl" x="2047.3" y="2077.5">44</text>
</g>
<g id="panel-e">
<g clip-path="url(#clip-e)">
<rect x="155.2" y="2235.4" width="890.9" height="705" fill="#7878ff"/>
<path d="M157.2,2963.9L1044.1,2963.9L1044.1,2943.4 L157.2,2943.4 Z" fill="#2828ff"/>
<path d="M378.9,2211.9C380.6,2216.6 383.8,2231.5 389.1,2240C394.3,2248.5 403.8,2262.3 410.6,2262.9C417.4,2263.6 424.3,2243.8 429.6,2243.8C434.9,2243.8 438.1,2263.6 442.3,2262.9C446.5,2262.3 449.7,2243.4 454.9,2240C460.2,2236.6 466.6,2240.8 473.9,2242.5C481.3,2244.2 490.8,2245.7 499.3,2250.2C507.7,2254.6 517.2,2264.6 524.6,2269.3C532,2274 539.4,2280.3 543.6,2278.2C547.9,2276.1 545.7,2259.5 550,2256.5C554.2,2253.6 562.6,2257.2 569,2260.4C575.3,2263.6 582.7,2272.3 588,2275.7C593.3,2279.1 595.2,2277.6 600.6,2280.8C606.1,2283.9 611.4,2293.1 620.9,2294.8C630.4,2296.5 646.5,2290.5 657.7,2291C668.9,2291.4 680.7,2292.2 688.1,2297.3C695.5,2302.4 694.2,2317 702,2321.5C709.8,2326.1 722.7,2326 735,2324.7C747.2,2323.5 765.4,2318.5 775.5,2313.9C785.6,2309.3 790.3,2295.5 795.8,2297.3C801.3,2299.1 802.9,2316.2 808.4,2324.7C813.9,2333.2 822,2343.3 828.7,2348.3C835.5,2353.3 842.2,2357 849,2354.7C855.7,2352.3 862.5,2339.8 869.3,2334.3C876,2328.8 882.3,2321.5 889.5,2321.5C896.7,2321.5 904.5,2329.8 912.3,2334.3C920.1,2338.7 929,2347.7 936.4,2348.3C943.8,2348.9 948.2,2340.4 956.7,2338.1C965.1,2335.8 979.3,2336 987.1,2334.3C994.9,2332.6 998.1,2325.6 1003.6,2327.9C1009,2330.3 1015,2339.4 1020,2348.3C1025.1,2357.2 1030,2373.6 1034,2381.4C1038,2389.3 1040.3,2391.9 1044.1,2395.5C1047.9,2399.1 1054.7,2401.8 1056.8,2403.1L1056.8,2232.4 L378.9,2232.4 Z" fill="#2828ff"/>
<path d="M157.2,2371.2C159.3,2373.4 164.6,2384 169.9,2384C175.1,2384 181.5,2375.1 188.9,2371.2C196.3,2367.4 206.8,2357.9 214.2,2361.1C221.6,2364.2 227.9,2383.4 233.2,2390.4C238.5,2397.4 246.9,2398.9 245.9,2403.1C244.8,2407.4 226.9,2413.1 226.9,2415.9C226.9,2418.6 235.1,2420.7 245.9,2419.7C256.7,2418.6 272.5,2411.8 291.5,2409.5C310.5,2407.1 333.7,2407.4 359.9,2405.7C386.1,2404 429.6,2398.2 448.6,2399.3C467.6,2400.3 463.4,2411.4 473.9,2412C484.5,2412.7 499.3,2401.4 512,2403.1C524.6,2404.8 541.5,2416.9 550,2422.2C558.4,2427.5 557.4,2438.2 562.6,2435C567.9,2431.8 575.3,2408 581.6,2403.1C588,2398.2 594.7,2402.5 600.6,2405.7C606.6,2408.8 608.7,2421.8 617.1,2422.2C625.6,2422.7 640.1,2408.8 651.3,2408.2C662.5,2407.6 672,2418.8 684.3,2418.4C696.5,2418 716.4,2405.7 724.8,2405.7C733.3,2405.7 730.5,2410.5 735,2418.4C739.4,2426.3 744.7,2445 751.4,2452.8C758.2,2460.7 767,2465.1 775.5,2465.6C783.9,2466 794.3,2458.8 802.1,2455.4C809.9,2452 813.5,2446.2 822.4,2445.2C831.2,2444.1 845.8,2446.7 855.3,2449C864.8,2451.3 871.6,2455.4 879.4,2459.2C887.2,2463 895,2471.9 902.2,2471.9C909.4,2471.9 914,2463 922.5,2459.2C930.9,2455.4 942.1,2450.1 952.9,2449C963.6,2447.9 976.9,2451.1 987.1,2452.8C997.2,2454.5 1007.6,2460.5 1013.7,2459.2C1019.8,2457.9 1018.8,2448.1 1023.8,2445.2C1028.9,2442.2 1040.7,2442 1044.1,2441.3L1044.1,2943.4 L157.2,2943.4 Z" fill="#c0c0ff"/>
<path d="M150.9,2415.9C156.1,2404.8 173,2425 182.5,2426.1C192,2427.1 202,2420.1 207.9,2422.2C213.8,2424.4 213.8,2432 218,2438.8C222.2,2445.6 226.5,2456.2 233.2,2463C240,2469.8 250.1,2475.8 258.6,2479.6C267,2483.4 270,2487 283.9,2486C297.8,2484.9 324.2,2478.5 342.2,2473.2C360.1,2467.9 376.6,2453 391.6,2454.1C406.6,2455.2 415.2,2474.3 432.1,2479.6C449,2484.9 477.5,2486.6 493,2486C508.4,2485.3 518.3,2474.7 524.6,2475.8C531,2476.8 539,2485.1 531,2492.3C522.9,2499.5 490.2,2516.8 476.5,2519.1C462.8,2521.4 462.8,2505.7 448.6,2506.3C434.5,2507 411,2521.2 391.6,2522.9C372.2,2524.6 347.9,2515.9 332,2516.5C316.2,2517.2 306.7,2521.2 296.6,2526.7C286.4,2532.3 283.9,2550.1 271.2,2549.7C258.6,2549.3 240.6,2533.7 220.5,2524.2C200.5,2514.6 162.5,2510.4 150.9,2492.3C139.3,2474.3 145.6,2426.9 150.9,2415.9Z" fill="#7878ff"/>
<path d="M446.1,2437.5C448.2,2433.3 463,2435 473.9,2435C484.9,2435 501.4,2435 512,2437.5C522.5,2440.1 536.2,2445.4 537.3,2450.3C538.4,2455.2 526.7,2463.2 518.3,2466.8C509.8,2470.4 496.1,2473 486.6,2471.9C477.1,2470.9 468,2466.2 461.3,2460.5C454.5,2454.7 444,2441.8 446.1,2437.5Z" fill="#7878ff"/>
<path d="M717.2,2454.1a10.1,12.7 0 1,0 20.3,0a10.1,12.7 0 1,0 -20.3,0ZM756.5,2464.3a8.9,10.2 0 1,0 17.7,0a8.9,10.2 0 1,0 -17.7,0ZM932.6,2466.8a10.1,8.9 0 1,0 20.3,0a10.1,8.9 0 1,0 -20.3,0ZM908.5,2479.6a8.9,8.9 0 1,0 17.7,0a8.9,8.9 0 1,0 -17.7,0ZM176.2,2399.3a12.7,7.6 0 1,0 25.3,0a12.7,7.6 0 1,0 -25.3,0Z" fill="#7878ff"/>
<path d="M171.1,2362.3a5.1,7.6 0 1,0 10.1,0a5.1,7.6 0 1,0 -10.1,0ZM252.2,2371.2a6.3,15.3 0 1,0 12.7,0a6.3,15.3 0 1,0 -12.7,0ZM292.8,2382.7a10.1,8.9 0 1,0 20.3,0a10.1,8.9 0 1,0 -20.3,0ZM162.3,2330.5a11.4,6.4 0 1,0 22.8,0a11.4,6.4 0 1,0 -22.8,0Z" fill="#c0c0ff"/>
<path d="M157.2,2499.3C162.7,2500.5 179,2501.4 190.1,2506.3C201.3,2511.3 212.9,2522.1 224.4,2529.3C235.8,2536.5 245.7,2542.9 258.6,2549.7C271.4,2556.5 287.3,2564.5 301.6,2570.1C316,2575.6 330.8,2579.4 344.7,2582.8C358.7,2586.2 370.1,2590.2 385.3,2590.5C400.5,2590.7 421.4,2587.5 435.9,2584.1C450.5,2580.7 460.4,2570.3 472.7,2570.1C484.9,2569.9 497.6,2581.1 509.4,2582.8C521.3,2584.5 535.2,2584.7 543.6,2580.3C552.1,2575.8 554,2565.6 560.1,2556.1C566.2,2546.5 575.9,2533.5 580.4,2522.9C584.8,2512.3 584.4,2498.7 586.7,2492.3C589,2486 592,2484 594.3,2484.7C596.6,2485.3 592.8,2492.1 600.6,2496.1C608.5,2500.2 625.6,2506.8 641.2,2508.9C656.8,2511 681.5,2507.2 694.4,2508.9C707.3,2510.6 710,2517.8 718.5,2519.1C726.9,2520.4 738.3,2514.2 745.1,2516.5C751.8,2518.9 752.9,2532.7 759,2533.1C765.1,2533.5 774.7,2520.3 781.8,2519.1C789,2517.9 795.3,2523.8 802.1,2526.1C808.9,2528.4 815.6,2533.6 822.4,2533.1C829.1,2532.6 831,2524.6 842.6,2522.9C854.3,2521.2 877.1,2522.9 892.1,2522.9C907.1,2522.9 922.5,2524.6 932.6,2522.9C942.7,2521.2 946.8,2512.7 952.9,2512.7C959,2512.7 962.6,2521.9 969.3,2522.9C976.1,2524 986,2521.9 993.4,2519.1C1000.8,2516.3 1005.2,2507.4 1013.7,2506.3C1022.1,2505.3 1039,2511.7 1044.1,2512.7L1044.1,2943.4 L157.2,2943.4 Z" fill="#ffc0c0"/>
<path d="M238.3,2454.1C240.4,2449.8 251,2442.6 258.6,2441.3C266.2,2440.1 275.5,2444.3 283.9,2446.4C292.3,2448.6 300.2,2455.6 309.2,2454.1C318.3,2452.6 333.1,2435.4 338.4,2437.5C343.7,2439.6 345.8,2461.1 340.9,2466.8C336.1,2472.6 318.7,2469.8 309.2,2471.9C299.7,2474.1 294.5,2480.4 283.9,2479.6C273.3,2478.7 253.5,2471.1 245.9,2466.8C238.3,2462.6 236.2,2458.3 238.3,2454.1Z" fill="#ffc0c0"/>
<path d="M157.2,2561.1C161.4,2560.3 172,2556.5 182.5,2556.1C193.1,2555.6 207.9,2555.6 220.5,2558.6C233.2,2561.6 248,2568.6 258.6,2573.9C269.1,2579.2 275.5,2586 283.9,2590.5C292.3,2594.9 288.1,2598.3 309.2,2600.7C330.4,2603 378.9,2604.5 410.6,2604.5C442.3,2604.5 476.1,2599.8 499.3,2600.7C522.5,2601.5 537.3,2610.6 550,2609.6C562.6,2608.5 566.9,2602.1 575.3,2594.3C583.8,2586.4 590.1,2567.3 600.6,2562.4C611.2,2557.5 626,2562.8 638.7,2565C651.3,2567.1 666.1,2570.3 676.7,2575.2C687.2,2580.1 696.3,2589 702,2594.3C707.7,2599.6 704.5,2606.2 710.9,2607C717.2,2607.9 728.8,2600.4 740,2599.4C751.2,2598.3 765.4,2598.5 778,2600.7C790.7,2602.8 803.4,2609.6 816,2612.1C828.7,2614.7 842.4,2616.8 854,2616C865.7,2615.1 875.2,2607.5 885.7,2607C896.3,2606.6 906.8,2611.3 917.4,2613.4C928,2615.5 938.5,2618.3 949.1,2619.8C959.6,2621.3 970.2,2623.6 980.8,2622.3C991.3,2621 1001.9,2614.7 1012.4,2612.1C1023,2609.6 1038.8,2607.9 1044.1,2607L1044.1,2943.4 L157.2,2943.4 Z" fill="#ff7878"/>
<path d="M157.2,2696.2C161.4,2687.7 176.2,2697.3 182.5,2702.6C188.9,2707.9 190.6,2719.6 195.2,2728.1C199.9,2736.6 207,2744 210.4,2753.6C213.8,2763.2 217,2777.2 215.5,2785.5C214,2793.7 207,2801.2 201.5,2803.3C196.1,2805.4 187.8,2803.3 182.5,2798.2C177.3,2793.1 174.1,2780.1 169.9,2772.7C165.6,2765.3 159.3,2766.3 157.2,2753.6C155.1,2740.9 153,2704.7 157.2,2696.2Z" fill="#ff2828"/>
<path d="M228.2,2698.8C230.3,2691.1 242.1,2696.5 245.9,2701.3C249.7,2706.2 246.7,2721.5 251,2728.1C255.2,2734.7 265.7,2743 271.2,2740.9C276.7,2738.7 277.6,2722.8 283.9,2715.4C290.2,2707.9 301.8,2696.2 309.2,2696.2C316.6,2696.2 327.2,2708.1 328.2,2715.4C329.3,2722.6 311.4,2736.4 315.6,2739.6C319.8,2742.8 352.5,2732.1 353.6,2734.5C354.6,2736.8 324.4,2747.2 321.9,2753.6C319.4,2760 340.5,2766.3 338.4,2772.7C336.3,2779.1 318.3,2788.9 309.2,2791.8C300.2,2794.8 287.7,2795.9 283.9,2790.6C280.1,2785.2 291.7,2764.6 286.4,2760C281.2,2755.3 261.1,2764.6 252.2,2762.5C243.4,2760.4 237.2,2757.8 233.2,2747.2C229.2,2736.6 226,2706.4 228.2,2698.8Z" fill="#ff2828"/>
<path d="M176.2,2831.3a17.7,11.5 0 1,0 35.5,0a17.7,11.5 0 1,0 -35.5,0ZM362.5,2683.5a11.4,29.3 0 1,0 22.8,0a11.4,29.3 0 1,0 -22.8,0ZM385.3,2714.1a15.2,11.5 0 1,0 30.4,0a15.2,11.5 0 1,0 -30.4,0ZM397.9,2775.3a13.9,14 0 1,0 27.9,0a13.9,14 0 1,0 -27.9,0ZM318.1,2809.7a10.1,14 0 1,0 20.3,0a10.1,14 0 1,0 -20.3,0ZM451.1,2740.9a7.6,11.5 0 1,0 15.2,0a7.6,11.5 0 1,0 -15.2,0ZM556.3,2673.3a22.8,34.4 0 1,0 45.6,0a22.8,34.4 0 1,0 -45.6,0ZM593,2747.2a5.1,10.2 0 1,0 10.1,0a5.1,10.2 0 1,0 -10.1,0ZM247.2,2782.9a7.6,7.6 0 1,0 15.2,0a7.6,7.6 0 1,0 -15.2,0ZM596.8,2664.4a10.1,17.8 0 1,0 20.3,0a10.1,17.8 0 1,0 -20.3,0ZM632.3,2683.5a12.7,22.9 0 1,0 25.3,0a12.7,22.9 0 1,0 -25.3,0ZM648.8,2728.1a15.2,10.2 0 1,0 30.4,0a15.2,10.2 0 1,0 -30.4,0ZM717.2,2697.5a8.9,7.6 0 1,0 17.7,0a8.9,7.6 0 1,0 -17.7,0ZM757.8,2696.2a7.6,7.6 0 1,0 15.2,0a7.6,7.6 0 1,0 -15.2,0ZM795.8,2873.4a6.3,6.4 0 1,0 12.7,0a6.3,6.4 0 1,0 -12.7,0ZM1013.1,2700.1a5.7,11.5 0 1,0 11.4,0a5.7,11.5 0 1,0 -11.4,0ZM707.1,2664.4a5.1,7.6 0 1,0 10.1,0a5.1,7.6 0 1,0 -10.1,0ZM177.5,2658a5.1,3.8 0 1,0 10.1,0a5.1,3.8 0 1,0 -10.1,0ZM310.5,2670.8a5.1,5.1 0 1,0 10.1,0a5.1,5.1 0 1,0 -10.1,0ZM862.9,2719.2a3.8,6.4 0 1,0 7.6,0a3.8,6.4 0 1,0 -7.6,0Z" fill="#ff2828"/>
<path d="M163.5,2728.1a8.9,12.7 0 1,0 17.7,0a8.9,12.7 0 1,0 -17.7,0ZM172.4,2760a6.3,6.4 0 1,0 12.7,0a6.3,6.4 0 1,0 -12.7,0ZM643.7,2696.2a12.7,19.1 0 1,0 25.3,0a12.7,19.1 0 1,0 -25.3,0Z" fill="#ff7878"/>
<path d="M438.5,2890a7.6,12.7 0 1,0 15.2,0a7.6,12.7 0 1,0 -15.2,0ZM477.8,2811a5.1,8.9 0 1,0 10.1,0a5.1,8.9 0 1,0 -10.1,0ZM553.8,2817.3a6.3,10.2 0 1,0 12.7,0a6.3,10.2 0 1,0 -12.7,0ZM338.4,2909.1a5.1,7.6 0 1,0 10.1,0a5.1,7.6 0 1,0 -10.1,0ZM328.2,2873.4a3.8,6.4 0 1,0 7.6,0a3.8,6.4 0 1,0 -7.6,0ZM582.9,2884.9a5.1,12.7 0 1,0 10.1,0a5.1,12.7 0 1,0 -10.1,0ZM394.8,2858.1a3.2,5.1 0 1,0 6.3,0a3.2,5.1 0 1,0 -6.3,0ZM432.8,2858.1a3.2,5.1 0 1,0 6.3,0a3.2,5.1 0 1,0 -6.3,0ZM214.8,2861.9a3.2,4.5 0 1,0 6.3,0a3.2,4.5 0 1,0 -6.3,0ZM293.4,2869.6a3.2,5.1 0 1,0 6.3,0a3.2,5.1 0 1,0 -6.3,0ZM496.1,2839a3.2,5.1 0 1,0 6.3,0a3.2,5.1 0 1,0 -6.3,0ZM481.6,2900.2a5.1,7.6 0 1,0 10.1,0a5.1,7.6 0 1,0 -10.1,0ZM607,2858.1a6.3,11.5 0 1,0 12.7,0a6.3,11.5 0 1,0 -12.7,0ZM619.7,2895.1a8.9,10.2 0 1,0 17.7,0a8.9,10.2 0 1,0 -17.7,0ZM656.4,2895.1a7.6,11.5 0 1,0 15.2,0a7.6,11.5 0 1,0 -15.2,0ZM695.7,2805.9a5.1,8.9 0 1,0 10.1,0a5.1,8.9 0 1,0 -10.1,0ZM684.3,2772.7a5.1,6.4 0 1,0 10.1,0a5.1,6.4 0 1,0 -10.1,0ZM735.6,2721.7a4.4,6.4 0 1,0 8.9,0a4.4,6.4 0 1,0 -8.9,0ZM748.3,2747.2a4.4,6.4 0 1,0 8.9,0a4.4,6.4 0 1,0 -8.9,0ZM784.4,2849.2a6.3,7.6 0 1,0 12.7,0a6.3,7.6 0 1,0 -12.7,0ZM771.7,2904a6.3,11.5 0 1,0 12.7,0a6.3,11.5 0 1,0 -12.7,0ZM836.3,2886.1a5.1,7.6 0 1,0 10.1,0a5.1,7.6 0 1,0 -10.1,0ZM863.6,2677.1a3.2,7.6 0 1,0 6.3,0a3.2,7.6 0 1,0 -6.3,0ZM912.3,2630a5.1,8.9 0 1,0 10.1,0a5.1,8.9 0 1,0 -10.1,0ZM947.8,2632.5a7.6,10.2 0 1,0 15.2,0a7.6,10.2 0 1,0 -15.2,0ZM963,2668.2a5.1,6.4 0 1,0 10.1,0a5.1,6.4 0 1,0 -10.1,0ZM1002.9,2664.4a3.2,8.9 0 1,0 6.3,0a3.2,8.9 0 1,0 -6.3,0ZM937.7,2693.7a5.1,5.1 0 1,0 10.1,0a5.1,5.1 0 1,0 -10.1,0ZM988.4,2728.1a5.1,8.9 0 1,0 10.1,0a5.1,8.9 0 1,0 -10.1,0ZM1027.6,2734.5a3.8,5.1 0 1,0 7.6,0a3.8,5.1 0 1,0 -7.6,0ZM876.2,2804.6a3.2,7.6 0 1,0 6.3,0a3.2,7.6 0 1,0 -6.3,0ZM897.1,2861.9a5.1,6.4 0 1,0 10.1,0a5.1,6.4 0 1,0 -10.1,0ZM963,2842.8a5.1,8.9 0 1,0 10.1,0a5.1,8.9 0 1,0 -10.1,0ZM1002.3,2849.2a3.8,5.1 0 1,0 7.6,0a3.8,5.1 0 1,0 -7.6,0ZM1027.6,2823.7a3.8,8.9 0 1,0 7.6,0a3.8,8.9 0 1,0 -7.6,0ZM950.3,2900.2a5.1,7.6 0 1,0 10.1,0a5.1,7.6 0 1,0 -10.1,0ZM989.6,2906.5a3.8,6.4 0 1,0 7.6,0a3.8,6.4 0 1,0 -7.6,0ZM926.3,2932a3.8,7.6 0 1,0 7.6,0a3.8,7.6 0 1,0 -7.6,0ZM696.9,2836.4a5.1,6.4 0 1,0 10.1,0a5.1,6.4 0 1,0 -10.1,0ZM737.5,2919.3a2.5,6.4 0 1,0 5.1,0a2.5,6.4 0 1,0 -5.1,0ZM717.2,2867a3.8,5.1 0 1,0 7.6,0a3.8,5.1 0 1,0 -7.6,0ZM1027.6,2645.3a3.8,5.1 0 1,0 7.6,0a3.8,5.1 0 1,0 -7.6,0ZM952.9,2811a2.5,3.8 0 1,0 5.1,0a2.5,3.8 0 1,0 -5.1,0ZM990.9,2811a2.5,6.4 0 1,0 5.1,0a2.5,6.4 0 1,0 -5.1,0ZM914.9,2715.4a2.5,5.1 0 1,0 5.1,0a2.5,5.1 0 1,0 -5.1,0ZM642.5,2760a2.5,3.8 0 1,0 5.1,0a2.5,3.8 0 1,0 -5.1,0ZM683,2753.6a3.8,5.1 0 1,0 7.6,0a3.8,5.1 0 1,0 -7.6,0Z" fill="#ffc0c0"/>
<path d="M157.2,2499.3C162.7,2500.5 179,2501.4 190.1,2506.3C201.3,2511.3 212.9,2522.1 224.4,2529.3C235.8,2536.5 245.7,2542.9 258.6,2549.7C271.4,2556.5 287.3,2564.5 301.6,2570.1C316,2575.6 337.5,2580.7 344.7,2582.8" fill="none" stroke="#000" stroke-width="8.5" stroke-linecap="round" stroke-linejoin="round"/>
<path d="M472.7,2570.1C478.8,2572.2 497.6,2581.1 509.4,2582.8C521.3,2584.5 535.2,2584.7 543.6,2580.3C552.1,2575.8 554,2565.6 560.1,2556.1C566.2,2546.5 575.9,2533.5 580.4,2522.9C584.8,2512.3 584.4,2498.7 586.7,2492.3C589,2486 592,2484 594.3,2484.7C596.6,2485.3 599.6,2494.2 600.6,2496.1" fill="none" stroke="#000" stroke-width="8.5" stroke-linecap="round" stroke-linejoin="round"/>
<path d="M600.6,2496.1C603.8,2497.2 612.9,2500.2 619.7,2502.5C626.4,2504.9 637.6,2508.9 641.2,2510.2" fill="none" stroke="#000" stroke-width="8.5" stroke-linecap="round" stroke-linejoin="round"/>
<path d="M694.4,2508.9C698.4,2510.6 710,2517.8 718.5,2519.1C726.9,2520.4 738.3,2514.2 745.1,2516.5C751.8,2518.9 752.9,2532.7 759,2533.1C765.1,2533.5 774.7,2520.3 781.8,2519.1C789,2517.9 795.3,2523.8 802.1,2526.1C808.9,2528.4 815.6,2533.6 822.4,2533.1C829.1,2532.6 839.3,2524.6 842.6,2522.9" fill="none" stroke="#000" stroke-width="8.5" stroke-linecap="round" stroke-linejoin="round"/>
<path d="M932.6,2522.9C936,2521.2 946.8,2512.7 952.9,2512.7C959,2512.7 962.6,2521.9 969.3,2522.9C976.1,2524 986,2521.9 993.4,2519.1C1000.8,2516.3 1005.2,2507.4 1013.7,2506.3C1022.1,2505.3 1039,2511.7 1044.1,2512.7" fill="none" stroke="#000" stroke-width="8.5" stroke-linecap="round" stroke-linejoin="round"/>
<path d="M238.3,2454.1C241.7,2452 251,2442.6 258.6,2441.3C266.2,2440.1 275.5,2444.3 283.9,2446.4C292.3,2448.6 300.2,2455.6 309.2,2454.1C318.3,2452.6 333.1,2435.4 338.4,2437.5C343.7,2439.6 345.8,2461.1 340.9,2466.8C336.1,2472.6 318.7,2469.8 309.2,2471.9C299.7,2474.1 294.5,2480.4 283.9,2479.6C273.3,2478.7 253.5,2471.1 245.9,2466.8C238.3,2462.6 239.6,2456.2 238.3,2454.1" fill="none" stroke="#000" stroke-width="8.5" stroke-linecap="round" stroke-linejoin="round"/>
<path d="M695,2553.5a7,7 0 1,0 14,0a7,7 0 1,0 -14,0ZM753.8,2542a9,9 0 1,0 18,0a9,9 0 1,0 -18,0ZM770.8,2556.1a6,6 0 1,0 12,0a6,6 0 1,0 -12,0ZM1012,2543.3a8,8 0 1,0 16,0a8,8 0 1,0 -16,0ZM987.4,2556.1a6,6 0 1,0 12,0a6,6 0 1,0 -12,0ZM716,2534.4a5,5 0 1,0 10,0a5,5 0 1,0 -10,0ZM1001.1,2530.6a5,5 0 1,0 10,0a5,5 0 1,0 -10,0Z" fill="#000"/>
<use href="#coast" x="157.2" y="2938.4"/>
<text class="ct" style="font-size:62px" transform="translate(418.2,2589.2) rotate(0)" x="0" y="22.3">−6</text>
<text class="ct" style="font-size:62px" transform="translate(650.1,2525.5) rotate(0)" x="0" y="22.3">−6</text>
<text class="ct" style="font-size:62px" transform="translate(889.5,2529.3) rotate(0)" x="0" y="22.3">−6</text>
</g>
<line x1="157.2" y1="2237.4" x2="157.2" y2="2224.4" stroke="#000" stroke-width="3"/>
<line x1="157.2" y1="2938.4" x2="157.2" y2="2951.4" stroke="#000" stroke-width="3"/>
<line x1="283.9" y1="2237.4" x2="283.9" y2="2224.4" stroke="#000" stroke-width="3"/>
<line x1="283.9" y1="2938.4" x2="283.9" y2="2951.4" stroke="#000" stroke-width="3"/>
<line x1="410.6" y1="2237.4" x2="410.6" y2="2211.4" stroke="#000" stroke-width="5"/>
<line x1="410.6" y1="2938.4" x2="410.6" y2="2964.4" stroke="#000" stroke-width="5"/>
<line x1="537.3" y1="2237.4" x2="537.3" y2="2224.4" stroke="#000" stroke-width="3"/>
<line x1="537.3" y1="2938.4" x2="537.3" y2="2951.4" stroke="#000" stroke-width="3"/>
<line x1="664" y1="2237.4" x2="664" y2="2224.4" stroke="#000" stroke-width="3"/>
<line x1="664" y1="2938.4" x2="664" y2="2951.4" stroke="#000" stroke-width="3"/>
<line x1="790.7" y1="2237.4" x2="790.7" y2="2211.4" stroke="#000" stroke-width="5"/>
<line x1="790.7" y1="2938.4" x2="790.7" y2="2964.4" stroke="#000" stroke-width="5"/>
<line x1="917.4" y1="2237.4" x2="917.4" y2="2224.4" stroke="#000" stroke-width="3"/>
<line x1="917.4" y1="2938.4" x2="917.4" y2="2951.4" stroke="#000" stroke-width="3"/>
<line x1="1044.1" y1="2237.4" x2="1044.1" y2="2224.4" stroke="#000" stroke-width="3"/>
<line x1="1044.1" y1="2938.4" x2="1044.1" y2="2951.4" stroke="#000" stroke-width="3"/>
<line x1="157.2" y1="2938.4" x2="130.2" y2="2938.4" stroke="#000" stroke-width="5"/>
<line x1="1044.1" y1="2938.4" x2="1071.1" y2="2938.4" stroke="#000" stroke-width="5"/>
<line x1="157.2" y1="2874.7" x2="143.2" y2="2874.7" stroke="#000" stroke-width="3"/>
<line x1="1044.1" y1="2874.7" x2="1058.1" y2="2874.7" stroke="#000" stroke-width="3"/>
<line x1="157.2" y1="2811" x2="143.2" y2="2811" stroke="#000" stroke-width="3"/>
<line x1="1044.1" y1="2811" x2="1058.1" y2="2811" stroke="#000" stroke-width="3"/>
<line x1="157.2" y1="2747.2" x2="143.2" y2="2747.2" stroke="#000" stroke-width="3"/>
<line x1="1044.1" y1="2747.2" x2="1058.1" y2="2747.2" stroke="#000" stroke-width="3"/>
<line x1="157.2" y1="2683.5" x2="130.2" y2="2683.5" stroke="#000" stroke-width="5"/>
<line x1="1044.1" y1="2683.5" x2="1071.1" y2="2683.5" stroke="#000" stroke-width="5"/>
<line x1="157.2" y1="2619.8" x2="143.2" y2="2619.8" stroke="#000" stroke-width="3"/>
<line x1="1044.1" y1="2619.8" x2="1058.1" y2="2619.8" stroke="#000" stroke-width="3"/>
<line x1="157.2" y1="2556.1" x2="143.2" y2="2556.1" stroke="#000" stroke-width="3"/>
<line x1="1044.1" y1="2556.1" x2="1058.1" y2="2556.1" stroke="#000" stroke-width="3"/>
<line x1="157.2" y1="2492.3" x2="143.2" y2="2492.3" stroke="#000" stroke-width="3"/>
<line x1="1044.1" y1="2492.3" x2="1058.1" y2="2492.3" stroke="#000" stroke-width="3"/>
<line x1="157.2" y1="2428.6" x2="130.2" y2="2428.6" stroke="#000" stroke-width="5"/>
<line x1="1044.1" y1="2428.6" x2="1071.1" y2="2428.6" stroke="#000" stroke-width="5"/>
<line x1="157.2" y1="2364.9" x2="143.2" y2="2364.9" stroke="#000" stroke-width="3"/>
<line x1="1044.1" y1="2364.9" x2="1058.1" y2="2364.9" stroke="#000" stroke-width="3"/>
<line x1="157.2" y1="2301.2" x2="143.2" y2="2301.2" stroke="#000" stroke-width="3"/>
<line x1="1044.1" y1="2301.2" x2="1058.1" y2="2301.2" stroke="#000" stroke-width="3"/>
<line x1="157.2" y1="2237.4" x2="143.2" y2="2237.4" stroke="#000" stroke-width="3"/>
<line x1="1044.1" y1="2237.4" x2="1058.1" y2="2237.4" stroke="#000" stroke-width="3"/>
<rect x="157.2" y="2237.4" width="886.9" height="701" fill="none" stroke="#000" stroke-width="6"/>
<text class="yl" x="99.2" y="2445.1">40N</text>
<text class="yl" x="99.2" y="2700">20N</text>
<text class="yl" x="99.2" y="2954.9">0</text>
<text class="xl" x="410.6" y="3013.9">90E</text>
<text class="xl" x="790.7" y="3013.9">120E</text>
<text class="tt" x="598.6" y="2190.9">(e) Ac,tra</text>
<path d="M228.5,3031.6 L168.2,3063.6 L228.5,3095.6 Z" fill="#000078"/>
<rect x="228.2" y="3031.6" width="62.8" height="64" fill="#0000a0" shape-rendering="crispEdges"/>
<rect x="290.4" y="3031.6" width="62.8" height="64" fill="#0000c8" shape-rendering="crispEdges"/>
<rect x="352.5" y="3031.6" width="62.8" height="64" fill="#0000f0" shape-rendering="crispEdges"/>
<rect x="414.7" y="3031.6" width="62.8" height="64" fill="#2828ff" shape-rendering="crispEdges"/>
<rect x="476.8" y="3031.6" width="62.8" height="64" fill="#7878ff" shape-rendering="crispEdges"/>
<rect x="539" y="3031.6" width="62.8" height="64" fill="#c0c0ff" shape-rendering="crispEdges"/>
<rect x="601.1" y="3031.6" width="62.8" height="64" fill="#ffc0c0" shape-rendering="crispEdges"/>
<rect x="663.3" y="3031.6" width="62.8" height="64" fill="#ff7878" shape-rendering="crispEdges"/>
<rect x="725.5" y="3031.6" width="62.8" height="64" fill="#ff2828" shape-rendering="crispEdges"/>
<rect x="787.6" y="3031.6" width="62.8" height="64" fill="#f00000" shape-rendering="crispEdges"/>
<rect x="849.8" y="3031.6" width="62.8" height="64" fill="#c80000" shape-rendering="crispEdges"/>
<rect x="912" y="3031.6" width="62.8" height="64" fill="#a00000" shape-rendering="crispEdges"/>
<path d="M973.8,3031.6 L1034.1,3063.6 L973.8,3095.6 Z" fill="#780000"/>
<text class="cl" x="230.1" y="3140.3">−36</text>
<text class="cl" x="354.4" y="3140.3">−26</text>
<text class="cl" x="478.7" y="3140.3">−16</text>
<text class="cl" x="603" y="3140.3">−6</text>
<text class="cl" x="727.4" y="3140.3">4</text>
<text class="cl" x="851.7" y="3140.3">14</text>
<text class="cl" x="976" y="3140.3">24</text>
</g>
<g id="panel-f">
<g clip-path="url(#clip-f)">
<rect x="1226.5" y="2235.4" width="890.9" height="705" fill="#7878ff"/>
<path d="M1752.5,2230.7C1699.4,2235.2 1750.8,2252.5 1755.8,2257.6C1760.9,2262.6 1773.7,2257 1782.7,2260.9C1791.6,2264.8 1801.7,2279.3 1809.5,2281C1817.4,2282.7 1824.6,2274.9 1829.7,2270.9C1834.7,2267 1832.5,2259.2 1839.8,2257.6C1847.1,2255.9 1865,2257 1873.4,2260.9C1881.8,2264.8 1884.5,2279.9 1890.1,2281C1895.7,2282.1 1901.4,2272.7 1907,2267.6C1912.6,2262.6 1918.1,2254.2 1923.7,2250.8C1929.3,2247.5 1932.1,2245.8 1940.6,2247.5C1949,2249.2 1965.7,2260.9 1974.1,2260.9C1982.5,2260.9 1985.3,2247.5 1990.9,2247.5C1996.4,2247.5 1999.3,2259.7 2007.7,2260.9C2016.1,2262 2032.9,2256.5 2041.3,2254.2C2049.7,2252 2052.4,2251.4 2058,2247.5C2063.6,2243.6 2125.8,2233.5 2074.9,2230.7C2023.9,2227.9 1805.7,2226.2 1752.5,2230.7Z" fill="#2828ff"/>
<path d="M1221.8,2247.5C1228.5,2219.5 1251.5,2262 1262.1,2270.9C1272.7,2279.9 1278.3,2294.5 1285.5,2301.3C1292.8,2308 1301.7,2314.7 1305.7,2311.3C1309.6,2308 1305.2,2288.9 1309.1,2281C1313,2273.2 1323.6,2266 1329.2,2264.3C1334.8,2262.6 1337.1,2267 1342.7,2270.9C1348.3,2274.9 1355.5,2286.1 1362.8,2287.8C1370.1,2289.4 1380.6,2284.1 1386.2,2281C1391.8,2277.9 1393,2269.8 1396.4,2269.3C1399.7,2268.7 1406.4,2274.1 1406.4,2277.7C1406.4,2281.3 1394.7,2284.9 1396.4,2291.1C1398.1,2297.2 1411.5,2307.4 1416.5,2314.7C1421.5,2321.9 1427.1,2328.6 1426.5,2334.8C1426,2341 1414.2,2344.9 1413.1,2351.6C1412,2358.3 1423.7,2372.8 1419.8,2375.1C1415.9,2377.3 1398,2366.1 1389.7,2365C1381.3,2363.9 1369,2363.8 1369.5,2368.3C1370.1,2372.8 1392.4,2385.7 1393,2391.9C1393.5,2398.1 1380.6,2401.9 1372.8,2405.3C1365,2408.6 1353.2,2409.8 1346,2412C1338.7,2414.3 1334.8,2414.9 1329.2,2418.8C1323.6,2422.7 1322.4,2432.7 1312.4,2435.5C1302.3,2438.3 1283.9,2434.9 1268.8,2435.5C1253.7,2436.1 1229.6,2470.3 1221.8,2438.9C1214,2407.6 1215.1,2275.5 1221.8,2247.5Z" fill="#c0c0ff"/>
<path d="M1272.1,2438.9C1277.7,2432.2 1313,2424.4 1329.2,2418.8C1345.5,2413.2 1355,2406.4 1369.5,2405.3C1384.1,2404.2 1400.9,2409.8 1416.5,2412C1432.2,2414.3 1452.3,2418.2 1463.5,2418.8C1474.7,2419.3 1478.1,2414.2 1483.7,2415.3C1489.3,2416.4 1491,2427.1 1497.1,2425.4C1503.2,2423.7 1510.5,2404.7 1520.5,2405.3C1530.6,2405.9 1555.9,2423.8 1557.5,2428.9C1559.2,2433.9 1538,2432.7 1530.7,2435.5C1523.4,2438.3 1525,2442.7 1513.8,2445.6C1502.6,2448.4 1478.6,2448.4 1463.5,2452.3C1448.4,2456.2 1434.4,2463.5 1423.2,2469.1C1412,2474.7 1407.6,2482.5 1396.4,2485.8C1385.2,2489.2 1367.3,2490.4 1356.1,2489.3C1344.9,2488.2 1339.3,2484.2 1329.2,2479.2C1319.2,2474.2 1305.2,2465.8 1295.7,2459.1C1286.1,2452.3 1266.5,2445.6 1272.1,2438.9Z" fill="#c0c0ff"/>
<path d="M1327.2,2307.9a12,12.1 0 1,0 24.1,0a12,12.1 0 1,0 -24.1,0ZM1348.1,2324.7a6.3,6.4 0 1,0 12.7,0a6.3,6.4 0 1,0 -12.7,0ZM1387.6,2333.1a12,11.5 0 1,0 24.1,0a12,11.5 0 1,0 -24.1,0ZM1332.9,2378.4a11.4,11.5 0 1,0 22.8,0a11.4,11.5 0 1,0 -22.8,0ZM1333.8,2398.5a8.9,11.5 0 1,0 17.7,0a8.9,11.5 0 1,0 -17.7,0ZM1277.9,2408.7a17.7,12.7 0 1,0 35.5,0a17.7,12.7 0 1,0 -35.5,0Z" fill="#7878ff"/>
<path d="M1458.5,2351.6a5.1,14 0 1,0 10.1,0a5.1,14 0 1,0 -10.1,0ZM1438.9,2383.5a4.4,7 0 1,0 8.9,0a4.4,7 0 1,0 -8.9,0ZM1542,2398.5a8.9,6.4 0 1,0 17.7,0a8.9,6.4 0 1,0 -17.7,0ZM1470.6,2385.1a6.3,3.8 0 1,0 12.7,0a6.3,3.8 0 1,0 -12.7,0Z" fill="#c0c0ff"/>
<path d="M1221.8,2485.8C1228.5,2485.8 1249.8,2482.5 1262.1,2485.8C1274.4,2489.2 1284.5,2499.8 1295.7,2506C1306.8,2512.1 1315.8,2518.9 1329.2,2522.8C1342.7,2526.7 1362.8,2530.6 1376.2,2529.5C1389.7,2528.4 1400.9,2517.3 1409.8,2516.2C1418.8,2515 1422.1,2524.5 1430,2522.8C1437.8,2521.1 1450.1,2506 1456.8,2506C1463.5,2506 1463.5,2522.8 1470.2,2522.8C1477,2522.8 1487,2508.2 1497.1,2506C1507.2,2503.7 1516.7,2511.6 1530.7,2509.4C1544.7,2507.2 1567.5,2499.9 1581,2492.6C1594.4,2485.3 1611.3,2475.8 1611.3,2465.7C1611.3,2455.6 1581.5,2438.9 1581,2432.2C1580.4,2425.5 1601.1,2427.6 1607.8,2425.4C1614.6,2423.2 1616.8,2416.5 1621.3,2418.8C1625.7,2421 1626.3,2437.8 1634.7,2438.9C1643.1,2440 1662.4,2427.7 1672,2425.4C1681.5,2423.2 1685.4,2429.3 1692.1,2425.4C1698.8,2421.5 1706.1,2403.1 1712.2,2402C1718.4,2400.9 1721.1,2419.9 1729,2418.8C1736.8,2417.7 1752,2396.3 1759.2,2395.2C1766.5,2394.1 1762.1,2409.8 1772.7,2412C1783.3,2414.3 1810.7,2408.2 1823,2408.7C1835.3,2409.3 1839.8,2412.6 1846.5,2415.3C1853.3,2418.1 1858.8,2427.6 1863.3,2425.4C1867.7,2423.2 1867.2,2408.1 1873.4,2402C1879.6,2395.8 1891.9,2389.6 1900.3,2388.5C1908.6,2387.3 1917,2394.6 1923.7,2395.2C1930.4,2395.8 1932.1,2390.8 1940.6,2391.9C1949,2393 1962.9,2403.1 1974.1,2402C1985.3,2400.8 1997.6,2389.1 2007.7,2385.1C2017.8,2381.2 2026.2,2377.8 2034.6,2378.4C2042.9,2378.9 2048.5,2388.5 2058,2388.5C2067.5,2388.5 2083.2,2382.3 2091.6,2378.4C2100,2374.5 2103.4,2367.2 2108.4,2365C2113.5,2362.8 2119.6,2365 2121.9,2365L2121.9,2943.4 L1221.8,2943.4 Z" fill="#c0c0ff"/>
<path d="M1524,2502.6C1522.3,2497.6 1524,2483.1 1530.7,2479.2C1537.4,2475.3 1555.3,2477.5 1564.3,2479.2C1573.2,2480.9 1584.4,2485.4 1584.4,2489.3C1584.4,2493.2 1571.5,2499.3 1564.3,2502.6C1557,2506 1547.4,2509.4 1540.7,2509.4C1534,2509.4 1525.6,2507.7 1524,2502.6Z" fill="#7878ff"/>
<path d="M2045.8,2402a8.9,8.9 0 1,0 17.7,0a8.9,8.9 0 1,0 -17.7,0ZM2104.1,2381.8a7.6,11.5 0 1,0 15.2,0a7.6,11.5 0 1,0 -15.2,0Z" fill="#7878ff"/>
<path d="M1225.2,2495.9C1230.2,2495.9 1245.9,2492.5 1255.4,2495.9C1264.9,2499.3 1272.7,2508.3 1282.2,2516.2C1291.7,2524 1302.9,2536.2 1312.4,2542.9C1321.9,2549.6 1329.7,2552 1339.2,2556.4C1348.8,2560.9 1356.6,2565.9 1369.5,2569.8C1382.4,2573.7 1400.9,2577.4 1416.5,2579.9C1432.2,2582.4 1447.3,2585 1463.5,2585C1479.7,2585 1500.4,2583.5 1513.8,2579.9C1527.3,2576.2 1535.7,2563.6 1544.1,2563.1C1552.5,2562.5 1553.6,2573.8 1564.3,2576.6C1574.9,2579.4 1598.3,2583.2 1607.8,2579.9C1617.3,2576.5 1615.7,2565.9 1621.3,2556.4C1626.9,2546.9 1636.4,2532.3 1641.4,2522.8C1646.5,2513.3 1651.6,2505.5 1651.6,2499.3C1651.6,2493.2 1642,2489.2 1641.4,2485.8C1640.8,2482.5 1643,2480 1648.1,2479.2C1653.2,2478.4 1660.1,2480.6 1672,2480.9C1683.8,2481.1 1702.7,2480.6 1719,2480.9C1735.2,2481.1 1758.6,2483.9 1769.3,2482.5C1779.9,2481.1 1777.1,2470.8 1782.7,2472.4C1788.3,2474.1 1796.1,2493.1 1802.8,2492.6C1809.5,2492 1816.8,2469.1 1823,2469.1C1829.1,2469.1 1833.7,2489.8 1839.8,2492.6C1846,2495.4 1853.3,2487 1860,2485.8C1866.7,2484.7 1872.9,2482.5 1880.1,2485.8C1887.4,2489.2 1896.3,2506 1903.6,2506C1910.8,2506 1917.5,2490.3 1923.7,2485.8C1929.9,2481.4 1935,2479.2 1940.6,2479.2C1946.1,2479.2 1950,2484.1 1957.3,2485.8C1964.5,2487.5 1975.7,2492 1984.1,2489.3C1992.5,2486.5 2000.4,2474.2 2007.7,2469.1C2015,2464.1 2016.7,2461.3 2027.9,2459.1C2039,2456.8 2059.8,2459 2074.9,2455.6C2090,2452.3 2111.2,2441.7 2118.4,2438.9L2118.4,2943.4 L1225.2,2943.4 Z" fill="#ffc0c0"/>
<path d="M1228.5,2610.9C1234.8,2610.2 1254.9,2606.8 1266.5,2607C1278.1,2607.2 1289.7,2612.6 1298.2,2612.1C1306.6,2611.7 1309.8,2604.9 1317.2,2604.5C1324.6,2604.1 1333.2,2609.8 1342.5,2609.6C1351.8,2609.4 1358.2,2604.3 1372.9,2603.2C1387.7,2602.1 1408.8,2603.2 1431.2,2603.2C1453.6,2603.2 1485.1,2602.6 1507.2,2603.2C1529.4,2603.8 1549.5,2605.3 1564.3,2607C1579,2608.7 1586.4,2614.5 1595.9,2613.4C1605.4,2612.3 1613.9,2607 1621.3,2600.7C1628.7,2594.3 1633.9,2584.7 1640.3,2575.2C1646.6,2565.6 1654,2552 1659.3,2543.3C1664.6,2534.6 1664.2,2523.4 1672,2522.8C1679.7,2522.2 1694.3,2535.1 1705.5,2539.6C1716.7,2544.1 1727.9,2546.3 1739.1,2549.7C1750.3,2553 1763.2,2559.7 1772.7,2559.7C1782.2,2559.7 1787.7,2549.1 1796.1,2549.7C1804.5,2550.2 1812.3,2559.2 1823,2563.1C1833.6,2567 1848.8,2569.8 1860,2573.1C1871.2,2576.5 1879.5,2583.7 1890.1,2583.2C1900.7,2582.6 1915.3,2569.2 1923.7,2569.8C1932.1,2570.4 1932.1,2587.2 1940.6,2586.6C1949,2586.1 1962.9,2568.8 1974.1,2566.5C1985.3,2564.2 1996.5,2571.5 2007.7,2573.1C2018.9,2574.8 2032.9,2577.1 2041.3,2576.6C2049.7,2576 2049.6,2568.7 2058,2569.8C2066.4,2570.9 2081.5,2584.9 2091.6,2583.2C2101.7,2581.5 2114,2563.7 2118.4,2559.7L2118.4,2943.4 L1228.5,2943.4 Z" fill="#ff7878"/>
<path d="M1621.3,2638.3C1624.1,2629.3 1634.1,2620.4 1641.4,2614.8C1648.7,2609.2 1659.9,2607 1665,2604.7C1670.1,2602.5 1665.2,2601.3 1672,2601.3C1678.7,2601.3 1694.3,2603.1 1705.5,2604.7C1716.7,2606.4 1727.9,2608 1739.1,2611.4C1750.3,2614.7 1762.6,2621.5 1772.7,2624.9C1782.7,2628.2 1791.7,2630.9 1799.5,2631.5C1807.4,2632.1 1814.1,2626.5 1819.7,2628.2C1825.3,2629.9 1826.4,2638.2 1833.1,2641.6C1839.8,2644.9 1851,2650.6 1860,2648.3C1868.9,2646.1 1879,2629.9 1886.8,2628.2C1894.7,2626.5 1902.5,2633.2 1907,2638.3C1911.5,2643.3 1908.7,2654.5 1913.7,2658.4C1918.7,2662.3 1934.9,2656.8 1937.1,2661.8C1939.4,2666.9 1927.7,2679.7 1927.1,2688.6C1926.6,2697.5 1933.8,2706.5 1933.8,2715.5C1933.8,2724.5 1927.1,2733.4 1927.1,2742.4C1927.1,2751.3 1936.1,2761.4 1933.8,2769.3C1931.6,2777.1 1921.5,2786.6 1913.7,2789.4C1905.9,2792.2 1893.5,2788.2 1886.8,2786C1880.1,2783.7 1879,2782.1 1873.4,2775.9C1867.8,2769.7 1855.5,2758 1853.3,2749C1851,2740.1 1861.1,2730.1 1860,2722.2C1858.9,2714.4 1853.3,2706 1846.5,2702.1C1839.8,2698.2 1826.4,2697.6 1819.7,2698.7C1813,2699.8 1814.1,2703.7 1806.3,2708.7C1798.4,2713.8 1782.7,2722.7 1772.7,2728.9C1762.6,2735 1751.4,2739 1745.8,2745.7C1740.2,2752.4 1744.1,2762 1739.1,2769.3C1734.1,2776.6 1724.5,2785 1715.5,2789.4C1706.6,2793.9 1692.6,2800.5 1685.4,2796C1678.1,2791.6 1676.5,2772 1672,2762.5C1667.4,2753 1664.5,2745.7 1658.3,2738.9C1652.1,2732.2 1637.5,2730.6 1634.7,2722.2C1631.9,2713.9 1643.1,2697.6 1641.4,2688.6C1639.7,2679.6 1628,2676.9 1624.7,2668.5C1621.3,2660.1 1618.5,2647.2 1621.3,2638.3Z" fill="#ff2828"/>
<path d="M1809,2668.5a13.9,21.7 0 1,0 27.9,0a13.9,21.7 0 1,0 -27.9,0ZM1859.1,2665.1a7.6,19.1 0 1,0 15.2,0a7.6,19.1 0 1,0 -15.2,0ZM1887.2,2645a6.3,10.2 0 1,0 12.7,0a6.3,10.2 0 1,0 -12.7,0ZM1895.2,2675.2a5.1,11.5 0 1,0 10.1,0a5.1,11.5 0 1,0 -10.1,0ZM1897.2,2749a6.3,8.9 0 1,0 12.7,0a6.3,8.9 0 1,0 -12.7,0ZM1730.6,2712.2a5.1,5.1 0 1,0 10.1,0a5.1,5.1 0 1,0 -10.1,0ZM1729.3,2745.7a6.3,6.4 0 1,0 12.7,0a6.3,6.4 0 1,0 -12.7,0ZM1755.4,2685.3a3.8,3.8 0 1,0 7.6,0a3.8,3.8 0 1,0 -7.6,0Z" fill="#ff7878"/>
<path d="M1940.6,2688.6C1942.8,2680.8 1951.7,2671.2 1957.3,2668.5C1962.9,2665.7 1972.4,2666.9 1974.1,2671.9C1975.8,2676.9 1967.4,2689.2 1967.4,2698.7C1967.4,2708.2 1969.7,2721.6 1974.1,2728.9C1978.6,2736.2 1994.3,2739 1994.3,2742.4C1994.3,2745.7 1980.8,2750.1 1974.1,2749C1967.4,2747.9 1959,2741.2 1954,2735.6C1948.9,2730 1946.1,2723.3 1943.8,2715.5C1941.6,2707.7 1938.3,2696.4 1940.6,2688.6Z" fill="#ff2828"/>
<path d="M1987.6,2688.6C1989.8,2681.9 2001.6,2672.4 2007.7,2668.5C2013.8,2664.6 2023.9,2662.3 2024.4,2665.1C2025,2668 2012.1,2677.4 2011,2685.3C2009.9,2693.1 2018.3,2706 2017.7,2712.2C2017.2,2718.3 2011.6,2722.8 2007.7,2722.2C2003.8,2721.7 1997.6,2714.3 1994.3,2708.7C1990.9,2703.1 1985.3,2695.3 1987.6,2688.6Z" fill="#ff2828"/>
<path d="M2034.6,2715.5C2034.6,2706.5 2036.8,2689.8 2041.3,2682C2045.8,2674.1 2053.6,2672.4 2061.4,2668.5C2069.3,2664.5 2080.5,2660.6 2088.3,2658.4C2096.1,2656.2 2103.9,2654.5 2108.4,2655.1C2113,2655.7 2114.2,2649.5 2115.4,2661.8C2116.6,2674.1 2118.3,2718.8 2115.4,2728.9C2112.5,2738.9 2102.3,2726.7 2098.3,2722.2C2094.3,2717.8 2095.5,2704.4 2091.6,2702.1C2087.7,2699.9 2080.5,2703.1 2074.9,2708.7C2069.3,2714.3 2063.6,2731.1 2058,2735.6C2052.4,2740.1 2045.2,2739 2041.3,2735.6C2037.4,2732.3 2034.6,2724.4 2034.6,2715.5Z" fill="#ff2828"/>
<path d="M2045.3,2695.4a12.7,6.4 0 1,0 25.3,0a12.7,6.4 0 1,0 -25.3,0ZM2085.2,2678.5a6.3,10.2 0 1,0 12.7,0a6.3,10.2 0 1,0 -12.7,0Z" fill="#ff7878"/>
<path d="M1225.2,2675.2C1229.1,2666.3 1242.5,2678.1 1248.6,2682C1254.8,2685.9 1258.7,2689.7 1262.1,2698.7C1265.4,2707.6 1269.9,2727.8 1268.8,2735.6C1267.7,2743.5 1259.8,2746.8 1255.4,2745.7C1250.9,2744.6 1247,2730.6 1241.9,2728.9C1236.9,2727.2 1228,2744.6 1225.2,2735.6C1222.4,2726.7 1221.3,2684.2 1225.2,2675.2Z" fill="#ff2828"/>
<path d="M2008.1,2782.7a6.3,8.9 0 1,0 12.7,0a6.3,8.9 0 1,0 -12.7,0ZM2080.8,2782.7a10.8,10.2 0 1,0 21.5,0a10.8,10.2 0 1,0 -21.5,0ZM1376.6,2769.3a11.4,12.7 0 1,0 22.8,0a11.4,12.7 0 1,0 -22.8,0ZM1384.1,2811.2a8.9,7 0 1,0 17.7,0a8.9,7 0 1,0 -17.7,0ZM1324.2,2772a5.1,5.1 0 1,0 10.1,0a5.1,5.1 0 1,0 -10.1,0ZM1439.6,2873.3a3.8,3.8 0 1,0 7.6,0a3.8,3.8 0 1,0 -7.6,0ZM1265.7,2786a16.5,6.4 0 1,0 32.9,0a16.5,6.4 0 1,0 -32.9,0ZM1225.5,2767.5a6.3,15.3 0 1,0 12.7,0a6.3,15.3 0 1,0 -12.7,0ZM1273.7,2658.4a5.1,4.5 0 1,0 10.1,0a5.1,4.5 0 1,0 -10.1,0ZM1515.1,2675.2a3.8,7.6 0 1,0 7.6,0a3.8,7.6 0 1,0 -7.6,0ZM1654.8,2784.3a5.1,6.4 0 1,0 10.1,0a5.1,6.4 0 1,0 -10.1,0ZM1616.2,2782.7a5.1,5.1 0 1,0 10.1,0a5.1,5.1 0 1,0 -10.1,0ZM1957.9,2641.6a4.4,3.8 0 1,0 8.9,0a4.4,3.8 0 1,0 -8.9,0Z" fill="#ff2828"/>
<path d="M1690.2,2871.6a7,7 0 1,0 13.9,0a7,7 0 1,0 -13.9,0ZM1707.4,2900.2a3.2,3.8 0 1,0 6.3,0a3.2,3.8 0 1,0 -6.3,0ZM2072.2,2589.6a7.6,5.1 0 1,0 15.2,0a7.6,5.1 0 1,0 -15.2,0ZM1515.1,2886.8a3.8,3.8 0 1,0 7.6,0a3.8,3.8 0 1,0 -7.6,0ZM1553.7,2925.4a3.8,3.2 0 1,0 7.6,0a3.8,3.2 0 1,0 -7.6,0Z" fill="#ffc0c0"/>
<path d="M1225.2,2495.9C1230.2,2495.9 1245.9,2492.5 1255.4,2495.9C1264.9,2499.3 1272.7,2508.3 1282.2,2516.2C1291.7,2524 1302.9,2536.2 1312.4,2542.9C1321.9,2549.6 1329.7,2552 1339.2,2556.4C1348.8,2560.9 1356.6,2565.9 1369.5,2569.8C1382.4,2573.7 1400.9,2577.4 1416.5,2579.9C1432.2,2582.4 1455.7,2584.1 1463.5,2585" fill="none" stroke="#000" stroke-width="8.5" stroke-linecap="round" stroke-linejoin="round"/>
<path d="M1544.1,2563.1C1547.5,2565.3 1553.6,2573.8 1564.3,2576.6C1574.9,2579.4 1598.3,2583.2 1607.8,2579.9C1617.3,2576.5 1615.7,2565.9 1621.3,2556.4C1626.9,2546.9 1636.4,2532.3 1641.4,2522.8C1646.5,2513.3 1651.6,2505.5 1651.6,2499.3C1651.6,2493.2 1642,2489.2 1641.4,2485.8C1640.8,2482.5 1643,2480 1648.1,2479.2C1653.2,2478.4 1668,2480.6 1672,2480.9" fill="none" stroke="#000" stroke-width="8.5" stroke-linecap="round" stroke-linejoin="round"/>
<path d="M1769.3,2482.5C1771.5,2480.8 1777.1,2470.8 1782.7,2472.4C1788.3,2474.1 1796.1,2493.1 1802.8,2492.6C1809.5,2492 1816.8,2469.1 1823,2469.1C1829.1,2469.1 1833.7,2489.8 1839.8,2492.6C1846,2495.4 1853.3,2487 1860,2485.8C1866.7,2484.7 1872.9,2482.5 1880.1,2485.8C1887.4,2489.2 1896.3,2506 1903.6,2506C1910.8,2506 1920.3,2489.2 1923.7,2485.8" fill="none" stroke="#000" stroke-width="8.5" stroke-linecap="round" stroke-linejoin="round"/>
<path d="M1984.1,2489.3C1988.1,2485.9 2000.4,2474.2 2007.7,2469.1C2015,2464.1 2016.7,2461.3 2027.9,2459.1C2039,2456.8 2059.8,2459 2074.9,2455.6C2090,2452.3 2111.2,2441.7 2118.4,2438.9" fill="none" stroke="#000" stroke-width="8.5" stroke-linecap="round" stroke-linejoin="round"/>
<path d="M1329.2,2455L1340.2,2472L1318.2,2470Z" fill="#ffc0c0" stroke="#000" stroke-width="8" stroke-linejoin="round"/>
<path d="M1778.1,2506a8,8 0 1,0 16,0a8,8 0 1,0 -16,0Z" fill="#000"/>
<use href="#coast" x="1228.5" y="2938.4"/>
<text class="ct" style="font-size:62px" transform="translate(1487,2576.6) rotate(0)" x="0" y="22.3">−9</text>
<text class="ct" style="font-size:62px" transform="translate(1722.2,2485.8) rotate(0)" x="0" y="22.3">−9</text>
<text class="ct" style="font-size:62px" transform="translate(1960.7,2492.6) rotate(0)" x="0" y="22.3">−9</text>
</g>
<line x1="1228.5" y1="2237.4" x2="1228.5" y2="2224.4" stroke="#000" stroke-width="3"/>
<line x1="1228.5" y1="2938.4" x2="1228.5" y2="2951.4" stroke="#000" stroke-width="3"/>
<line x1="1355.2" y1="2237.4" x2="1355.2" y2="2224.4" stroke="#000" stroke-width="3"/>
<line x1="1355.2" y1="2938.4" x2="1355.2" y2="2951.4" stroke="#000" stroke-width="3"/>
<line x1="1481.9" y1="2237.4" x2="1481.9" y2="2211.4" stroke="#000" stroke-width="5"/>
<line x1="1481.9" y1="2938.4" x2="1481.9" y2="2964.4" stroke="#000" stroke-width="5"/>
<line x1="1608.6" y1="2237.4" x2="1608.6" y2="2224.4" stroke="#000" stroke-width="3"/>
<line x1="1608.6" y1="2938.4" x2="1608.6" y2="2951.4" stroke="#000" stroke-width="3"/>
<line x1="1735.3" y1="2237.4" x2="1735.3" y2="2224.4" stroke="#000" stroke-width="3"/>
<line x1="1735.3" y1="2938.4" x2="1735.3" y2="2951.4" stroke="#000" stroke-width="3"/>
<line x1="1862" y1="2237.4" x2="1862" y2="2211.4" stroke="#000" stroke-width="5"/>
<line x1="1862" y1="2938.4" x2="1862" y2="2964.4" stroke="#000" stroke-width="5"/>
<line x1="1988.7" y1="2237.4" x2="1988.7" y2="2224.4" stroke="#000" stroke-width="3"/>
<line x1="1988.7" y1="2938.4" x2="1988.7" y2="2951.4" stroke="#000" stroke-width="3"/>
<line x1="2115.4" y1="2237.4" x2="2115.4" y2="2224.4" stroke="#000" stroke-width="3"/>
<line x1="2115.4" y1="2938.4" x2="2115.4" y2="2951.4" stroke="#000" stroke-width="3"/>
<line x1="1228.5" y1="2938.4" x2="1201.5" y2="2938.4" stroke="#000" stroke-width="5"/>
<line x1="2115.4" y1="2938.4" x2="2142.4" y2="2938.4" stroke="#000" stroke-width="5"/>
<line x1="1228.5" y1="2874.7" x2="1214.5" y2="2874.7" stroke="#000" stroke-width="3"/>
<line x1="2115.4" y1="2874.7" x2="2129.4" y2="2874.7" stroke="#000" stroke-width="3"/>
<line x1="1228.5" y1="2811" x2="1214.5" y2="2811" stroke="#000" stroke-width="3"/>
<line x1="2115.4" y1="2811" x2="2129.4" y2="2811" stroke="#000" stroke-width="3"/>
<line x1="1228.5" y1="2747.2" x2="1214.5" y2="2747.2" stroke="#000" stroke-width="3"/>
<line x1="2115.4" y1="2747.2" x2="2129.4" y2="2747.2" stroke="#000" stroke-width="3"/>
<line x1="1228.5" y1="2683.5" x2="1201.5" y2="2683.5" stroke="#000" stroke-width="5"/>
<line x1="2115.4" y1="2683.5" x2="2142.4" y2="2683.5" stroke="#000" stroke-width="5"/>
<line x1="1228.5" y1="2619.8" x2="1214.5" y2="2619.8" stroke="#000" stroke-width="3"/>
<line x1="2115.4" y1="2619.8" x2="2129.4" y2="2619.8" stroke="#000" stroke-width="3"/>
<line x1="1228.5" y1="2556.1" x2="1214.5" y2="2556.1" stroke="#000" stroke-width="3"/>
<line x1="2115.4" y1="2556.1" x2="2129.4" y2="2556.1" stroke="#000" stroke-width="3"/>
<line x1="1228.5" y1="2492.3" x2="1214.5" y2="2492.3" stroke="#000" stroke-width="3"/>
<line x1="2115.4" y1="2492.3" x2="2129.4" y2="2492.3" stroke="#000" stroke-width="3"/>
<line x1="1228.5" y1="2428.6" x2="1201.5" y2="2428.6" stroke="#000" stroke-width="5"/>
<line x1="2115.4" y1="2428.6" x2="2142.4" y2="2428.6" stroke="#000" stroke-width="5"/>
<line x1="1228.5" y1="2364.9" x2="1214.5" y2="2364.9" stroke="#000" stroke-width="3"/>
<line x1="2115.4" y1="2364.9" x2="2129.4" y2="2364.9" stroke="#000" stroke-width="3"/>
<line x1="1228.5" y1="2301.2" x2="1214.5" y2="2301.2" stroke="#000" stroke-width="3"/>
<line x1="2115.4" y1="2301.2" x2="2129.4" y2="2301.2" stroke="#000" stroke-width="3"/>
<line x1="1228.5" y1="2237.4" x2="1214.5" y2="2237.4" stroke="#000" stroke-width="3"/>
<line x1="2115.4" y1="2237.4" x2="2129.4" y2="2237.4" stroke="#000" stroke-width="3"/>
<rect x="1228.5" y="2237.4" width="886.9" height="701" fill="none" stroke="#000" stroke-width="6"/>
<text class="yl" x="1170.5" y="2445.1">40N</text>
<text class="yl" x="1170.5" y="2700">20N</text>
<text class="yl" x="1170.5" y="2954.9">0</text>
<text class="xl" x="1481.9" y="3013.9">90E</text>
<text class="xl" x="1862" y="3013.9">120E</text>
<text class="tt" x="1670" y="2190.9">(f) As, op</text>
<path d="M1299.8,3031.6 L1239.5,3063.6 L1299.8,3095.6 Z" fill="#000078"/>
<rect x="1299.5" y="3031.6" width="62.8" height="64" fill="#0000a0" shape-rendering="crispEdges"/>
<rect x="1361.7" y="3031.6" width="62.8" height="64" fill="#0000c8" shape-rendering="crispEdges"/>
<rect x="1423.8" y="3031.6" width="62.8" height="64" fill="#0000f0" shape-rendering="crispEdges"/>
<rect x="1486" y="3031.6" width="62.8" height="64" fill="#2828ff" shape-rendering="crispEdges"/>
<rect x="1548.1" y="3031.6" width="62.8" height="64" fill="#7878ff" shape-rendering="crispEdges"/>
<rect x="1610.3" y="3031.6" width="62.8" height="64" fill="#c0c0ff" shape-rendering="crispEdges"/>
<rect x="1672.5" y="3031.6" width="62.8" height="64" fill="#ffc0c0" shape-rendering="crispEdges"/>
<rect x="1734.6" y="3031.6" width="62.8" height="64" fill="#ff7878" shape-rendering="crispEdges"/>
<rect x="1796.8" y="3031.6" width="62.8" height="64" fill="#ff2828" shape-rendering="crispEdges"/>
<rect x="1858.9" y="3031.6" width="62.8" height="64" fill="#f00000" shape-rendering="crispEdges"/>
<rect x="1921.1" y="3031.6" width="62.8" height="64" fill="#c80000" shape-rendering="crispEdges"/>
<rect x="1983.2" y="3031.6" width="62.8" height="64" fill="#a00000" shape-rendering="crispEdges"/>
<path d="M2045.1,3031.6 L2105.4,3063.6 L2045.1,3095.6 Z" fill="#780000"/>
<text class="cl" x="1301.4" y="3140.3">−39</text>
<text class="cl" x="1425.7" y="3140.3">−29</text>
<text class="cl" x="1550" y="3140.3">−19</text>
<text class="cl" x="1674.4" y="3140.3">−9</text>
<text class="cl" x="1798.7" y="3140.3">1</text>
<text class="cl" x="1923" y="3140.3">11</text>
<text class="cl" x="2047.3" y="3140.3">21</text>
</g>
<g id="panel-g">
<g clip-path="url(#clip-g)">
<rect x="690.8" y="3297.8" width="890.9" height="705" fill="#ff7878"/>
<path d="M803,3289.6C670.4,3297.7 792.5,3321.5 794.2,3338.1C795.8,3354.6 804.7,3374.2 813.2,3389C821.6,3403.9 833.6,3419.8 844.8,3427.3C856,3434.7 866.6,3437 880.3,3433.6C894,3430.2 913.7,3407.9 927.2,3406.9C940.7,3405.8 947.3,3425.6 961.4,3427.3C975.6,3429 998.1,3411.6 1012.1,3417.1C1026,3422.6 1034.9,3458.7 1045,3460.4C1055.2,3462.1 1061.7,3424.9 1072.9,3427.3C1084.1,3429.6 1101.6,3468.9 1112.2,3474.4C1122.7,3480 1130.1,3467.2 1136.2,3460.4C1142.4,3453.6 1142.6,3434.9 1148.9,3433.6C1155.3,3432.4 1165.8,3452.8 1174.3,3452.8C1182.7,3452.8 1191.2,3431.5 1199.6,3433.6C1208,3435.8 1216.5,3463.4 1224.9,3465.5C1233.4,3467.6 1241.8,3444.3 1250.3,3446.4C1258.7,3448.5 1265.1,3474 1275.6,3478.3C1286.2,3482.5 1303.1,3468.7 1313.6,3471.9C1324.2,3475.1 1330.5,3497.4 1339,3497.4C1347.4,3497.4 1353.8,3476.1 1364.3,3471.9C1374.9,3467.6 1392.8,3475.1 1402.3,3471.9C1411.8,3468.7 1413.9,3450.6 1421.3,3452.8C1428.7,3454.9 1443.5,3471.9 1446.7,3484.6C1449.8,3497.4 1437.2,3515.4 1440.3,3529.2C1443.5,3543 1456.2,3557.9 1465.7,3567.5C1475.2,3577 1486.8,3584.5 1497.3,3586.6C1507.9,3588.7 1513.6,3579.2 1529,3580.2C1544.4,3581.3 1579.7,3641.4 1589.8,3593C1600,3544.5 1721,3340.2 1589.8,3289.6C1458.7,3239.1 935.6,3281.6 803,3289.6Z" fill="#ffc0c0"/>
<path d="M1080.1,3410.8a12.7,8.5 0 1,0 25.3,0a12.7,8.5 0 1,0 -25.3,0ZM808,3345.5a9,10.6 0 1,0 18,0a9,10.6 0 1,0 -18,0ZM1561.5,3448.3a14.8,13.8 0 1,0 29.6,0a14.8,13.8 0 1,0 -29.6,0ZM1285.9,3336.8a11.7,17.1 0 1,0 23.3,0a11.7,17.1 0 1,0 -23.3,0ZM1383.4,3414.5a9.4,8 0 1,0 18.8,0a9.4,8 0 1,0 -18.8,0ZM1462.1,3447.7a13.7,18.9 0 1,0 27.4,0a13.7,18.9 0 1,0 -27.4,0ZM1348.3,3322a10.4,17.8 0 1,0 20.8,0a10.4,17.8 0 1,0 -20.8,0ZM1135.2,3317.9a15.2,8.9 0 1,0 30.4,0a15.2,8.9 0 1,0 -30.4,0ZM1540.3,3457.9a12.7,11.5 0 1,0 25.3,0a12.7,11.5 0 1,0 -25.3,0ZM1065.8,3416.2a12.3,19.1 0 1,0 24.6,0a12.3,19.1 0 1,0 -24.6,0ZM1318.8,3319.7a15.1,20.3 0 1,0 30.2,0a15.1,20.3 0 1,0 -30.2,0ZM1456.5,3309.8a15.5,14.9 0 1,0 30.9,0a15.5,14.9 0 1,0 -30.9,0ZM1440.3,3419.4a9.2,8.4 0 1,0 18.5,0a9.2,8.4 0 1,0 -18.5,0ZM1459.6,3302.6a7.2,17.8 0 1,0 14.4,0a7.2,17.8 0 1,0 -14.4,0ZM1018.8,3364.7a15.2,8.2 0 1,0 30.4,0a15.2,8.2 0 1,0 -30.4,0ZM1476.3,3305.3a11.4,20.4 0 1,0 22.8,0a11.4,20.4 0 1,0 -22.8,0ZM830.1,3336.9a9.5,19.9 0 1,0 19,0a9.5,19.9 0 1,0 -19,0ZM1488.9,3474.3a11,14.3 0 1,0 22,0a11,14.3 0 1,0 -22,0ZM1292.5,3413.3a12,15.5 0 1,0 24.1,0a12,15.5 0 1,0 -24.1,0ZM1523.2,3438.1a10.6,16.8 0 1,0 21.3,0a10.6,16.8 0 1,0 -21.3,0ZM1550.7,3434.2a11.9,7.8 0 1,0 23.8,0a11.9,7.8 0 1,0 -23.8,0ZM1121.2,3417.6a6.6,15.5 0 1,0 13.2,0a6.6,15.5 0 1,0 -13.2,0ZM1278.5,3449.5a13.2,12.1 0 1,0 26.4,0a13.2,12.1 0 1,0 -26.4,0ZM1346.6,3373.2a6.6,8.4 0 1,0 13.2,0a6.6,8.4 0 1,0 -13.2,0ZM1320.5,3310.1a8.9,13.5 0 1,0 17.7,0a8.9,13.5 0 1,0 -17.7,0ZM1082.8,3413.3a9.4,12.5 0 1,0 18.8,0a9.4,12.5 0 1,0 -18.8,0ZM1237.2,3374.1a9.5,10.5 0 1,0 19,0a9.5,10.5 0 1,0 -19,0ZM1436.1,3457.2a15,9.8 0 1,0 29.9,0a15,9.8 0 1,0 -29.9,0ZM1051.7,3397.8a15.3,13.4 0 1,0 30.7,0a15.3,13.4 0 1,0 -30.7,0ZM1422.1,3345.1a8.2,11.2 0 1,0 16.5,0a8.2,11.2 0 1,0 -16.5,0ZM1416.1,3400.3a14.6,12.1 0 1,0 29.1,0a14.6,12.1 0 1,0 -29.1,0ZM1512,3536.5a6.3,19.6 0 1,0 12.7,0a6.3,19.6 0 1,0 -12.7,0ZM1476.2,3303.5a10.8,19.8 0 1,0 21.5,0a10.8,19.8 0 1,0 -21.5,0ZM1509.6,3517.9a13.9,18.4 0 1,0 27.9,0a13.9,18.4 0 1,0 -27.9,0ZM1310,3434.7a9.2,12 0 1,0 18.5,0a9.2,12 0 1,0 -18.5,0ZM1489.5,3385.7a15.7,19.1 0 1,0 31.4,0a15.7,19.1 0 1,0 -31.4,0ZM1495.7,3418.5a6.5,17.2 0 1,0 12.9,0a6.5,17.2 0 1,0 -12.9,0ZM1308.7,3433a10.5,19.6 0 1,0 21,0a10.5,19.6 0 1,0 -21,0ZM990.8,3338.6a11.1,17.6 0 1,0 22.3,0a11.1,17.6 0 1,0 -22.3,0ZM1211.9,3351.2a8.1,17.7 0 1,0 16.2,0a8.1,17.7 0 1,0 -16.2,0ZM1504.6,3354.2a14.7,7.8 0 1,0 29.4,0a14.7,7.8 0 1,0 -29.4,0ZM1285.9,3338.3a6.8,11.1 0 1,0 13.7,0a6.8,11.1 0 1,0 -13.7,0ZM1119.5,3447.7a14.2,7.6 0 1,0 28.4,0a14.2,7.6 0 1,0 -28.4,0ZM1553,3340.6a7.2,14 0 1,0 14.4,0a7.2,14 0 1,0 -14.4,0ZM1066.1,3398.9a12.3,12.2 0 1,0 24.6,0a12.3,12.2 0 1,0 -24.6,0ZM1353.2,3473.5a7.1,9.9 0 1,0 14.2,0a7.1,9.9 0 1,0 -14.2,0ZM1081,3410.7a14.3,12.5 0 1,0 28.6,0a14.3,12.5 0 1,0 -28.6,0ZM1415.2,3405.6a10.8,12.4 0 1,0 21.5,0a10.8,12.4 0 1,0 -21.5,0ZM1179.7,3383.2a10.6,16.4 0 1,0 21.3,0a10.6,16.4 0 1,0 -21.3,0ZM1213.9,3385.3a7.1,13 0 1,0 14.2,0a7.1,13 0 1,0 -14.2,0ZM1120.2,3333.6a15.8,12.4 0 1,0 31.7,0a15.8,12.4 0 1,0 -31.7,0ZM1491.8,3358.5a9,13.5 0 1,0 18,0a9,13.5 0 1,0 -18,0ZM888.9,3352.2a13.1,19 0 1,0 26.1,0a13.1,19 0 1,0 -26.1,0ZM1405.5,3393a13.8,14.8 0 1,0 27.6,0a13.8,14.8 0 1,0 -27.6,0ZM880.2,3415.4a6.3,9.4 0 1,0 12.7,0a6.3,9.4 0 1,0 -12.7,0ZM1480.7,3530a6.6,18.4 0 1,0 13.2,0a6.6,18.4 0 1,0 -13.2,0ZM887.4,3343.5a13.2,18.4 0 1,0 26.4,0a13.2,18.4 0 1,0 -26.4,0ZM1528.5,3417.8a14.4,8.2 0 1,0 28.9,0a14.4,8.2 0 1,0 -28.9,0ZM1386.4,3436.8a13.6,9 0 1,0 27.1,0a13.6,9 0 1,0 -27.1,0ZM1378.8,3318.2a7,11.7 0 1,0 13.9,0a7,11.7 0 1,0 -13.9,0ZM1233.9,3348a8.7,9.9 0 1,0 17.5,0a8.7,9.9 0 1,0 -17.5,0ZM986.1,3407.5a13.9,12.6 0 1,0 27.9,0a13.9,12.6 0 1,0 -27.9,0ZM1545,3464.5a13.9,9.7 0 1,0 27.9,0a13.9,9.7 0 1,0 -27.9,0ZM1327.6,3368.3a13.2,14.3 0 1,0 26.4,0a13.2,14.3 0 1,0 -26.4,0ZM1165.3,3400a15.5,9.6 0 1,0 30.9,0a15.5,9.6 0 1,0 -30.9,0ZM865.4,3370.4a15.6,14.3 0 1,0 31.2,0a15.6,14.3 0 1,0 -31.2,0ZM1141.1,3378.6a8.2,11.1 0 1,0 16.5,0a8.2,11.1 0 1,0 -16.5,0ZM951.3,3416.1a9.5,10.6 0 1,0 19,0a9.5,10.6 0 1,0 -19,0ZM1331.6,3312.8a9.4,16.7 0 1,0 18.8,0a9.4,16.7 0 1,0 -18.8,0ZM1114,3340.9a12.3,11.1 0 1,0 24.6,0a12.3,11.1 0 1,0 -24.6,0ZM1047.9,3363.2a7.7,20.3 0 1,0 15.5,0a7.7,20.3 0 1,0 -15.5,0ZM1166.4,3412.2a11,18.2 0 1,0 22,0a11,18.2 0 1,0 -22,0ZM1430.6,3424a11.3,16.8 0 1,0 22.6,0a11.3,16.8 0 1,0 -22.6,0ZM1455.2,3467.9a13.8,19.9 0 1,0 27.6,0a13.8,19.9 0 1,0 -27.6,0ZM975.1,3379a13.2,19.9 0 1,0 26.4,0a13.2,19.9 0 1,0 -26.4,0Z" fill="#ff7878"/>
<path d="M777.3,3336a10.1,18.5 0 1,0 20.3,0a10.1,18.5 0 1,0 -20.3,0ZM686.2,3374.8a11,15 0 1,0 22,0a11,15 0 1,0 -22,0ZM821.8,3424.1a8,10.5 0 1,0 16,0a8,10.5 0 1,0 -16,0ZM770.3,3359.6a5.2,10.2 0 1,0 10.4,0a5.2,10.2 0 1,0 -10.4,0ZM725.4,3311.6a9.9,9.4 0 1,0 19.8,0a9.9,9.4 0 1,0 -19.8,0ZM805.1,3420.5a9,9 0 1,0 18,0a9,9 0 1,0 -18,0ZM686.7,3317.8a6.3,10.1 0 1,0 12.7,0a6.3,10.1 0 1,0 -12.7,0ZM728.3,3305.2a8.5,15.4 0 1,0 17,0a8.5,15.4 0 1,0 -17,0ZM714.5,3308.1a9.5,18.7 0 1,0 19,0a9.5,18.7 0 1,0 -19,0ZM741.7,3416.7a6,8.4 0 1,0 11.9,0a6,8.4 0 1,0 -11.9,0ZM733.6,3355.5a5.1,15.4 0 1,0 10.1,0a5.1,15.4 0 1,0 -10.1,0ZM733.9,3396.6a10.3,13.1 0 1,0 20.5,0a10.3,13.1 0 1,0 -20.5,0ZM731.3,3372.6a9.5,8.3 0 1,0 19,0a9.5,8.3 0 1,0 -19,0ZM831.3,3436.8a9.8,17.3 0 1,0 19.5,0a9.8,17.3 0 1,0 -19.5,0ZM688.2,3329.5a7.3,14.3 0 1,0 14.7,0a7.3,14.3 0 1,0 -14.7,0ZM688,3433.5a6.2,18.6 0 1,0 12.4,0a6.2,18.6 0 1,0 -12.4,0ZM711.8,3334.1a10.9,18.5 0 1,0 21.8,0a10.9,18.5 0 1,0 -21.8,0ZM736.8,3390.3a8.4,16.6 0 1,0 16.7,0a8.4,16.6 0 1,0 -16.7,0ZM699.1,3335.1a10.1,17.5 0 1,0 20.3,0a10.1,17.5 0 1,0 -20.3,0ZM692.7,3307.5a5.7,11.6 0 1,0 11.4,0a5.7,11.6 0 1,0 -11.4,0ZM778.4,3311.3a7.2,18.2 0 1,0 14.4,0a7.2,18.2 0 1,0 -14.4,0ZM768.6,3396.2a7.1,9.7 0 1,0 14.2,0a7.1,9.7 0 1,0 -14.2,0Z" fill="#ffc0c0"/>
<path d="M911,3461.6a3.8,7.3 0 1,0 7.6,0a3.8,7.3 0 1,0 -7.6,0ZM903.6,3429.8a5.2,7.8 0 1,0 10.4,0a5.2,7.8 0 1,0 -10.4,0ZM822.2,3427.1a6.6,6 0 1,0 13.2,0a6.6,6 0 1,0 -13.2,0ZM931.9,3434.8a4.6,6.6 0 1,0 9.1,0a4.6,6.6 0 1,0 -9.1,0ZM1037.7,3461.3a6.8,7.3 0 1,0 13.7,0a6.8,7.3 0 1,0 -13.7,0ZM1056.3,3456.8a4.2,7.9 0 1,0 8.4,0a4.2,7.9 0 1,0 -8.4,0ZM749.9,3465.6a6.2,5.4 0 1,0 12.4,0a6.2,5.4 0 1,0 -12.4,0ZM794.4,3436.5a5.2,8.5 0 1,0 10.4,0a5.2,8.5 0 1,0 -10.4,0ZM1080.6,3445.5a6.2,7.4 0 1,0 12.4,0a6.2,7.4 0 1,0 -12.4,0ZM723.6,3455.2a6.1,5.4 0 1,0 12.2,0a6.1,5.4 0 1,0 -12.2,0ZM949.9,3472.5a7.1,6.5 0 1,0 14.2,0a7.1,6.5 0 1,0 -14.2,0ZM760.6,3436.1a4.9,4.8 0 1,0 9.9,0a4.9,4.8 0 1,0 -9.9,0ZM909.7,3469.5a4.6,8.3 0 1,0 9.1,0a4.6,8.3 0 1,0 -9.1,0ZM994.5,3477.5a6.7,4 0 1,0 13.4,0a6.7,4 0 1,0 -13.4,0Z" fill="#ffc0c0"/>
<path d="M1229.6,3569.9a7.1,13.9 0 1,0 14.2,0a7.1,13.9 0 1,0 -14.2,0ZM1161.3,3615.4a12.7,9.6 0 1,0 25.3,0a12.7,9.6 0 1,0 -25.3,0ZM1411.7,3601.9a9.2,12.1 0 1,0 18.5,0a9.2,12.1 0 1,0 -18.5,0ZM1214.7,3578.3a6.8,9.7 0 1,0 13.7,0a6.8,9.7 0 1,0 -13.7,0ZM1136.2,3614.2a8.9,15.7 0 1,0 17.7,0a8.9,15.7 0 1,0 -17.7,0ZM1296.4,3623.9a8,16.4 0 1,0 16,0a8,16.4 0 1,0 -16,0ZM1155.5,3591.7a8.7,13.5 0 1,0 17.5,0a8.7,13.5 0 1,0 -17.5,0ZM1276.9,3587.1a9.5,13.4 0 1,0 19,0a9.5,13.4 0 1,0 -19,0ZM1528.8,3594.1a7.2,8.3 0 1,0 14.4,0a7.2,8.3 0 1,0 -14.4,0ZM1548.2,3600.1a7.6,16.1 0 1,0 15.2,0a7.6,16.1 0 1,0 -15.2,0ZM1381,3584.8a11.9,10.2 0 1,0 23.8,0a11.9,10.2 0 1,0 -23.8,0ZM1287.1,3575.2a7.2,14.5 0 1,0 14.4,0a7.2,14.5 0 1,0 -14.4,0ZM1168.8,3587.2a10.8,16.1 0 1,0 21.5,0a10.8,16.1 0 1,0 -21.5,0ZM1502.7,3599.1a7.6,9 0 1,0 15.2,0a7.6,9 0 1,0 -15.2,0ZM1363.9,3598.7a6.8,15.7 0 1,0 13.7,0a6.8,15.7 0 1,0 -13.7,0ZM1353.5,3586.5a7.7,9.8 0 1,0 15.5,0a7.7,9.8 0 1,0 -15.5,0Z" fill="#ffc0c0"/>
<path d="M1207.2,3510.1a5.1,6.4 0 1,0 10.1,0a5.1,6.4 0 1,0 -10.1,0ZM1219.9,3516.5a5.1,5.1 0 1,0 10.1,0a5.1,5.1 0 1,0 -10.1,0ZM1233.8,3542a3.8,3.8 0 1,0 7.6,0a3.8,3.8 0 1,0 -7.6,0ZM1397.3,3580.2a5.1,11.5 0 1,0 10.1,0a5.1,11.5 0 1,0 -10.1,0ZM1449.2,3542a3.8,6.4 0 1,0 7.6,0a3.8,6.4 0 1,0 -7.6,0Z" fill="#ffc0c0"/>
<path d="M686.1,3497.9C692.8,3484.5 714.1,3489.6 726.4,3491.3C738.7,3492.9 748.8,3506.3 760,3508C771.1,3509.6 782.3,3499.6 793.5,3501.3C804.7,3503 815.9,3516.9 827.1,3518C838.3,3519.1 843.9,3508.5 860.7,3508C877.5,3507.4 908.3,3512.5 927.8,3514.7C947.4,3517 966.9,3518.1 978.1,3521.5C989.3,3524.8 987.7,3536.5 995,3534.8C1002.3,3533.2 1016.2,3510.3 1021.8,3511.4C1027.4,3512.5 1021.8,3537.1 1028.6,3541.6C1035.3,3546.1 1052.1,3535.4 1062.1,3538.2C1072.2,3540.9 1081.2,3555.5 1089,3558.3C1096.8,3561.1 1104.7,3550.5 1109.1,3555C1113.6,3559.5 1115.9,3577.3 1115.9,3585.2C1115.9,3593 1115.3,3595.8 1109.1,3602C1103,3608.2 1086.7,3618.8 1078.9,3622.1C1071,3625.5 1070.5,3620.5 1062.1,3622.1C1053.7,3623.8 1039.7,3633.3 1028.6,3632.2C1017.4,3631.1 1006.2,3615.4 995,3615.4C983.8,3615.4 972.6,3631.6 961.4,3632.2C950.2,3632.8 939,3622.2 927.8,3618.8C916.6,3615.5 905.4,3611 894.3,3612.1C883.1,3613.2 871.9,3624.3 860.7,3625.5C849.5,3626.6 838.3,3622.2 827.1,3618.8C815.9,3615.5 804.7,3609.3 793.5,3605.3C782.3,3601.4 771.1,3599.7 760,3595.3C748.8,3590.8 738.7,3582.5 726.4,3578.6C714.1,3574.6 692.8,3585.2 686.1,3571.8C679.4,3558.4 679.4,3511.3 686.1,3497.9Z" fill="#ff2828"/>
<path d="M707.9,3544.9a10.1,11.5 0 1,0 20.3,0a10.1,11.5 0 1,0 -20.3,0ZM769.1,3568.4a12.7,20.4 0 1,0 25.3,0a12.7,20.4 0 1,0 -25.3,0ZM853.8,3573.5a10.1,15.3 0 1,0 20.3,0a10.1,15.3 0 1,0 -20.3,0ZM736,3544.9a3.8,3.8 0 1,0 7.6,0a3.8,3.8 0 1,0 -7.6,0ZM829.6,3570.1a2.5,6.4 0 1,0 5.1,0a2.5,6.4 0 1,0 -5.1,0ZM969.5,3588.6a1.9,6.4 0 1,0 3.8,0a1.9,6.4 0 1,0 -3.8,0ZM1054.9,3615.4a3.8,6.4 0 1,0 7.6,0a3.8,6.4 0 1,0 -7.6,0Z" fill="#f00000"/>
<path d="M781.7,3516.4a10.1,10.2 0 1,0 20.3,0a10.1,10.2 0 1,0 -20.3,0Z" fill="#ff7878"/>
<path d="M811.1,3490.5a7.6,5.7 0 1,0 15.2,0a7.6,5.7 0 1,0 -15.2,0ZM1077.6,3529.9a6.3,5.1 0 1,0 12.7,0a6.3,5.1 0 1,0 -12.7,0ZM1154.6,3528.1a5.1,5.1 0 1,0 10.1,0a5.1,5.1 0 1,0 -10.1,0ZM1169.8,3568.4a5.1,7.6 0 1,0 10.1,0a5.1,7.6 0 1,0 -10.1,0ZM1206.1,3568.4a5.7,6.4 0 1,0 11.4,0a5.7,6.4 0 1,0 -11.4,0ZM1232.5,3585.2a4.4,7.6 0 1,0 8.9,0a4.4,7.6 0 1,0 -8.9,0ZM1266.2,3576.8a7.6,8.3 0 1,0 15.2,0a7.6,8.3 0 1,0 -15.2,0ZM1513.4,3529.9a3.8,3.8 0 1,0 7.6,0a3.8,3.8 0 1,0 -7.6,0Z" fill="#ff2828"/>
<path d="M686.1,3588.6C692.8,3585.3 711.3,3590.8 726.4,3595.3C741.5,3599.7 771.1,3610.9 776.7,3615.4C782.3,3619.9 767.2,3622.7 760,3622.1C752.7,3621.6 742,3609.8 733.1,3612.1C724.1,3614.3 714.1,3635 706.2,3635.5C698.4,3636.1 689.4,3623.2 686.1,3615.4C682.7,3607.6 679.4,3592 686.1,3588.6Z" fill="#ffc0c0"/>
<path d="M680.1,3612.1C682.2,3612.3 688.4,3610 692.8,3613.4C697.2,3616.8 700,3633.3 706.7,3632.5C713.5,3631.6 724.5,3610.6 733.3,3608.3C742.2,3605.9 752.1,3614.4 760,3618.5C767.8,3622.5 774.5,3631.8 780.2,3632.5C785.9,3633.1 786.3,3622.3 794.2,3622.3C802,3622.3 817.2,3629.1 827.1,3632.5C837,3635.9 840.2,3640.5 853.7,3642.7C867.2,3644.8 890.2,3644.8 908.2,3645.2C926.1,3645.6 947,3646.3 961.4,3645.2C975.8,3644.2 982.1,3639.7 994.3,3638.8C1006.6,3638 1021.8,3639.7 1034.9,3640.1C1048,3640.5 1060.2,3641.2 1072.9,3641.4C1085.6,3641.6 1098.2,3641.2 1110.9,3641.4C1123.6,3641.6 1138.4,3641.4 1148.9,3642.7C1159.5,3643.9 1165.8,3648.6 1174.3,3649C1182.7,3649.5 1191.2,3644.6 1199.6,3645.2C1208,3645.9 1215.9,3652.2 1224.9,3652.9C1234,3653.5 1245.6,3648.4 1254.1,3649C1262.5,3649.7 1268.9,3654.8 1275.6,3656.7C1282.4,3658.6 1287.2,3660.1 1294.6,3660.5C1302,3660.9 1310.5,3660.5 1320,3659.2C1329.5,3658 1340,3654.6 1351.6,3652.9C1363.3,3651.2 1375.9,3650.5 1389.7,3649C1403.4,3647.6 1423.4,3646.1 1434,3643.9C1444.6,3641.8 1445.6,3636.3 1453,3636.3C1460.4,3636.3 1469.9,3643.7 1478.3,3643.9C1486.8,3644.2 1495.2,3637.6 1503.7,3637.6C1512.1,3637.6 1520.6,3644.4 1529,3643.9C1537.5,3643.5 1545.9,3637.6 1554.4,3635C1562.8,3632.5 1573.4,3629.9 1579.7,3628.6C1586,3627.4 1590.3,3627.6 1592.4,3627.4L1592.4,4005.8 L680.1,4005.8 Z" fill="#c0c0ff"/>
<path d="M686.5,3624.8C688.7,3628 695.3,3641.6 699.8,3643.9C704.2,3646.3 708.6,3640.2 713.1,3638.8C717.5,3637.5 721.9,3638.3 726.4,3635.7C730.8,3633 735.2,3622.6 739.7,3622.8C744.1,3623 748.5,3634.8 753,3636.8C757.4,3638.8 761.9,3632.2 766.3,3634.9C770.7,3637.6 775.2,3653.1 779.6,3653.1C784,3653.2 788.5,3636.3 792.9,3635.3C797.3,3634.3 801.8,3645.8 806.2,3647C810.6,3648.2 815.1,3640.8 819.5,3642.3C823.9,3643.7 828.4,3654.1 832.8,3655.7C837.2,3657.3 841.7,3650.5 846.1,3651.8C850.5,3653.2 855,3663.3 859.4,3663.9C863.8,3664.6 868.3,3655.6 872.7,3655.8C877.1,3656 881.6,3665.1 886,3665.4C890.5,3665.6 894.9,3656.9 899.3,3657.1C903.8,3657.3 908.2,3666.5 912.6,3666.6C917.1,3666.8 921.5,3657.8 925.9,3657.8C930.4,3657.9 934.8,3666.9 939.2,3667C943.7,3667.1 948.1,3658.5 952.5,3658.5C957,3658.5 961.4,3667.4 965.8,3667C970.3,3666.6 974.7,3656.8 979.1,3656.2C983.6,3655.6 988,3663.4 992.4,3663.3C996.9,3663.2 1001.3,3655 1005.7,3655.4C1010.2,3655.9 1014.6,3665.4 1019.1,3666C1023.5,3666.6 1027.9,3658.2 1032.4,3658.9C1036.8,3659.5 1041.2,3669 1045.7,3669.7C1050.1,3670.3 1054.5,3662 1059,3662.7C1063.4,3663.3 1067.8,3673 1072.3,3673.5C1076.7,3674.1 1081.1,3665.5 1085.6,3666C1090,3666.4 1094.4,3675.8 1098.9,3676.2C1103.3,3676.5 1107.7,3667.8 1112.2,3668.2C1116.6,3668.5 1121,3677.8 1125.5,3678.1C1129.9,3678.4 1134.3,3669.5 1138.8,3669.7C1143.2,3669.9 1147.7,3678.9 1152.1,3679.5C1156.5,3680.1 1161,3672.7 1165.4,3673.3C1169.8,3673.8 1174.3,3683.2 1178.7,3682.7C1183.1,3682.2 1187.6,3671.1 1192,3670.4C1196.4,3669.8 1200.9,3678.3 1205.3,3678.6C1209.7,3678.9 1214.2,3671.8 1218.6,3672.1C1223,3672.4 1227.5,3681.1 1231.9,3680.5C1236.3,3679.9 1240.8,3669.1 1245.2,3668.4C1249.6,3667.7 1254.1,3676 1258.5,3676.4C1263,3676.9 1267.4,3670.2 1271.8,3671.2C1276.3,3672.2 1280.7,3681.9 1285.1,3682.4C1289.6,3683 1294,3674.5 1298.4,3674.4C1302.9,3674.3 1307.3,3682.6 1311.7,3682C1316.2,3681.5 1320.6,3672.1 1325,3671.3C1329.5,3670.5 1333.9,3678.2 1338.3,3677.2C1342.8,3676.2 1347.2,3666.1 1351.6,3665.4C1356.1,3664.6 1360.5,3673.4 1364.9,3672.9C1369.4,3672.4 1373.8,3662.9 1378.2,3662.4C1382.7,3661.9 1387.1,3670.4 1391.6,3669.9C1396,3669.5 1400.4,3660 1404.9,3659.5C1409.3,3659 1413.7,3667.4 1418.2,3666.9C1422.6,3666.3 1427,3657.3 1431.5,3656.3C1435.9,3655.3 1440.3,3661.7 1444.8,3660.6C1449.2,3659.6 1453.6,3649.5 1458.1,3649.9C1462.5,3650.3 1466.9,3662.2 1471.4,3662.9C1475.8,3663.7 1480.2,3655 1484.7,3654.5C1489.1,3654 1493.5,3660.5 1498,3660C1502.4,3659.5 1506.8,3650.9 1511.3,3651.6C1515.7,3652.2 1520.2,3663.6 1524.6,3663.8C1529,3664.1 1533.5,3654.1 1537.9,3653C1542.3,3651.9 1546.8,3658.6 1551.2,3657.2C1555.6,3655.8 1560.1,3645.7 1564.5,3644.6C1568.9,3643.4 1573.4,3651 1577.8,3650.2C1582.2,3649.4 1588.9,3641.4 1591.1,3639.6L1591.1,4005.8 L686.5,4005.8 Z" fill="#7878ff"/>
<path d="M686.5,3656.7C688.7,3656.5 695.3,3653.1 699.8,3655.4C704.2,3657.7 708.6,3672.1 713.1,3670.7C717.5,3669.3 721.9,3649.8 726.4,3647.1C730.8,3644.4 735.2,3654.5 739.7,3654.6C744.1,3654.8 748.5,3646.3 753,3648.3C757.4,3650.3 761.9,3664 766.3,3666.8C770.7,3669.5 775.2,3664.5 779.6,3664.6C784,3664.7 788.5,3668.1 792.9,3667.1C797.3,3666.1 801.8,3657.4 806.2,3658.6C810.6,3659.8 815.1,3672.7 819.5,3674.1C823.9,3675.6 828.4,3665.6 832.8,3667.3C837.2,3668.9 841.7,3682.4 846.1,3683.8C850.5,3685.2 855,3675 859.4,3675.7C863.8,3676.3 868.3,3687.5 872.7,3687.8C877.1,3688 881.6,3676.8 886,3677.1C890.5,3677.3 894.9,3689.1 899.3,3689.3C903.8,3689.5 908.2,3678.3 912.6,3678.5C917.1,3678.6 921.5,3690.1 925.9,3690.2C930.4,3690.3 934.8,3679 939.2,3679.1C943.7,3679.2 948.1,3690.9 952.5,3691C957,3691 961.4,3679.6 965.8,3679.2C970.3,3678.9 974.7,3689.3 979.1,3688.7C983.6,3688 988,3675.6 992.4,3675.4C996.9,3675.3 1001.3,3687.3 1005.7,3687.7C1010.2,3688 1014.6,3677 1019.1,3677.5C1023.5,3677.9 1027.9,3689.9 1032.4,3690.5C1036.8,3691 1041.2,3680 1045.7,3680.5C1050.1,3681 1054.5,3693 1059,3693.5C1063.4,3694 1067.8,3683.1 1072.3,3683.6C1076.7,3684 1081.1,3695.8 1085.6,3696.2C1090,3696.6 1094.4,3685.5 1098.9,3685.9C1103.3,3686.2 1107.7,3698 1112.2,3698.4C1116.6,3698.7 1121,3687.8 1125.5,3688.2C1129.9,3688.6 1134.3,3700.3 1138.8,3700.8C1143.2,3701.3 1147.7,3690.1 1152.1,3691C1156.5,3691.8 1161,3705.1 1165.4,3706C1169.8,3706.9 1174.3,3696.3 1178.7,3696.2C1183.1,3696.1 1187.6,3705.7 1192,3705.4C1196.4,3705 1200.9,3693.6 1205.3,3694.2C1209.7,3694.8 1214.2,3708.3 1218.6,3708.9C1223,3709.5 1227.5,3698.1 1231.9,3697.7C1236.3,3697.3 1240.8,3707.1 1245.2,3706.5C1249.6,3706 1254.1,3693.9 1258.5,3694.4C1263,3694.9 1267.4,3708.5 1271.8,3709.4C1276.3,3710.4 1280.7,3699.7 1285.1,3700.1C1289.6,3700.6 1294,3712.3 1298.4,3712.1C1302.9,3711.9 1307.3,3699.6 1311.7,3698.9C1316.2,3698.2 1320.6,3708.9 1325,3707.9C1329.5,3706.9 1333.9,3693.9 1338.3,3692.8C1342.8,3691.6 1347.2,3701.7 1351.6,3700.8C1356.1,3699.8 1360.5,3687.8 1364.9,3687.1C1369.4,3686.5 1373.8,3697.3 1378.2,3696.7C1382.7,3696.1 1387.1,3684 1391.6,3683.3C1396,3682.7 1400.4,3693.4 1404.9,3692.8C1409.3,3692.1 1413.7,3680 1418.2,3679.4C1422.6,3678.8 1427,3690.2 1431.5,3689.1C1435.9,3688 1440.3,3673.9 1444.8,3672.7C1449.2,3671.6 1453.6,3682 1458.1,3682.3C1462.5,3682.6 1466.9,3674 1471.4,3674.7C1475.8,3675.4 1480.2,3687 1484.7,3686.5C1489.1,3686 1493.5,3672.2 1498,3671.7C1502.4,3671.2 1506.8,3683 1511.3,3683.6C1515.7,3684.2 1520.2,3675.2 1524.6,3675.4C1529,3675.6 1533.5,3686 1537.9,3684.9C1542.3,3683.7 1546.8,3670.1 1551.2,3668.7C1555.6,3667.3 1560.1,3677.6 1564.5,3676.4C1568.9,3675.3 1573.4,3662.5 1577.8,3661.7C1582.2,3660.8 1588.9,3669.8 1591.1,3671.5L1591.1,4005.8 L686.5,4005.8 Z" fill="#2828ff"/>
<path d="M686.5,3654.9C688.7,3658.7 695.3,3675.3 699.8,3677.8C704.2,3680.4 708.6,3670.9 713.1,3670.1C717.5,3669.2 721.9,3674.6 726.4,3672.7C730.8,3670.9 735.2,3657.7 739.7,3658.9C744.1,3660 748.5,3676.5 753,3679.5C757.4,3682.5 761.9,3673 766.3,3676.6C770.7,3680.1 775.2,3700 779.6,3700.8C784,3701.5 788.5,3681.5 792.9,3681C797.3,3680.5 801.8,3696.3 806.2,3697.9C810.6,3699.4 815.1,3688.5 819.5,3690.2C823.9,3691.9 828.4,3706.3 832.8,3708C837.2,3709.8 841.7,3699.3 846.1,3700.8C850.5,3702.2 855,3716.2 859.4,3716.8C863.8,3717.5 868.3,3704.6 872.7,3704.9C877.1,3705.1 881.6,3718.1 886,3718.4C890.5,3718.6 894.9,3706.2 899.3,3706.4C903.8,3706.6 908.2,3719.5 912.6,3719.6C917.1,3719.8 921.5,3707.1 925.9,3707.2C930.4,3707.2 934.8,3720 939.2,3720C943.7,3720.1 948.1,3707.6 952.5,3707.5C957,3707.5 961.4,3720.2 965.8,3719.8C970.3,3719.3 974.7,3705.6 979.1,3704.9C983.6,3704.1 988,3715.7 992.4,3715.4C996.9,3715.2 1001.3,3703 1005.7,3703.2C1010.2,3703.4 1014.6,3716.5 1019.1,3716.8C1023.5,3717.2 1027.9,3704.8 1032.4,3705.1C1036.8,3705.5 1041.2,3718.6 1045.7,3719C1050.1,3719.4 1054.5,3707 1059,3707.4C1063.4,3707.8 1067.8,3721.1 1072.3,3721.4C1076.7,3721.8 1081.1,3709.2 1085.6,3709.4C1090,3709.7 1094.4,3722.7 1098.9,3723C1103.3,3723.2 1107.7,3710.7 1112.2,3711.1C1116.6,3711.5 1121,3724.7 1125.5,3725.1C1129.9,3725.5 1134.3,3713 1138.8,3713.5C1143.2,3714 1147.7,3727.2 1152.1,3728.2C1156.5,3729.2 1161,3718.4 1165.4,3719.4C1169.8,3720.4 1174.3,3734.1 1178.7,3734.2C1183.1,3734.3 1187.6,3720 1192,3719.9C1196.4,3719.8 1200.9,3732.6 1205.3,3733.4C1209.7,3734.2 1214.2,3724 1218.6,3724.9C1223,3725.7 1227.5,3738.8 1231.9,3738.6C1236.3,3738.5 1240.8,3724.3 1245.2,3724C1249.6,3723.7 1254.1,3736.1 1258.5,3736.9C1263,3737.6 1267.4,3727.3 1271.8,3728.4C1276.3,3729.6 1280.7,3743.2 1285.1,3743.9C1289.6,3744.5 1294,3732.3 1298.4,3732.3C1302.9,3732.2 1307.3,3744.2 1311.7,3743.6C1316.2,3743 1320.6,3729.7 1325,3728.7C1329.5,3727.7 1333.9,3739 1338.3,3737.9C1342.8,3736.7 1347.2,3722.6 1351.6,3721.7C1356.1,3720.7 1360.5,3733 1364.9,3732.3C1369.4,3731.5 1373.8,3718.1 1378.2,3717.4C1382.7,3716.7 1387.1,3728.8 1391.6,3728.1C1396,3727.3 1400.4,3713.8 1404.9,3713C1409.3,3712.3 1413.7,3724.3 1418.2,3723.6C1422.6,3722.9 1427,3709.9 1431.5,3708.7C1435.9,3707.5 1440.3,3717.6 1444.8,3716.3C1449.2,3715.1 1453.6,3701.1 1458.1,3701.3C1462.5,3701.5 1466.9,3717 1471.4,3717.6C1475.8,3718.2 1480.2,3705.6 1484.7,3705C1489.1,3704.4 1493.5,3714.7 1498,3714.2C1502.4,3713.6 1506.8,3701 1511.3,3701.5C1515.7,3702.1 1520.2,3717.3 1524.6,3717.5C1529,3717.6 1533.5,3703.7 1537.9,3702.6C1542.3,3701.4 1546.8,3711.9 1551.2,3710.5C1555.6,3709 1560.1,3695.2 1564.5,3694C1568.9,3692.8 1573.4,3704.2 1577.8,3703.3C1582.2,3702.5 1588.9,3691.2 1591.1,3688.8L1591.1,4005.8 L686.5,4005.8 Z" fill="#0000f0"/>
<path d="M1237,3737.6C1252.6,3734.3 1281.7,3751 1304.1,3751C1326.5,3751 1348.9,3735.9 1371.3,3737.6C1393.7,3739.3 1416,3758.8 1438.4,3761.1C1460.8,3763.3 1482,3750.4 1505.6,3751C1529.1,3751.6 1567.3,3742.1 1579.7,3764.5C1592.1,3786.9 1586.5,3861.8 1579.7,3885.3C1572.9,3908.8 1557.1,3905.5 1539.2,3905.5C1521.2,3905.5 1494.4,3886.5 1472,3885.3C1449.6,3884.2 1427.2,3899.8 1404.9,3898.7C1382.5,3897.6 1357.3,3879.7 1337.7,3878.6C1318.1,3877.5 1304.1,3894.3 1287.3,3892.1C1270.5,3889.9 1251,3876.4 1237,3865.2C1223,3854 1207.9,3840.6 1203.4,3824.9C1198.9,3809.2 1204.5,3785.7 1210.1,3771.1C1215.7,3756.6 1221.3,3741 1237,3737.6Z" fill="#0000c8"/>
<path d="M1078.9,3761.1C1083.9,3753.8 1102.4,3748.8 1112.4,3747.7C1122.5,3746.6 1134.8,3745.5 1139.3,3754.4C1143.8,3763.4 1144.9,3792.4 1139.3,3801.3C1133.7,3810.3 1115.2,3809.8 1105.7,3808.1C1096.2,3806.4 1086.8,3799.1 1082.3,3791.3C1077.8,3783.4 1073.8,3768.3 1078.9,3761.1Z" fill="#0000c8"/>
<path d="M1390.8,3813.2a8.5,10.6 0 1,0 17,0a8.5,10.6 0 1,0 -17,0ZM1412.8,3809a4.7,11 0 1,0 9.4,0a4.7,11 0 1,0 -9.4,0ZM1453.5,3777.5a4.3,9 0 1,0 8.6,0a4.3,9 0 1,0 -8.6,0ZM1272.8,3775a7.3,6.8 0 1,0 14.7,0a7.3,6.8 0 1,0 -14.7,0ZM1566.8,3751.3a7.1,11.9 0 1,0 14.2,0a7.1,11.9 0 1,0 -14.2,0ZM1295.6,3896.5a6.5,6.9 0 1,0 12.9,0a6.5,6.9 0 1,0 -12.9,0ZM1309.1,3861.9a3.9,10.5 0 1,0 7.9,0a3.9,10.5 0 1,0 -7.9,0ZM1388.9,3770a6.5,12.1 0 1,0 12.9,0a6.5,12.1 0 1,0 -12.9,0ZM1408.8,3797.5a6.1,8.8 0 1,0 12.2,0a6.1,8.8 0 1,0 -12.2,0ZM1570.8,3746.5a8.1,12.7 0 1,0 16.2,0a8.1,12.7 0 1,0 -16.2,0ZM1348.9,3863.7a5.3,7 0 1,0 10.6,0a5.3,7 0 1,0 -10.6,0ZM1494.6,3837.7a8.1,9.8 0 1,0 16.2,0a8.1,9.8 0 1,0 -16.2,0ZM1562.1,3769.2a3.8,8.3 0 1,0 7.6,0a3.8,8.3 0 1,0 -7.6,0ZM1541.4,3827a8.7,9.9 0 1,0 17.5,0a8.7,9.9 0 1,0 -17.5,0ZM1266.6,3802.6a7.7,8.8 0 1,0 15.5,0a7.7,8.8 0 1,0 -15.5,0ZM1270.3,3848a8.7,13.1 0 1,0 17.5,0a8.7,13.1 0 1,0 -17.5,0Z" fill="#0000f0"/>
<path d="M686.5,3669.4C708.6,3614.6 776.2,3677.1 819.5,3679.6C862.8,3682.2 904,3683.2 946.2,3684.7C988.4,3686.2 1048.6,3680.5 1072.9,3688.5C1097.2,3696.6 1096.1,3717.2 1091.9,3733.2C1087.7,3749.1 1053.9,3762.9 1047.6,3784.1C1041.2,3805.4 1041.2,3840.4 1053.9,3860.6C1066.6,3880.8 1095.1,3895.7 1123.6,3905.2C1152.1,3914.8 1180.6,3914.3 1224.9,3918C1269.3,3921.6 1329.3,3926.5 1389.7,3926.9C1450,3927.3 1554.4,3906.9 1587.3,3920.5C1620.2,3934.1 1737.4,3993.8 1587.3,4008.4C1437.2,4023.1 836.6,4064.9 686.5,4008.4C536.3,3951.9 664.3,3724.2 686.5,3669.4Z" fill="#2828ff"/>
<path d="M833.6,3878.3a8.9,20.8 0 1,0 17.7,0a8.9,20.8 0 1,0 -17.7,0ZM908.1,3761.2a11.8,15.4 0 1,0 23.6,0a11.8,15.4 0 1,0 -23.6,0ZM966.6,3790.1a13.6,18.2 0 1,0 27.1,0a13.6,18.2 0 1,0 -27.1,0ZM1013.7,3825a8.7,13 0 1,0 17.5,0a8.7,13 0 1,0 -17.5,0ZM964.3,3894.4a12.5,17.8 0 1,0 25.1,0a12.5,17.8 0 1,0 -25.1,0ZM708.3,3737.1a7.9,20.3 0 1,0 15.7,0a7.9,20.3 0 1,0 -15.7,0ZM1009.9,3882a13.2,19 0 1,0 26.4,0a13.2,19 0 1,0 -26.4,0ZM733.5,3766.3a8.5,20.8 0 1,0 17,0a8.5,20.8 0 1,0 -17,0ZM955.3,3687.3a8,14.7 0 1,0 16,0a8,14.7 0 1,0 -16,0ZM927.3,3782.1a9,20.5 0 1,0 18,0a9,20.5 0 1,0 -18,0ZM1016.5,3860.2a8.7,18.2 0 1,0 17.5,0a8.7,18.2 0 1,0 -17.5,0ZM841.3,3767.9a11.4,15.5 0 1,0 22.8,0a11.4,15.5 0 1,0 -22.8,0ZM690.1,3902.7a11.1,18.9 0 1,0 22.3,0a11.1,18.9 0 1,0 -22.3,0ZM848.4,3747.3a11.7,20.4 0 1,0 23.3,0a11.7,20.4 0 1,0 -23.3,0ZM941.5,3855a8.6,12.1 0 1,0 17.2,0a8.6,12.1 0 1,0 -17.2,0ZM694.2,3717.2a14.2,19.1 0 1,0 28.4,0a14.2,19.1 0 1,0 -28.4,0ZM727.1,3768.7a8.6,20.5 0 1,0 17.2,0a8.6,20.5 0 1,0 -17.2,0ZM938,3746a12.3,15.7 0 1,0 24.6,0a12.3,15.7 0 1,0 -24.6,0ZM1016.5,3692a9.5,15.9 0 1,0 19,0a9.5,15.9 0 1,0 -19,0ZM970.1,3763.7a10.8,16.1 0 1,0 21.5,0a10.8,16.1 0 1,0 -21.5,0ZM766.2,3762.2a9.8,20.6 0 1,0 19.5,0a9.8,20.6 0 1,0 -19.5,0ZM810.3,3701.4a10.5,20.5 0 1,0 21,0a10.5,20.5 0 1,0 -21,0ZM978.5,3750.5a9.2,13.1 0 1,0 18.5,0a9.2,13.1 0 1,0 -18.5,0ZM692.3,3891.1a12.7,12.1 0 1,0 25.3,0a12.7,12.1 0 1,0 -25.3,0ZM777.2,3792.5a8.7,14.8 0 1,0 17.5,0a8.7,14.8 0 1,0 -17.5,0ZM774,3764.8a8.5,21.7 0 1,0 17,0a8.5,21.7 0 1,0 -17,0ZM916.2,3755.3a11.8,16.6 0 1,0 23.6,0a11.8,16.6 0 1,0 -23.6,0ZM1060.2,3709.3a13.8,11.7 0 1,0 27.6,0a13.8,11.7 0 1,0 -27.6,0ZM911.9,3697.1a12.4,16.7 0 1,0 24.8,0a12.4,16.7 0 1,0 -24.8,0ZM934.8,3892a13.2,19.5 0 1,0 26.4,0a13.2,19.5 0 1,0 -26.4,0ZM708.8,3807.1a12.2,15 0 1,0 24.3,0a12.2,15 0 1,0 -24.3,0ZM946.1,3702.1a14.4,14.7 0 1,0 28.9,0a14.4,14.7 0 1,0 -28.9,0ZM740.1,3719.4a12.3,19.9 0 1,0 24.6,0a12.3,19.9 0 1,0 -24.6,0ZM1022.1,3865.8a12,14.5 0 1,0 24.1,0a12,14.5 0 1,0 -24.1,0ZM996.6,3760.8a9.4,16.6 0 1,0 18.8,0a9.4,16.6 0 1,0 -18.8,0ZM917.2,3877.7a9,16.3 0 1,0 18,0a9,16.3 0 1,0 -18,0ZM706.4,3810.9a14.7,19.9 0 1,0 29.4,0a14.7,19.9 0 1,0 -29.4,0ZM701,3726.5a13.1,18.7 0 1,0 26.1,0a13.1,18.7 0 1,0 -26.1,0ZM694.2,3743.4a9.1,19.6 0 1,0 18.2,0a9.1,19.6 0 1,0 -18.2,0ZM810.6,3843.7a8.9,20.3 0 1,0 17.7,0a8.9,20.3 0 1,0 -17.7,0ZM768.4,3714.5a11.5,13 0 1,0 23.1,0a11.5,13 0 1,0 -23.1,0ZM942.3,3801.7a7.9,19.9 0 1,0 15.7,0a7.9,19.9 0 1,0 -15.7,0ZM785.8,3931a13.4,18.9 0 1,0 26.9,0a13.4,18.9 0 1,0 -26.9,0ZM832.7,3889.7a11.7,17.5 0 1,0 23.3,0a11.7,17.5 0 1,0 -23.3,0ZM951.6,3812.3a11.9,18.9 0 1,0 23.8,0a11.9,18.9 0 1,0 -23.8,0ZM756,3891.1a11.3,19.1 0 1,0 22.6,0a11.3,19.1 0 1,0 -22.6,0ZM997.3,3719.5a10.9,18.7 0 1,0 21.8,0a10.9,18.7 0 1,0 -21.8,0ZM726.4,3838a8.1,20 0 1,0 16.2,0a8.1,20 0 1,0 -16.2,0ZM974.7,3842.3a13.7,12.4 0 1,0 27.4,0a13.7,12.4 0 1,0 -27.4,0ZM824.2,3847.6a14.2,13.3 0 1,0 28.4,0a14.2,13.3 0 1,0 -28.4,0ZM741.2,3914.3a14.1,14.7 0 1,0 28.1,0a14.1,14.7 0 1,0 -28.1,0ZM1033.6,3857.3a13.9,13.5 0 1,0 27.9,0a13.9,13.5 0 1,0 -27.9,0ZM1033,3688.9a14.3,18.5 0 1,0 28.6,0a14.3,18.5 0 1,0 -28.6,0ZM1029.9,3704a15,14.3 0 1,0 29.9,0a15,14.3 0 1,0 -29.9,0ZM1016.4,3738.4a10.3,13.1 0 1,0 20.5,0a10.3,13.1 0 1,0 -20.5,0ZM1034.5,3816.6a11.7,20.5 0 1,0 23.3,0a11.7,20.5 0 1,0 -23.3,0ZM870.1,3872.7a12.8,17 0 1,0 25.6,0a12.8,17 0 1,0 -25.6,0ZM785.3,3760.7a14.4,14 0 1,0 28.9,0a14.4,14 0 1,0 -28.9,0ZM1000.6,3745a11.5,13.4 0 1,0 23.1,0a11.5,13.4 0 1,0 -23.1,0ZM944.4,3865.3a9.5,20.1 0 1,0 19,0a9.5,20.1 0 1,0 -19,0ZM785,3913.5a14.1,21.7 0 1,0 28.1,0a14.1,21.7 0 1,0 -28.1,0ZM801,3833.8a11.8,19.1 0 1,0 23.6,0a11.8,19.1 0 1,0 -23.6,0ZM688.2,3771.9a9.4,20.9 0 1,0 18.8,0a9.4,20.9 0 1,0 -18.8,0ZM844.6,3696.3a11,18.1 0 1,0 22,0a11,18.1 0 1,0 -22,0ZM697.7,3885.5a9.9,15.3 0 1,0 19.8,0a9.9,15.3 0 1,0 -19.8,0ZM752.6,3829.8a8.2,17.2 0 1,0 16.5,0a8.2,17.2 0 1,0 -16.5,0ZM1058.7,3718.6a12.3,21.5 0 1,0 24.6,0a12.3,21.5 0 1,0 -24.6,0ZM967.9,3775.5a11,12.4 0 1,0 22,0a11,12.4 0 1,0 -22,0ZM1029.9,3708.7a13.7,18.5 0 1,0 27.4,0a13.7,18.5 0 1,0 -27.4,0ZM997,3692.8a15,19.4 0 1,0 29.9,0a15,19.4 0 1,0 -29.9,0ZM687.2,3695.6a11.9,16.1 0 1,0 23.8,0a11.9,16.1 0 1,0 -23.8,0ZM854.2,3868.1a7.9,17.7 0 1,0 15.7,0a7.9,17.7 0 1,0 -15.7,0ZM920.7,3915a14.6,20.6 0 1,0 29.1,0a14.6,20.6 0 1,0 -29.1,0ZM1022,3800.1a10.5,16.3 0 1,0 21,0a10.5,16.3 0 1,0 -21,0ZM823.8,3693.5a14.6,20.6 0 1,0 29.1,0a14.6,20.6 0 1,0 -29.1,0ZM884.1,3806.8a12.8,14.4 0 1,0 25.6,0a12.8,14.4 0 1,0 -25.6,0ZM755.5,3686a9.6,14.3 0 1,0 19.3,0a9.6,14.3 0 1,0 -19.3,0ZM874.6,3914.5a11.5,13.1 0 1,0 23.1,0a11.5,13.1 0 1,0 -23.1,0ZM1004.7,3916.2a13.7,14.1 0 1,0 27.4,0a13.7,14.1 0 1,0 -27.4,0ZM987.5,3733a14.8,13.3 0 1,0 29.6,0a14.8,13.3 0 1,0 -29.6,0ZM1069.4,3899.3a10.3,11.6 0 1,0 20.5,0a10.3,11.6 0 1,0 -20.5,0ZM875,3916.2a11.8,21 0 1,0 23.6,0a11.8,21 0 1,0 -23.6,0ZM991.6,3772a8.2,21.5 0 1,0 16.5,0a8.2,21.5 0 1,0 -16.5,0ZM827.4,3695a8.7,14.5 0 1,0 17.5,0a8.7,14.5 0 1,0 -17.5,0ZM1056,3746.7a9,16.2 0 1,0 18,0a9,16.2 0 1,0 -18,0ZM896.5,3872.8a9.2,12.4 0 1,0 18.5,0a9.2,12.4 0 1,0 -18.5,0ZM882.6,3831a10.3,16.3 0 1,0 20.5,0a10.3,16.3 0 1,0 -20.5,0ZM815.4,3838.6a13.4,13 0 1,0 26.9,0a13.4,13 0 1,0 -26.9,0ZM720.5,3823.1a9.8,16.3 0 1,0 19.5,0a9.8,16.3 0 1,0 -19.5,0ZM1016.6,3695.9a13.8,20.9 0 1,0 27.6,0a13.8,20.9 0 1,0 -27.6,0ZM774.9,3848.8a8.5,14.4 0 1,0 17,0a8.5,14.4 0 1,0 -17,0ZM785,3875.9a10.1,21 0 1,0 20.3,0a10.1,21 0 1,0 -20.3,0ZM883.5,3707.8a11.7,19.1 0 1,0 23.3,0a11.7,19.1 0 1,0 -23.3,0ZM941.4,3786a14.6,17.6 0 1,0 29.1,0a14.6,17.6 0 1,0 -29.1,0ZM882.2,3878.6a8.4,15.8 0 1,0 16.7,0a8.4,15.8 0 1,0 -16.7,0ZM837.5,3903.8a14.8,11.6 0 1,0 29.6,0a14.8,11.6 0 1,0 -29.6,0ZM855.5,3874.2a10.6,20 0 1,0 21.3,0a10.6,20 0 1,0 -21.3,0ZM962.7,3709.6a9.8,15.5 0 1,0 19.5,0a9.8,15.5 0 1,0 -19.5,0ZM853.2,3723.7a9.9,20.6 0 1,0 19.8,0a9.9,20.6 0 1,0 -19.8,0ZM753.2,3763.5a12.4,11.9 0 1,0 24.8,0a12.4,11.9 0 1,0 -24.8,0ZM810.6,3724.1a10.6,12.1 0 1,0 21.3,0a10.6,12.1 0 1,0 -21.3,0ZM866.3,3799.2a11.1,15.8 0 1,0 22.3,0a11.1,15.8 0 1,0 -22.3,0ZM1050.2,3766a11,16.1 0 1,0 22,0a11,16.1 0 1,0 -22,0ZM983.8,3876.3a11.3,19.2 0 1,0 22.6,0a11.3,19.2 0 1,0 -22.6,0ZM720.3,3899.3a8,18.4 0 1,0 16,0a8,18.4 0 1,0 -16,0ZM994.7,3768.3a12.3,11.9 0 1,0 24.6,0a12.3,11.9 0 1,0 -24.6,0ZM825.6,3819.2a10.1,14 0 1,0 20.3,0a10.1,14 0 1,0 -20.3,0ZM830.6,3879.1a8.1,17.3 0 1,0 16.2,0a8.1,17.3 0 1,0 -16.2,0ZM691.8,3826.6a10.6,19.8 0 1,0 21.3,0a10.6,19.8 0 1,0 -21.3,0ZM962.5,3820.2a7.6,18.7 0 1,0 15.2,0a7.6,18.7 0 1,0 -15.2,0ZM962,3774.4a15.1,16.4 0 1,0 30.2,0a15.1,16.4 0 1,0 -30.2,0ZM839.9,3800.8a8.4,17.8 0 1,0 16.7,0a8.4,17.8 0 1,0 -16.7,0ZM732.3,3766.4a12.3,18.5 0 1,0 24.6,0a12.3,18.5 0 1,0 -24.6,0ZM750.4,3755.5a14.8,21.5 0 1,0 29.6,0a14.8,21.5 0 1,0 -29.6,0ZM979.9,3896.9a13.4,13.3 0 1,0 26.9,0a13.4,13.3 0 1,0 -26.9,0ZM1069.9,3928.9a7.7,15.5 0 1,0 15.5,0a7.7,15.5 0 1,0 -15.5,0ZM708.8,3694.3a14.7,14.1 0 1,0 29.4,0a14.7,14.1 0 1,0 -29.4,0ZM1020.6,3847.9a13.8,12.7 0 1,0 27.6,0a13.8,12.7 0 1,0 -27.6,0ZM777.9,3823.6a7.6,11.9 0 1,0 15.2,0a7.6,11.9 0 1,0 -15.2,0ZM864.1,3785.2a15.2,16.8 0 1,0 30.4,0a15.2,16.8 0 1,0 -30.4,0Z" fill="#0000f0"/>
<path d="M1391.8,3998.8a9.8,12.2 0 1,0 19.5,0a9.8,12.2 0 1,0 -19.5,0ZM1435,3944.7a14.4,11 0 1,0 28.9,0a14.4,11 0 1,0 -28.9,0ZM1284.7,3998.4a9.2,14.7 0 1,0 18.5,0a9.2,14.7 0 1,0 -18.5,0ZM1086.1,3984.4a12.5,15 0 1,0 25.1,0a12.5,15 0 1,0 -25.1,0ZM1180.7,3952a13.8,10.2 0 1,0 27.6,0a13.8,10.2 0 1,0 -27.6,0ZM1473.7,3942.9a10.1,11.6 0 1,0 20.3,0a10.1,11.6 0 1,0 -20.3,0ZM1550.2,3972.9a8.4,11.1 0 1,0 16.7,0a8.4,11.1 0 1,0 -16.7,0ZM1490.6,3950.8a13.7,16.7 0 1,0 27.4,0a13.7,16.7 0 1,0 -27.4,0ZM1258.6,3955a13.9,15.7 0 1,0 27.9,0a13.9,15.7 0 1,0 -27.9,0ZM1498.5,3953a12.9,10.6 0 1,0 25.8,0a12.9,10.6 0 1,0 -25.8,0ZM1190,3976.8a8.2,12.2 0 1,0 16.5,0a8.2,12.2 0 1,0 -16.5,0ZM1123.1,3977.7a12.4,13.5 0 1,0 24.8,0a12.4,13.5 0 1,0 -24.8,0ZM1258.9,3983.5a9.6,18.6 0 1,0 19.3,0a9.6,18.6 0 1,0 -19.3,0ZM1396.9,3950.3a8.9,16.7 0 1,0 17.7,0a8.9,16.7 0 1,0 -17.7,0ZM1151.2,3969.3a15.1,15.9 0 1,0 30.2,0a15.1,15.9 0 1,0 -30.2,0ZM1346.7,3944.1a14.1,17.1 0 1,0 28.1,0a14.1,17.1 0 1,0 -28.1,0ZM1188.7,3998.1a10,12.6 0 1,0 20,0a10,12.6 0 1,0 -20,0ZM1175.5,3922.7a14.3,13 0 1,0 28.6,0a14.3,13 0 1,0 -28.6,0ZM1394.8,3968a14.6,14.3 0 1,0 29.1,0a14.6,14.3 0 1,0 -29.1,0ZM1204.5,3980.4a11.9,12.5 0 1,0 23.8,0a11.9,12.5 0 1,0 -23.8,0ZM1363.8,3926.4a10.6,12.1 0 1,0 21.3,0a10.6,12.1 0 1,0 -21.3,0ZM1570.2,3958.6a8.2,10.6 0 1,0 16.5,0a8.2,10.6 0 1,0 -16.5,0ZM1126.1,3948.8a13.7,14 0 1,0 27.4,0a13.7,14 0 1,0 -27.4,0ZM1101.8,3969.2a15.2,14.9 0 1,0 30.4,0a15.2,14.9 0 1,0 -30.4,0ZM1557.7,3929.4a7.7,16.6 0 1,0 15.5,0a7.7,16.6 0 1,0 -15.5,0ZM1412.8,3956.3a9.6,15.9 0 1,0 19.3,0a9.6,15.9 0 1,0 -19.3,0ZM1129.7,3964.7a11,18.7 0 1,0 22,0a11,18.7 0 1,0 -22,0ZM1507,3979a11.4,11.9 0 1,0 22.8,0a11.4,11.9 0 1,0 -22.8,0ZM1526.6,3928.7a9.9,15.9 0 1,0 19.8,0a9.9,15.9 0 1,0 -19.8,0ZM1373.1,3988.2a13.4,15 0 1,0 26.9,0a13.4,15 0 1,0 -26.9,0ZM1462.8,3956.8a7.6,13.1 0 1,0 15.2,0a7.6,13.1 0 1,0 -15.2,0ZM1080.9,3923.8a14.3,17.6 0 1,0 28.6,0a14.3,17.6 0 1,0 -28.6,0ZM1223.2,3996a14.3,18.6 0 1,0 28.6,0a14.3,18.6 0 1,0 -28.6,0ZM1119.8,3960.5a8.1,17 0 1,0 16.2,0a8.1,17 0 1,0 -16.2,0ZM1452.7,3990.2a11.3,15 0 1,0 22.6,0a11.3,15 0 1,0 -22.6,0ZM1205.8,3928.5a10.8,12.1 0 1,0 21.5,0a10.8,12.1 0 1,0 -21.5,0ZM1342.9,3940.4a9.1,13 0 1,0 18.2,0a9.1,13 0 1,0 -18.2,0ZM1566.4,3947a10.9,14.8 0 1,0 21.8,0a10.9,14.8 0 1,0 -21.8,0ZM1135.2,3982.2a10.1,15.4 0 1,0 20.3,0a10.1,15.4 0 1,0 -20.3,0ZM1191.1,3982.6a8.1,15.8 0 1,0 16.2,0a8.1,15.8 0 1,0 -16.2,0ZM1184.5,3925.7a14.2,10.8 0 1,0 28.4,0a14.2,10.8 0 1,0 -28.4,0ZM1193.9,3945.4a9.2,11.3 0 1,0 18.5,0a9.2,11.3 0 1,0 -18.5,0ZM1536.7,3953.5a11.1,17.2 0 1,0 22.3,0a11.1,17.2 0 1,0 -22.3,0ZM1476.2,3985a8.4,14 0 1,0 16.7,0a8.4,14 0 1,0 -16.7,0ZM1281.7,3962.1a13.2,16.2 0 1,0 26.4,0a13.2,16.2 0 1,0 -26.4,0ZM1561.2,3992.6a10.6,13.3 0 1,0 21.3,0a10.6,13.3 0 1,0 -21.3,0ZM1502.4,3980.2a9,14.1 0 1,0 18,0a9,14.1 0 1,0 -18,0ZM1284.5,3977.7a9.5,18.5 0 1,0 19,0a9.5,18.5 0 1,0 -19,0ZM1292.7,3929.4a11.8,10.7 0 1,0 23.6,0a11.8,10.7 0 1,0 -23.6,0ZM1564.4,3931.6a15,18.5 0 1,0 29.9,0a15,18.5 0 1,0 -29.9,0ZM1493.7,3987a11.3,12.1 0 1,0 22.6,0a11.3,12.1 0 1,0 -22.6,0ZM1273.2,3996a10.5,19 0 1,0 21,0a10.5,19 0 1,0 -21,0ZM1205.6,3935.8a11,14 0 1,0 22,0a11,14 0 1,0 -22,0ZM1351.4,3941.3a8.7,12.9 0 1,0 17.5,0a8.7,12.9 0 1,0 -17.5,0ZM1552.5,3952.9a11.8,16.8 0 1,0 23.6,0a11.8,16.8 0 1,0 -23.6,0ZM1102.4,3952.4a11.4,17.8 0 1,0 22.8,0a11.4,17.8 0 1,0 -22.8,0ZM1155.1,3921.1a8.2,11.9 0 1,0 16.5,0a8.2,11.9 0 1,0 -16.5,0ZM1370.3,3944.8a9.4,11.2 0 1,0 18.8,0a9.4,11.2 0 1,0 -18.8,0ZM1513.3,3980.4a12.2,15.7 0 1,0 24.3,0a12.2,15.7 0 1,0 -24.3,0ZM1281.2,3952.5a11.5,18.5 0 1,0 23.1,0a11.5,18.5 0 1,0 -23.1,0Z" fill="#0000f0"/>
<path d="M686.5,3918C698.1,3903.9 734,3926.5 756.1,3924.3C778.3,3922.2 801.6,3912.6 819.5,3905.2C837.4,3897.8 852.2,3891.4 863.8,3879.7C875.5,3868 880.7,3836.2 889.2,3835.1C897.6,3834.1 905,3859.5 914.5,3873.4C924,3887.2 932.5,3907.3 946.2,3918C959.9,3928.6 983.2,3929.6 996.9,3937.1C1010.6,3944.5 1021.2,3950.7 1028.6,3962.6C1035.9,3974.5 1098.2,4000.8 1041.2,4008.4C984.2,4016.1 745.6,4023.5 686.5,4008.4C627.3,3993.4 674.9,3932 686.5,3918Z" fill="#7878ff"/>
<path d="M699.4,3920.9a7.1,12.5 0 1,0 14.2,0a7.1,12.5 0 1,0 -14.2,0ZM922.5,3909.8a8.6,12.7 0 1,0 17.2,0a8.6,12.7 0 1,0 -17.2,0ZM691.4,3951.2a8.2,15.4 0 1,0 16.5,0a8.2,15.4 0 1,0 -16.5,0ZM878.4,3914.1a8.5,10.3 0 1,0 17,0a8.5,10.3 0 1,0 -17,0ZM817.2,3989.8a8.9,12.7 0 1,0 17.7,0a8.9,12.7 0 1,0 -17.7,0ZM957.9,3932.4a8.9,13.4 0 1,0 17.7,0a8.9,13.4 0 1,0 -17.7,0ZM819.9,3995.2a6.6,16.2 0 1,0 13.2,0a6.6,16.2 0 1,0 -13.2,0ZM979.5,3966.8a10.9,12.9 0 1,0 21.8,0a10.9,12.9 0 1,0 -21.8,0ZM890.3,3893.7a9.8,9.7 0 1,0 19.5,0a9.8,9.7 0 1,0 -19.5,0ZM902.9,3910.6a10.9,11.5 0 1,0 21.8,0a10.9,11.5 0 1,0 -21.8,0ZM873.2,3920.4a7.2,15.4 0 1,0 14.4,0a7.2,15.4 0 1,0 -14.4,0ZM960.4,3995.1a9.4,11.7 0 1,0 18.8,0a9.4,11.7 0 1,0 -18.8,0ZM747.5,3931.5a11.3,13.1 0 1,0 22.6,0a11.3,13.1 0 1,0 -22.6,0ZM722.7,3944.1a10.3,16.2 0 1,0 20.5,0a10.3,16.2 0 1,0 -20.5,0ZM935.2,3996.1a11.3,13.5 0 1,0 22.6,0a11.3,13.5 0 1,0 -22.6,0ZM715.7,3986.3a6.7,14 0 1,0 13.4,0a6.7,14 0 1,0 -13.4,0ZM722.8,3939.4a8.6,9.2 0 1,0 17.2,0a8.6,9.2 0 1,0 -17.2,0ZM803.7,3918.5a8.9,16.1 0 1,0 17.7,0a8.9,16.1 0 1,0 -17.7,0ZM987,3956.6a9.9,9.7 0 1,0 19.8,0a9.9,9.7 0 1,0 -19.8,0ZM827.1,3922.2a9.2,11 0 1,0 18.5,0a9.2,11 0 1,0 -18.5,0ZM892.9,3896.2a8,11.6 0 1,0 16,0a8,11.6 0 1,0 -16,0ZM748.2,3980.4a10.5,14.3 0 1,0 21,0a10.5,14.3 0 1,0 -21,0ZM751.2,3975.9a8.2,16.4 0 1,0 16.5,0a8.2,16.4 0 1,0 -16.5,0ZM766,3948.3a6.6,9.2 0 1,0 13.2,0a6.6,9.2 0 1,0 -13.2,0ZM877.5,3930.4a8.9,15.9 0 1,0 17.7,0a8.9,15.9 0 1,0 -17.7,0ZM891.2,3970.6a7,14.8 0 1,0 13.9,0a7,14.8 0 1,0 -13.9,0ZM737.8,4000a9.9,9.8 0 1,0 19.8,0a9.9,9.8 0 1,0 -19.8,0ZM905.1,3977.7a8.5,9 0 1,0 17,0a8.5,9 0 1,0 -17,0ZM818.6,3963.1a7.6,9.9 0 1,0 15.2,0a7.6,9.9 0 1,0 -15.2,0ZM889.7,3921.4a7.3,9.3 0 1,0 14.7,0a7.3,9.3 0 1,0 -14.7,0ZM780.2,3920.6a7.7,13.9 0 1,0 15.5,0a7.7,13.9 0 1,0 -15.5,0ZM733.2,3975.2a10,12.6 0 1,0 20,0a10,12.6 0 1,0 -20,0ZM910.2,3968a9.8,11.2 0 1,0 19.5,0a9.8,11.2 0 1,0 -19.5,0ZM852.6,3949.8a10.9,14.7 0 1,0 21.8,0a10.9,14.7 0 1,0 -21.8,0ZM878,3903.8a9.4,14.4 0 1,0 18.8,0a9.4,14.4 0 1,0 -18.8,0ZM869.2,3934.8a7.5,16.1 0 1,0 15,0a7.5,16.1 0 1,0 -15,0ZM910.2,3906.7a9.4,9 0 1,0 18.8,0a9.4,9 0 1,0 -18.8,0ZM998.5,3974.3a11.3,13.6 0 1,0 22.6,0a11.3,13.6 0 1,0 -22.6,0ZM944.2,3941.5a7.6,12.6 0 1,0 15.2,0a7.6,12.6 0 1,0 -15.2,0ZM848.6,3966.6a8.1,12.4 0 1,0 16.2,0a8.1,12.4 0 1,0 -16.2,0Z" fill="#2828ff"/>
<path d="M831.8,3938.6a6,7.3 0 1,0 11.9,0a6,7.3 0 1,0 -11.9,0ZM768.6,3997.5a4.1,6.4 0 1,0 8.1,0a4.1,6.4 0 1,0 -8.1,0ZM742.1,3941.9a6.3,9.9 0 1,0 12.7,0a6.3,9.9 0 1,0 -12.7,0ZM821.5,3954.3a5.6,8 0 1,0 11.1,0a5.6,8 0 1,0 -11.1,0ZM907.8,3987.9a3.9,6.9 0 1,0 7.9,0a3.9,6.9 0 1,0 -7.9,0ZM1027.5,3988.4a5.4,11.3 0 1,0 10.9,0a5.4,11.3 0 1,0 -10.9,0ZM700.1,3956.6a5.1,11.1 0 1,0 10.1,0a5.1,11.1 0 1,0 -10.1,0ZM755.3,3971.1a4.4,6.6 0 1,0 8.9,0a4.4,6.6 0 1,0 -8.9,0ZM926.8,3907.1a4.9,6.6 0 1,0 9.9,0a4.9,6.6 0 1,0 -9.9,0ZM918.7,3963.1a6,9.6 0 1,0 11.9,0a6,9.6 0 1,0 -11.9,0ZM897.7,3938.9a4.4,8.7 0 1,0 8.9,0a4.4,8.7 0 1,0 -8.9,0ZM809.6,3906.7a6,6.6 0 1,0 11.9,0a6,6.6 0 1,0 -11.9,0ZM744.7,3975.2a3.8,10.2 0 1,0 7.6,0a3.8,10.2 0 1,0 -7.6,0ZM915.9,3938.5a6.3,8.2 0 1,0 12.7,0a6.3,8.2 0 1,0 -12.7,0ZM758.7,3988.1a4.7,10.7 0 1,0 9.4,0a4.7,10.7 0 1,0 -9.4,0ZM903.1,3994a4.9,6.6 0 1,0 9.9,0a4.9,6.6 0 1,0 -9.9,0ZM909.6,3986.8a4.3,9.7 0 1,0 8.6,0a4.3,9.7 0 1,0 -8.6,0ZM792.5,3926.8a4.4,6.4 0 1,0 8.9,0a4.4,6.4 0 1,0 -8.9,0ZM784.5,3921.9a5.4,7.4 0 1,0 10.9,0a5.4,7.4 0 1,0 -10.9,0ZM780.9,3993.4a5.1,10.8 0 1,0 10.1,0a5.1,10.8 0 1,0 -10.1,0ZM900.5,3938.1a5.1,7.8 0 1,0 10.1,0a5.1,7.8 0 1,0 -10.1,0ZM794,3954.5a5.2,11.2 0 1,0 10.4,0a5.2,11.2 0 1,0 -10.4,0ZM712.4,3971.9a6.2,9.7 0 1,0 12.4,0a6.2,9.7 0 1,0 -12.4,0ZM713.7,3950.2a5.4,11 0 1,0 10.9,0a5.4,11 0 1,0 -10.9,0ZM961,3968.8a5.2,10.6 0 1,0 10.4,0a5.2,10.6 0 1,0 -10.4,0ZM773.9,3920.4a5.2,6.8 0 1,0 10.4,0a5.2,6.8 0 1,0 -10.4,0ZM785,3953.5a4.2,11.2 0 1,0 8.4,0a4.2,11.2 0 1,0 -8.4,0ZM776.2,3974.2a5.3,9 0 1,0 10.6,0a5.3,9 0 1,0 -10.6,0ZM800.9,3963.5a5.1,11 0 1,0 10.1,0a5.1,11 0 1,0 -10.1,0ZM971.4,3957a6.2,10.2 0 1,0 12.4,0a6.2,10.2 0 1,0 -12.4,0Z" fill="#0000f0"/>
<path d="M880.8,3935.7C879.1,3929.5 881.9,3911.6 884.1,3898.7C886.4,3885.8 889.8,3868.5 894.3,3858.4C898.7,3848.4 908.7,3837.2 911,3838.3C913.2,3839.4 909.9,3854 907.7,3865.2C905.4,3876.4 899.8,3893.7 897.5,3905.5C895.3,3917.2 897,3930.6 894.3,3935.7C891.5,3940.7 882.5,3941.8 880.8,3935.7Z" fill="#7878ff"/>
<path d="M1360.8,3959.3a3.8,8.9 0 1,0 7.6,0a3.8,8.9 0 1,0 -7.6,0ZM1501.8,3965.9a3.8,8.9 0 1,0 7.6,0a3.8,8.9 0 1,0 -7.6,0ZM1330.5,3915.5a3.8,7.6 0 1,0 7.6,0a3.8,7.6 0 1,0 -7.6,0ZM1219.7,3955.8a3.8,7.6 0 1,0 7.6,0a3.8,7.6 0 1,0 -7.6,0ZM1550.8,3925.6a5.1,6.4 0 1,0 10.1,0a5.1,6.4 0 1,0 -10.1,0ZM840,3730.9a3.8,7.6 0 1,0 7.6,0a3.8,7.6 0 1,0 -7.6,0ZM950.4,3811.4a7.6,6.4 0 1,0 15.2,0a7.6,6.4 0 1,0 -15.2,0ZM938.7,3835a7.6,6.4 0 1,0 15.2,0a7.6,6.4 0 1,0 -15.2,0ZM726.8,3925.6a6.3,3.8 0 1,0 12.7,0a6.3,3.8 0 1,0 -12.7,0Z" fill="#7878ff"/>
<path d="M692.8,3613.4C695.1,3616.5 700,3633.3 706.7,3632.5C713.5,3631.6 724.5,3610.6 733.3,3608.3C742.2,3605.9 752.1,3614.4 760,3618.5C767.8,3622.5 774.5,3631.8 780.2,3632.5C785.9,3633.1 786.3,3622.3 794.2,3622.3C802,3622.3 817.2,3629.1 827.1,3632.5C837,3635.9 840.2,3640.5 853.7,3642.7C867.2,3644.8 890.2,3644.8 908.2,3645.2C926.1,3645.6 947,3646.3 961.4,3645.2C975.8,3644.2 982.1,3639.7 994.3,3638.8C1006.6,3638 1028.1,3639.9 1034.9,3640.1" fill="none" stroke="#000" stroke-width="8.5" stroke-linecap="round" stroke-linejoin="round"/>
<path d="M1152.7,3642.7C1156.3,3643.7 1166.4,3648.6 1174.3,3649C1182.1,3649.5 1191.2,3644.6 1199.6,3645.2C1208,3645.9 1215.9,3652.2 1224.9,3652.9C1234,3653.5 1245.6,3648.4 1254.1,3649C1262.5,3649.7 1268.9,3654.6 1275.6,3656.7C1282.4,3658.8 1290,3658.6 1294.6,3661.8C1299.3,3665 1300.3,3673 1303.5,3675.8C1306.7,3678.6 1310.7,3679.8 1313.6,3678.4C1316.6,3676.9 1320,3668.8 1321.2,3666.9" fill="none" stroke="#000" stroke-width="8.5" stroke-linecap="round" stroke-linejoin="round"/>
<path d="M1434,3643.9C1437.2,3642.7 1445.6,3636.3 1453,3636.3C1460.4,3636.3 1469.9,3643.7 1478.3,3643.9C1486.8,3644.2 1495.2,3637.6 1503.7,3637.6C1512.1,3637.6 1520.6,3644.4 1529,3643.9C1537.5,3643.5 1545.9,3637.6 1554.4,3635C1562.8,3632.5 1573.4,3629.9 1579.7,3628.6C1586,3627.4 1590.3,3627.6 1592.4,3627.4" fill="none" stroke="#000" stroke-width="8.5" stroke-linecap="round" stroke-linejoin="round"/>
<path d="M1076.9,3363.7a8,8 0 1,0 16,0a8,8 0 1,0 -16,0ZM1483.2,3622.1a9,9 0 1,0 18,0a9,9 0 1,0 -18,0ZM1519,3622.1a10,10 0 1,0 20,0a10,10 0 1,0 -20,0ZM1547.9,3608.8a8,8 0 1,0 16,0a8,8 0 1,0 -16,0Z" fill="#000"/>
<use href="#coast" x="692.8" y="4000.8"/>
<text class="ct" style="font-size:62px" transform="translate(1069.1,3641.4) rotate(0)" x="0" y="22.3">−45</text>
<text class="ct" style="font-size:62px" transform="translate(1366.8,3649) rotate(0)" x="0" y="22.3">−45</text>
</g>
<line x1="692.8" y1="3299.8" x2="692.8" y2="3286.8" stroke="#000" stroke-width="3"/>
<line x1="692.8" y1="4000.8" x2="692.8" y2="4013.8" stroke="#000" stroke-width="3"/>
<line x1="819.5" y1="3299.8" x2="819.5" y2="3286.8" stroke="#000" stroke-width="3"/>
<line x1="819.5" y1="4000.8" x2="819.5" y2="4013.8" stroke="#000" stroke-width="3"/>
<line x1="946.2" y1="3299.8" x2="946.2" y2="3273.8" stroke="#000" stroke-width="5"/>
<line x1="946.2" y1="4000.8" x2="946.2" y2="4026.8" stroke="#000" stroke-width="5"/>
<line x1="1072.9" y1="3299.8" x2="1072.9" y2="3286.8" stroke="#000" stroke-width="3"/>
<line x1="1072.9" y1="4000.8" x2="1072.9" y2="4013.8" stroke="#000" stroke-width="3"/>
<line x1="1199.6" y1="3299.8" x2="1199.6" y2="3286.8" stroke="#000" stroke-width="3"/>
<line x1="1199.6" y1="4000.8" x2="1199.6" y2="4013.8" stroke="#000" stroke-width="3"/>
<line x1="1326.3" y1="3299.8" x2="1326.3" y2="3273.8" stroke="#000" stroke-width="5"/>
<line x1="1326.3" y1="4000.8" x2="1326.3" y2="4026.8" stroke="#000" stroke-width="5"/>
<line x1="1453" y1="3299.8" x2="1453" y2="3286.8" stroke="#000" stroke-width="3"/>
<line x1="1453" y1="4000.8" x2="1453" y2="4013.8" stroke="#000" stroke-width="3"/>
<line x1="1579.7" y1="3299.8" x2="1579.7" y2="3286.8" stroke="#000" stroke-width="3"/>
<line x1="1579.7" y1="4000.8" x2="1579.7" y2="4013.8" stroke="#000" stroke-width="3"/>
<line x1="692.8" y1="4000.8" x2="665.8" y2="4000.8" stroke="#000" stroke-width="5"/>
<line x1="1579.7" y1="4000.8" x2="1606.7" y2="4000.8" stroke="#000" stroke-width="5"/>
<line x1="692.8" y1="3937.1" x2="678.8" y2="3937.1" stroke="#000" stroke-width="3"/>
<line x1="1579.7" y1="3937.1" x2="1593.7" y2="3937.1" stroke="#000" stroke-width="3"/>
<line x1="692.8" y1="3873.4" x2="678.8" y2="3873.4" stroke="#000" stroke-width="3"/>
<line x1="1579.7" y1="3873.4" x2="1593.7" y2="3873.4" stroke="#000" stroke-width="3"/>
<line x1="692.8" y1="3809.6" x2="678.8" y2="3809.6" stroke="#000" stroke-width="3"/>
<line x1="1579.7" y1="3809.6" x2="1593.7" y2="3809.6" stroke="#000" stroke-width="3"/>
<line x1="692.8" y1="3745.9" x2="665.8" y2="3745.9" stroke="#000" stroke-width="5"/>
<line x1="1579.7" y1="3745.9" x2="1606.7" y2="3745.9" stroke="#000" stroke-width="5"/>
<line x1="692.8" y1="3682.2" x2="678.8" y2="3682.2" stroke="#000" stroke-width="3"/>
<line x1="1579.7" y1="3682.2" x2="1593.7" y2="3682.2" stroke="#000" stroke-width="3"/>
<line x1="692.8" y1="3618.5" x2="678.8" y2="3618.5" stroke="#000" stroke-width="3"/>
<line x1="1579.7" y1="3618.5" x2="1593.7" y2="3618.5" stroke="#000" stroke-width="3"/>
<line x1="692.8" y1="3554.7" x2="678.8" y2="3554.7" stroke="#000" stroke-width="3"/>
<line x1="1579.7" y1="3554.7" x2="1593.7" y2="3554.7" stroke="#000" stroke-width="3"/>
<line x1="692.8" y1="3491" x2="665.8" y2="3491" stroke="#000" stroke-width="5"/>
<line x1="1579.7" y1="3491" x2="1606.7" y2="3491" stroke="#000" stroke-width="5"/>
<line x1="692.8" y1="3427.3" x2="678.8" y2="3427.3" stroke="#000" stroke-width="3"/>
<line x1="1579.7" y1="3427.3" x2="1593.7" y2="3427.3" stroke="#000" stroke-width="3"/>
<line x1="692.8" y1="3363.6" x2="678.8" y2="3363.6" stroke="#000" stroke-width="3"/>
<line x1="1579.7" y1="3363.6" x2="1593.7" y2="3363.6" stroke="#000" stroke-width="3"/>
<line x1="692.8" y1="3299.8" x2="678.8" y2="3299.8" stroke="#000" stroke-width="3"/>
<line x1="1579.7" y1="3299.8" x2="1593.7" y2="3299.8" stroke="#000" stroke-width="3"/>
<rect x="692.8" y="3299.8" width="886.9" height="701" fill="none" stroke="#000" stroke-width="6"/>
<text class="yl" x="634.8" y="3507.5">40N</text>
<text class="yl" x="634.8" y="3762.4">20N</text>
<text class="yl" x="634.8" y="4017.3">0</text>
<text class="xl" x="946.2" y="4076.3">90E</text>
<text class="xl" x="1326.3" y="4076.3">120E</text>
<text class="tt" x="1134.2" y="3253.3">(g) Ci</text>
<path d="M764.1,4094 L703.8,4126 L764.1,4158 Z" fill="#000078"/>
<rect x="763.8" y="4094" width="62.8" height="64" fill="#0000a0" shape-rendering="crispEdges"/>
<rect x="825.9" y="4094" width="62.8" height="64" fill="#0000c8" shape-rendering="crispEdges"/>
<rect x="888.1" y="4094" width="62.8" height="64" fill="#0000f0" shape-rendering="crispEdges"/>
<rect x="950.3" y="4094" width="62.8" height="64" fill="#2828ff" shape-rendering="crispEdges"/>
<rect x="1012.4" y="4094" width="62.8" height="64" fill="#7878ff" shape-rendering="crispEdges"/>
<rect x="1074.6" y="4094" width="62.8" height="64" fill="#c0c0ff" shape-rendering="crispEdges"/>
<rect x="1136.8" y="4094" width="62.8" height="64" fill="#ffc0c0" shape-rendering="crispEdges"/>
<rect x="1198.9" y="4094" width="62.8" height="64" fill="#ff7878" shape-rendering="crispEdges"/>
<rect x="1261.1" y="4094" width="62.8" height="64" fill="#ff2828" shape-rendering="crispEdges"/>
<rect x="1323.2" y="4094" width="62.8" height="64" fill="#f00000" shape-rendering="crispEdges"/>
<rect x="1385.4" y="4094" width="62.8" height="64" fill="#c80000" shape-rendering="crispEdges"/>
<rect x="1447.5" y="4094" width="62.8" height="64" fill="#a00000" shape-rendering="crispEdges"/>
<path d="M1509.4,4094 L1569.7,4126 L1509.4,4158 Z" fill="#780000"/>
<text class="cl" x="827.8" y="4202.7">−70</text>
<text class="cl" x="952.2" y="4202.7">−60</text>
<text class="cl" x="1076.5" y="4202.7">−50</text>
<text class="cl" x="1200.8" y="4202.7">−40</text>
<text class="cl" x="1325.1" y="4202.7">−30</text>
<text class="cl" x="1449.5" y="4202.7">−20</text>
</g>
</svg>
</body>
</html>
